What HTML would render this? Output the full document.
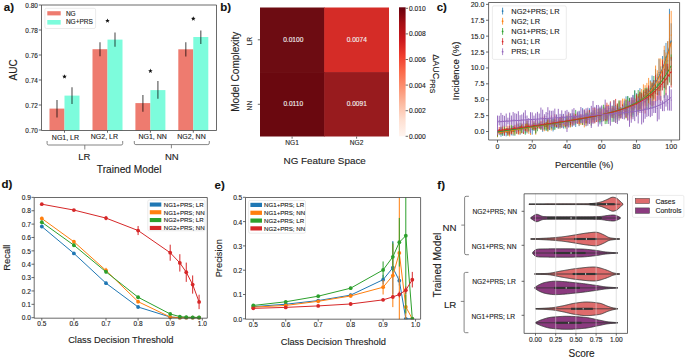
<!DOCTYPE html>
<html><head><meta charset="utf-8"><style>
html,body{margin:0;padding:0;background:#fff;}
svg{display:block;font-family:"Liberation Sans", sans-serif;}
text{stroke-width:0.12px;}
</style></head><body>
<svg width="685" height="359" viewBox="0 0 685 359">
<rect width="685" height="359" fill="#fff"/>
<text x="3.80" y="10.90" font-size="11.5" text-anchor="start" font-weight="bold" fill="#111" stroke="#111">a)</text>
<rect x="49.50" y="108.60" width="15.00" height="21.90" fill="#ee7b6f" stroke="none" stroke-width="0" rx="0"/>
<rect x="64.50" y="95.60" width="15.00" height="34.90" fill="#7dfcdc" stroke="none" stroke-width="0" rx="0"/>
<line x1="57.00" y1="100.10" x2="57.00" y2="117.50" stroke="#000" stroke-width="1.2" stroke-opacity="0.62"/>
<line x1="72.00" y1="87.20" x2="72.00" y2="104.10" stroke="#000" stroke-width="1.2" stroke-opacity="0.62"/>
<polygon points="64.50,74.20 65.12,75.75 66.78,75.86 65.50,76.92 65.91,78.54 64.50,77.65 63.09,78.54 63.50,76.92 62.22,75.86 63.88,75.75" fill="#111"/>
<rect x="92.50" y="49.20" width="15.00" height="81.30" fill="#ee7b6f" stroke="none" stroke-width="0" rx="0"/>
<rect x="107.50" y="39.60" width="15.00" height="90.90" fill="#7dfcdc" stroke="none" stroke-width="0" rx="0"/>
<line x1="100.00" y1="42.30" x2="100.00" y2="56.30" stroke="#000" stroke-width="1.2" stroke-opacity="0.62"/>
<line x1="115.00" y1="32.50" x2="115.00" y2="46.80" stroke="#000" stroke-width="1.2" stroke-opacity="0.62"/>
<polygon points="107.50,18.40 108.12,19.95 109.78,20.06 108.50,21.12 108.91,22.74 107.50,21.85 106.09,22.74 106.50,21.12 105.22,20.06 106.88,19.95" fill="#111"/>
<rect x="135.40" y="103.10" width="15.00" height="27.40" fill="#ee7b6f" stroke="none" stroke-width="0" rx="0"/>
<rect x="150.40" y="90.10" width="15.00" height="40.40" fill="#7dfcdc" stroke="none" stroke-width="0" rx="0"/>
<line x1="142.90" y1="95.10" x2="142.90" y2="111.80" stroke="#000" stroke-width="1.2" stroke-opacity="0.62"/>
<line x1="157.90" y1="80.90" x2="157.90" y2="98.80" stroke="#000" stroke-width="1.2" stroke-opacity="0.62"/>
<polygon points="150.40,68.60 151.02,70.15 152.68,70.26 151.40,71.32 151.81,72.94 150.40,72.05 148.99,72.94 149.40,71.32 148.12,70.26 149.78,70.15" fill="#111"/>
<rect x="178.30" y="49.30" width="15.00" height="81.20" fill="#ee7b6f" stroke="none" stroke-width="0" rx="0"/>
<rect x="193.30" y="37.00" width="15.00" height="93.50" fill="#7dfcdc" stroke="none" stroke-width="0" rx="0"/>
<line x1="185.80" y1="42.30" x2="185.80" y2="56.50" stroke="#000" stroke-width="1.2" stroke-opacity="0.62"/>
<line x1="200.80" y1="30.60" x2="200.80" y2="44.00" stroke="#000" stroke-width="1.2" stroke-opacity="0.62"/>
<polygon points="193.30,16.30 193.92,17.85 195.58,17.96 194.30,19.02 194.71,20.64 193.30,19.75 191.89,20.64 192.30,19.02 191.02,17.96 192.68,17.85" fill="#111"/>
<line x1="41.50" y1="5.00" x2="41.50" y2="130.50" stroke="#444" stroke-width="0.8"/>
<line x1="216.50" y1="5.00" x2="216.50" y2="130.50" stroke="#444" stroke-width="0.8"/>
<line x1="41.50" y1="5.00" x2="216.50" y2="5.00" stroke="#444" stroke-width="0.8"/>
<line x1="41.50" y1="130.50" x2="216.50" y2="130.50" stroke="#444" stroke-width="0.8"/>
<line x1="38.80" y1="130.00" x2="41.50" y2="130.00" stroke="#444" stroke-width="0.8"/>
<text x="37.80" y="133.00" font-size="6.4" text-anchor="end" font-weight="normal" fill="#222" stroke="#222">0.70</text>
<line x1="38.80" y1="105.00" x2="41.50" y2="105.00" stroke="#444" stroke-width="0.8"/>
<text x="37.80" y="108.00" font-size="6.4" text-anchor="end" font-weight="normal" fill="#222" stroke="#222">0.72</text>
<line x1="38.80" y1="80.00" x2="41.50" y2="80.00" stroke="#444" stroke-width="0.8"/>
<text x="37.80" y="83.00" font-size="6.4" text-anchor="end" font-weight="normal" fill="#222" stroke="#222">0.74</text>
<line x1="38.80" y1="55.00" x2="41.50" y2="55.00" stroke="#444" stroke-width="0.8"/>
<text x="37.80" y="58.00" font-size="6.4" text-anchor="end" font-weight="normal" fill="#222" stroke="#222">0.76</text>
<line x1="38.80" y1="30.00" x2="41.50" y2="30.00" stroke="#444" stroke-width="0.8"/>
<text x="37.80" y="33.00" font-size="6.4" text-anchor="end" font-weight="normal" fill="#222" stroke="#222">0.78</text>
<line x1="38.80" y1="5.00" x2="41.50" y2="5.00" stroke="#444" stroke-width="0.8"/>
<text x="37.80" y="8.00" font-size="6.4" text-anchor="end" font-weight="normal" fill="#222" stroke="#222">0.80</text>
<line x1="64.50" y1="130.50" x2="64.50" y2="132.70" stroke="#444" stroke-width="0.8"/>
<line x1="107.50" y1="130.50" x2="107.50" y2="132.70" stroke="#444" stroke-width="0.8"/>
<line x1="150.40" y1="130.50" x2="150.40" y2="132.70" stroke="#444" stroke-width="0.8"/>
<line x1="193.30" y1="130.50" x2="193.30" y2="132.70" stroke="#444" stroke-width="0.8"/>
<text x="65.45" y="139.70" font-size="7" text-anchor="middle" font-weight="normal" fill="#222" stroke="#222">NG1, LR</text>
<text x="104.40" y="138.80" font-size="7" text-anchor="middle" font-weight="normal" fill="#222" stroke="#222">NG2, LR</text>
<text x="152.60" y="139.10" font-size="7" text-anchor="middle" font-weight="normal" fill="#222" stroke="#222">NG1, NN</text>
<text x="191.50" y="139.10" font-size="7" text-anchor="middle" font-weight="normal" fill="#222" stroke="#222">NG2, NN</text>
<path d="M47.10,141.00 L47.10,143.50 Q47.10,145.00 48.60,145.00 L121.20,145.00 Q122.70,145.00 122.70,143.50 L122.70,141.00 M84.80,145.00 L84.80,149.50" fill="none" stroke="#666" stroke-width="0.8"/>
<path d="M134.30,141.00 L134.30,143.10 Q134.30,144.60 135.80,144.60 L207.80,144.60 Q209.30,144.60 209.30,143.10 L209.30,141.00 M171.40,144.60 L171.40,148.30" fill="none" stroke="#666" stroke-width="0.8"/>
<text x="84.30" y="160.30" font-size="9.5" text-anchor="middle" font-weight="normal" fill="#222" stroke="#222">LR</text>
<text x="171.85" y="159.80" font-size="9.5" text-anchor="middle" font-weight="normal" fill="#222" stroke="#222">NN</text>
<text x="129.20" y="172.70" font-size="10.2" text-anchor="middle" font-weight="normal" fill="#222" stroke="#222">Trained Model</text>
<text x="16.70" y="69.90" font-size="10" text-anchor="middle" font-weight="normal" fill="#222" stroke="#222" transform="rotate(-90 16.7 69.9)">AUC</text>
<rect x="44.90" y="8.30" width="50.70" height="20.20" fill="#fff" stroke="#ddd" stroke-width="0.6" rx="1.5" fill-opacity="0.85"/>
<rect x="47.30" y="11.20" width="13.40" height="4.20" fill="#ee7b6f" stroke="none" stroke-width="0" rx="0"/>
<rect x="47.30" y="20.00" width="13.40" height="4.60" fill="#7dfcdc" stroke="none" stroke-width="0" rx="0"/>
<text x="65.90" y="15.60" font-size="6.5" text-anchor="start" font-weight="normal" fill="#222" stroke="#222">NG</text>
<text x="65.90" y="24.40" font-size="6.5" text-anchor="start" font-weight="normal" fill="#222" stroke="#222">NG+PRS</text>
<text x="220.30" y="10.90" font-size="11.5" text-anchor="start" font-weight="bold" fill="#111" stroke="#111">b)</text>
<rect x="260.00" y="7.50" width="64.80" height="65.20" fill="#6d0c12" stroke="none" stroke-width="0" rx="0"/>
<text x="293.30" y="41.90" font-size="6.6" text-anchor="middle" font-weight="normal" fill="#f2f2f2" stroke="#f2f2f2">0.0100</text>
<rect x="324.20" y="7.50" width="64.80" height="65.20" fill="#d52c27" stroke="none" stroke-width="0" rx="0"/>
<text x="356.80" y="41.90" font-size="6.6" text-anchor="middle" font-weight="normal" fill="#f2f2f2" stroke="#f2f2f2">0.0074</text>
<rect x="260.00" y="72.10" width="64.80" height="64.40" fill="#6a080f" stroke="none" stroke-width="0" rx="0"/>
<text x="293.30" y="106.40" font-size="6.6" text-anchor="middle" font-weight="normal" fill="#f2f2f2" stroke="#f2f2f2">0.0110</text>
<rect x="324.20" y="72.10" width="64.80" height="64.40" fill="#981b1e" stroke="none" stroke-width="0" rx="0"/>
<text x="356.80" y="106.40" font-size="6.6" text-anchor="middle" font-weight="normal" fill="#f2f2f2" stroke="#f2f2f2">0.0091</text>
<line x1="257.80" y1="39.80" x2="260.00" y2="39.80" stroke="#444" stroke-width="0.8"/>
<text x="252.40" y="41.10" font-size="6.6" text-anchor="middle" font-weight="normal" fill="#222" stroke="#222" transform="rotate(-90 252.4 41.099999999999994)">LR</text>
<line x1="257.80" y1="104.30" x2="260.00" y2="104.30" stroke="#444" stroke-width="0.8"/>
<text x="252.40" y="105.60" font-size="6.6" text-anchor="middle" font-weight="normal" fill="#222" stroke="#222" transform="rotate(-90 252.4 105.6)">NN</text>
<line x1="292.10" y1="136.50" x2="292.10" y2="138.70" stroke="#444" stroke-width="0.8"/>
<text x="292.10" y="145.30" font-size="6.6" text-anchor="middle" font-weight="normal" fill="#222" stroke="#222">NG1</text>
<line x1="356.60" y1="136.50" x2="356.60" y2="138.70" stroke="#444" stroke-width="0.8"/>
<text x="356.60" y="145.30" font-size="6.6" text-anchor="middle" font-weight="normal" fill="#222" stroke="#222">NG2</text>
<text x="324.70" y="163.70" font-size="9.9" text-anchor="middle" font-weight="normal" fill="#222" stroke="#222">NG Feature Space</text>
<text x="239.30" y="71.70" font-size="10.1" text-anchor="middle" font-weight="normal" fill="#222" stroke="#222" transform="rotate(-90 239.3 71.7)">Model Complexity</text>
<defs><linearGradient id="reds" x1="0" y1="1" x2="0" y2="0"><stop offset="0" stop-color="#fff5f0"/><stop offset="0.125" stop-color="#fee0d2"/><stop offset="0.25" stop-color="#fcbba1"/><stop offset="0.375" stop-color="#fc9272"/><stop offset="0.5" stop-color="#fb6a4a"/><stop offset="0.625" stop-color="#ef3b2c"/><stop offset="0.75" stop-color="#cb181d"/><stop offset="0.875" stop-color="#a50f15"/><stop offset="1" stop-color="#67000d"/></linearGradient></defs>
<rect x="399.00" y="7.30" width="6.60" height="129.00" fill="url(#reds)" stroke="none" stroke-width="0" rx="0"/>
<line x1="405.60" y1="136.30" x2="408.00" y2="136.30" stroke="#444" stroke-width="0.8"/>
<text x="409.00" y="138.70" font-size="6.7" text-anchor="start" font-weight="normal" fill="#222" stroke="#222">0.000</text>
<line x1="405.60" y1="110.70" x2="408.00" y2="110.70" stroke="#444" stroke-width="0.8"/>
<text x="409.00" y="113.10" font-size="6.7" text-anchor="start" font-weight="normal" fill="#222" stroke="#222">0.002</text>
<line x1="405.60" y1="85.10" x2="408.00" y2="85.10" stroke="#444" stroke-width="0.8"/>
<text x="409.00" y="87.50" font-size="6.7" text-anchor="start" font-weight="normal" fill="#222" stroke="#222">0.004</text>
<line x1="405.60" y1="59.50" x2="408.00" y2="59.50" stroke="#444" stroke-width="0.8"/>
<text x="409.00" y="61.90" font-size="6.7" text-anchor="start" font-weight="normal" fill="#222" stroke="#222">0.006</text>
<line x1="405.60" y1="33.90" x2="408.00" y2="33.90" stroke="#444" stroke-width="0.8"/>
<text x="409.00" y="36.30" font-size="6.7" text-anchor="start" font-weight="normal" fill="#222" stroke="#222">0.008</text>
<line x1="405.60" y1="8.30" x2="408.00" y2="8.30" stroke="#444" stroke-width="0.8"/>
<text x="409.00" y="10.70" font-size="6.7" text-anchor="start" font-weight="normal" fill="#222" stroke="#222">0.010</text>
<text x="432.6" y="54.2" font-size="9" fill="#222" stroke="#222" transform="rotate(90 432.6 54.2)">&#916;AUC<tspan font-size="6.8" dy="2.6">PRS</tspan></text>
<text x="436.70" y="11.30" font-size="11.5" text-anchor="start" font-weight="bold" fill="#111" stroke="#111">c)</text>
<defs><clipPath id="clipc"><rect x="488.6" y="2.5" width="191.0" height="137.5"/></clipPath></defs>
<g clip-path="url(#clipc)">
<line x1="497.50" y1="135.50" x2="497.50" y2="129.94" stroke="#1f77b4" stroke-width="0.75"/>
<circle cx="497.50" cy="132.72" r="0.55" fill="#1f77b4"/>
<line x1="499.24" y1="135.17" x2="499.24" y2="128.95" stroke="#1f77b4" stroke-width="0.75"/>
<circle cx="499.24" cy="132.06" r="0.55" fill="#1f77b4"/>
<line x1="500.97" y1="136.72" x2="500.97" y2="128.26" stroke="#1f77b4" stroke-width="0.75"/>
<circle cx="500.97" cy="132.49" r="0.55" fill="#1f77b4"/>
<line x1="502.71" y1="135.62" x2="502.71" y2="130.34" stroke="#1f77b4" stroke-width="0.75"/>
<circle cx="502.71" cy="132.98" r="0.55" fill="#1f77b4"/>
<line x1="504.45" y1="135.60" x2="504.45" y2="128.69" stroke="#1f77b4" stroke-width="0.75"/>
<circle cx="504.45" cy="132.15" r="0.55" fill="#1f77b4"/>
<line x1="506.19" y1="136.35" x2="506.19" y2="128.75" stroke="#1f77b4" stroke-width="0.75"/>
<circle cx="506.19" cy="132.55" r="0.55" fill="#1f77b4"/>
<line x1="507.92" y1="133.70" x2="507.92" y2="128.14" stroke="#1f77b4" stroke-width="0.75"/>
<circle cx="507.92" cy="130.92" r="0.55" fill="#1f77b4"/>
<line x1="509.66" y1="132.32" x2="509.66" y2="125.60" stroke="#1f77b4" stroke-width="0.75"/>
<circle cx="509.66" cy="128.96" r="0.55" fill="#1f77b4"/>
<line x1="511.40" y1="135.30" x2="511.40" y2="126.84" stroke="#1f77b4" stroke-width="0.75"/>
<circle cx="511.40" cy="131.07" r="0.55" fill="#1f77b4"/>
<line x1="513.13" y1="135.73" x2="513.13" y2="126.19" stroke="#1f77b4" stroke-width="0.75"/>
<circle cx="513.13" cy="130.96" r="0.55" fill="#1f77b4"/>
<line x1="514.87" y1="131.42" x2="514.87" y2="126.96" stroke="#1f77b4" stroke-width="0.75"/>
<circle cx="514.87" cy="129.19" r="0.55" fill="#1f77b4"/>
<line x1="516.61" y1="134.05" x2="516.61" y2="124.11" stroke="#1f77b4" stroke-width="0.75"/>
<circle cx="516.61" cy="129.08" r="0.55" fill="#1f77b4"/>
<line x1="518.34" y1="130.91" x2="518.34" y2="127.36" stroke="#1f77b4" stroke-width="0.75"/>
<circle cx="518.34" cy="129.13" r="0.55" fill="#1f77b4"/>
<line x1="520.08" y1="134.72" x2="520.08" y2="125.81" stroke="#1f77b4" stroke-width="0.75"/>
<circle cx="520.08" cy="130.26" r="0.55" fill="#1f77b4"/>
<line x1="521.82" y1="133.46" x2="521.82" y2="124.02" stroke="#1f77b4" stroke-width="0.75"/>
<circle cx="521.82" cy="128.74" r="0.55" fill="#1f77b4"/>
<line x1="523.55" y1="129.76" x2="523.55" y2="125.12" stroke="#1f77b4" stroke-width="0.75"/>
<circle cx="523.55" cy="127.44" r="0.55" fill="#1f77b4"/>
<line x1="525.29" y1="133.40" x2="525.29" y2="126.63" stroke="#1f77b4" stroke-width="0.75"/>
<circle cx="525.29" cy="130.02" r="0.55" fill="#1f77b4"/>
<line x1="527.03" y1="133.39" x2="527.03" y2="123.58" stroke="#1f77b4" stroke-width="0.75"/>
<circle cx="527.03" cy="128.49" r="0.55" fill="#1f77b4"/>
<line x1="528.77" y1="132.21" x2="528.77" y2="128.33" stroke="#1f77b4" stroke-width="0.75"/>
<circle cx="528.77" cy="130.27" r="0.55" fill="#1f77b4"/>
<line x1="530.50" y1="133.42" x2="530.50" y2="124.82" stroke="#1f77b4" stroke-width="0.75"/>
<circle cx="530.50" cy="129.12" r="0.55" fill="#1f77b4"/>
<line x1="532.24" y1="134.64" x2="532.24" y2="124.66" stroke="#1f77b4" stroke-width="0.75"/>
<circle cx="532.24" cy="129.65" r="0.55" fill="#1f77b4"/>
<line x1="533.98" y1="130.98" x2="533.98" y2="123.08" stroke="#1f77b4" stroke-width="0.75"/>
<circle cx="533.98" cy="127.03" r="0.55" fill="#1f77b4"/>
<line x1="535.71" y1="133.10" x2="535.71" y2="123.43" stroke="#1f77b4" stroke-width="0.75"/>
<circle cx="535.71" cy="128.27" r="0.55" fill="#1f77b4"/>
<line x1="537.45" y1="128.60" x2="537.45" y2="122.81" stroke="#1f77b4" stroke-width="0.75"/>
<circle cx="537.45" cy="125.71" r="0.55" fill="#1f77b4"/>
<line x1="539.19" y1="128.40" x2="539.19" y2="122.77" stroke="#1f77b4" stroke-width="0.75"/>
<circle cx="539.19" cy="125.59" r="0.55" fill="#1f77b4"/>
<line x1="540.92" y1="129.33" x2="540.92" y2="122.30" stroke="#1f77b4" stroke-width="0.75"/>
<circle cx="540.92" cy="125.82" r="0.55" fill="#1f77b4"/>
<line x1="542.66" y1="131.87" x2="542.66" y2="126.28" stroke="#1f77b4" stroke-width="0.75"/>
<circle cx="542.66" cy="129.07" r="0.55" fill="#1f77b4"/>
<line x1="544.40" y1="129.30" x2="544.40" y2="122.26" stroke="#1f77b4" stroke-width="0.75"/>
<circle cx="544.40" cy="125.78" r="0.55" fill="#1f77b4"/>
<line x1="546.14" y1="130.83" x2="546.14" y2="118.65" stroke="#1f77b4" stroke-width="0.75"/>
<circle cx="546.14" cy="124.74" r="0.55" fill="#1f77b4"/>
<line x1="547.87" y1="128.76" x2="547.87" y2="119.64" stroke="#1f77b4" stroke-width="0.75"/>
<circle cx="547.87" cy="124.20" r="0.55" fill="#1f77b4"/>
<line x1="549.61" y1="130.09" x2="549.61" y2="122.88" stroke="#1f77b4" stroke-width="0.75"/>
<circle cx="549.61" cy="126.49" r="0.55" fill="#1f77b4"/>
<line x1="551.35" y1="127.89" x2="551.35" y2="121.21" stroke="#1f77b4" stroke-width="0.75"/>
<circle cx="551.35" cy="124.55" r="0.55" fill="#1f77b4"/>
<line x1="553.08" y1="131.42" x2="553.08" y2="118.71" stroke="#1f77b4" stroke-width="0.75"/>
<circle cx="553.08" cy="125.06" r="0.55" fill="#1f77b4"/>
<line x1="554.82" y1="128.69" x2="554.82" y2="120.33" stroke="#1f77b4" stroke-width="0.75"/>
<circle cx="554.82" cy="124.51" r="0.55" fill="#1f77b4"/>
<line x1="556.56" y1="127.82" x2="556.56" y2="114.60" stroke="#1f77b4" stroke-width="0.75"/>
<circle cx="556.56" cy="121.21" r="0.55" fill="#1f77b4"/>
<line x1="558.29" y1="128.52" x2="558.29" y2="119.36" stroke="#1f77b4" stroke-width="0.75"/>
<circle cx="558.29" cy="123.94" r="0.55" fill="#1f77b4"/>
<line x1="560.03" y1="127.04" x2="560.03" y2="117.74" stroke="#1f77b4" stroke-width="0.75"/>
<circle cx="560.03" cy="122.39" r="0.55" fill="#1f77b4"/>
<line x1="561.77" y1="127.00" x2="561.77" y2="114.16" stroke="#1f77b4" stroke-width="0.75"/>
<circle cx="561.77" cy="120.58" r="0.55" fill="#1f77b4"/>
<line x1="563.51" y1="128.49" x2="563.51" y2="116.95" stroke="#1f77b4" stroke-width="0.75"/>
<circle cx="563.51" cy="122.72" r="0.55" fill="#1f77b4"/>
<line x1="565.24" y1="126.70" x2="565.24" y2="116.58" stroke="#1f77b4" stroke-width="0.75"/>
<circle cx="565.24" cy="121.64" r="0.55" fill="#1f77b4"/>
<line x1="566.98" y1="125.35" x2="566.98" y2="116.59" stroke="#1f77b4" stroke-width="0.75"/>
<circle cx="566.98" cy="120.97" r="0.55" fill="#1f77b4"/>
<line x1="568.72" y1="127.33" x2="568.72" y2="114.17" stroke="#1f77b4" stroke-width="0.75"/>
<circle cx="568.72" cy="120.75" r="0.55" fill="#1f77b4"/>
<line x1="570.45" y1="127.05" x2="570.45" y2="118.26" stroke="#1f77b4" stroke-width="0.75"/>
<circle cx="570.45" cy="122.65" r="0.55" fill="#1f77b4"/>
<line x1="572.19" y1="127.05" x2="572.19" y2="113.21" stroke="#1f77b4" stroke-width="0.75"/>
<circle cx="572.19" cy="120.13" r="0.55" fill="#1f77b4"/>
<line x1="573.93" y1="120.39" x2="573.93" y2="114.81" stroke="#1f77b4" stroke-width="0.75"/>
<circle cx="573.93" cy="117.60" r="0.55" fill="#1f77b4"/>
<line x1="575.66" y1="126.96" x2="575.66" y2="117.74" stroke="#1f77b4" stroke-width="0.75"/>
<circle cx="575.66" cy="122.35" r="0.55" fill="#1f77b4"/>
<line x1="577.40" y1="122.94" x2="577.40" y2="112.74" stroke="#1f77b4" stroke-width="0.75"/>
<circle cx="577.40" cy="117.84" r="0.55" fill="#1f77b4"/>
<line x1="579.14" y1="126.15" x2="579.14" y2="111.51" stroke="#1f77b4" stroke-width="0.75"/>
<circle cx="579.14" cy="118.83" r="0.55" fill="#1f77b4"/>
<line x1="580.88" y1="123.70" x2="580.88" y2="116.05" stroke="#1f77b4" stroke-width="0.75"/>
<circle cx="580.88" cy="119.87" r="0.55" fill="#1f77b4"/>
<line x1="582.61" y1="121.54" x2="582.61" y2="108.11" stroke="#1f77b4" stroke-width="0.75"/>
<circle cx="582.61" cy="114.83" r="0.55" fill="#1f77b4"/>
<line x1="584.35" y1="122.83" x2="584.35" y2="110.62" stroke="#1f77b4" stroke-width="0.75"/>
<circle cx="584.35" cy="116.72" r="0.55" fill="#1f77b4"/>
<line x1="586.09" y1="126.34" x2="586.09" y2="113.59" stroke="#1f77b4" stroke-width="0.75"/>
<circle cx="586.09" cy="119.96" r="0.55" fill="#1f77b4"/>
<line x1="587.82" y1="123.29" x2="587.82" y2="111.35" stroke="#1f77b4" stroke-width="0.75"/>
<circle cx="587.82" cy="117.32" r="0.55" fill="#1f77b4"/>
<line x1="589.56" y1="123.92" x2="589.56" y2="108.22" stroke="#1f77b4" stroke-width="0.75"/>
<circle cx="589.56" cy="116.07" r="0.55" fill="#1f77b4"/>
<line x1="591.30" y1="121.63" x2="591.30" y2="112.67" stroke="#1f77b4" stroke-width="0.75"/>
<circle cx="591.30" cy="117.15" r="0.55" fill="#1f77b4"/>
<line x1="593.03" y1="120.07" x2="593.03" y2="110.30" stroke="#1f77b4" stroke-width="0.75"/>
<circle cx="593.03" cy="115.19" r="0.55" fill="#1f77b4"/>
<line x1="594.77" y1="120.10" x2="594.77" y2="112.39" stroke="#1f77b4" stroke-width="0.75"/>
<circle cx="594.77" cy="116.25" r="0.55" fill="#1f77b4"/>
<line x1="596.51" y1="117.55" x2="596.51" y2="111.46" stroke="#1f77b4" stroke-width="0.75"/>
<circle cx="596.51" cy="114.50" r="0.55" fill="#1f77b4"/>
<line x1="598.25" y1="116.65" x2="598.25" y2="108.68" stroke="#1f77b4" stroke-width="0.75"/>
<circle cx="598.25" cy="112.66" r="0.55" fill="#1f77b4"/>
<line x1="599.98" y1="124.35" x2="599.98" y2="108.37" stroke="#1f77b4" stroke-width="0.75"/>
<circle cx="599.98" cy="116.36" r="0.55" fill="#1f77b4"/>
<line x1="601.72" y1="121.93" x2="601.72" y2="106.64" stroke="#1f77b4" stroke-width="0.75"/>
<circle cx="601.72" cy="114.29" r="0.55" fill="#1f77b4"/>
<line x1="603.46" y1="118.73" x2="603.46" y2="111.68" stroke="#1f77b4" stroke-width="0.75"/>
<circle cx="603.46" cy="115.21" r="0.55" fill="#1f77b4"/>
<line x1="605.19" y1="120.08" x2="605.19" y2="107.23" stroke="#1f77b4" stroke-width="0.75"/>
<circle cx="605.19" cy="113.65" r="0.55" fill="#1f77b4"/>
<line x1="606.93" y1="121.62" x2="606.93" y2="110.11" stroke="#1f77b4" stroke-width="0.75"/>
<circle cx="606.93" cy="115.86" r="0.55" fill="#1f77b4"/>
<line x1="608.67" y1="120.75" x2="608.67" y2="107.74" stroke="#1f77b4" stroke-width="0.75"/>
<circle cx="608.67" cy="114.24" r="0.55" fill="#1f77b4"/>
<line x1="610.40" y1="120.01" x2="610.40" y2="106.08" stroke="#1f77b4" stroke-width="0.75"/>
<circle cx="610.40" cy="113.04" r="0.55" fill="#1f77b4"/>
<line x1="612.14" y1="115.26" x2="612.14" y2="105.46" stroke="#1f77b4" stroke-width="0.75"/>
<circle cx="612.14" cy="110.36" r="0.55" fill="#1f77b4"/>
<line x1="613.88" y1="118.34" x2="613.88" y2="100.38" stroke="#1f77b4" stroke-width="0.75"/>
<circle cx="613.88" cy="109.36" r="0.55" fill="#1f77b4"/>
<line x1="615.62" y1="120.00" x2="615.62" y2="107.98" stroke="#1f77b4" stroke-width="0.75"/>
<circle cx="615.62" cy="113.99" r="0.55" fill="#1f77b4"/>
<line x1="617.35" y1="119.49" x2="617.35" y2="105.29" stroke="#1f77b4" stroke-width="0.75"/>
<circle cx="617.35" cy="112.39" r="0.55" fill="#1f77b4"/>
<line x1="619.09" y1="116.04" x2="619.09" y2="101.57" stroke="#1f77b4" stroke-width="0.75"/>
<circle cx="619.09" cy="108.81" r="0.55" fill="#1f77b4"/>
<line x1="620.83" y1="118.31" x2="620.83" y2="109.47" stroke="#1f77b4" stroke-width="0.75"/>
<circle cx="620.83" cy="113.89" r="0.55" fill="#1f77b4"/>
<line x1="622.56" y1="113.70" x2="622.56" y2="106.33" stroke="#1f77b4" stroke-width="0.75"/>
<circle cx="622.56" cy="110.01" r="0.55" fill="#1f77b4"/>
<line x1="624.30" y1="114.64" x2="624.30" y2="102.53" stroke="#1f77b4" stroke-width="0.75"/>
<circle cx="624.30" cy="108.59" r="0.55" fill="#1f77b4"/>
<line x1="626.04" y1="113.43" x2="626.04" y2="96.37" stroke="#1f77b4" stroke-width="0.75"/>
<circle cx="626.04" cy="104.90" r="0.55" fill="#1f77b4"/>
<line x1="627.77" y1="114.44" x2="627.77" y2="96.40" stroke="#1f77b4" stroke-width="0.75"/>
<circle cx="627.77" cy="105.42" r="0.55" fill="#1f77b4"/>
<line x1="629.51" y1="115.52" x2="629.51" y2="98.37" stroke="#1f77b4" stroke-width="0.75"/>
<circle cx="629.51" cy="106.95" r="0.55" fill="#1f77b4"/>
<line x1="631.25" y1="110.58" x2="631.25" y2="101.87" stroke="#1f77b4" stroke-width="0.75"/>
<circle cx="631.25" cy="106.23" r="0.55" fill="#1f77b4"/>
<line x1="632.99" y1="115.29" x2="632.99" y2="94.85" stroke="#1f77b4" stroke-width="0.75"/>
<circle cx="632.99" cy="105.07" r="0.55" fill="#1f77b4"/>
<line x1="634.72" y1="109.49" x2="634.72" y2="90.28" stroke="#1f77b4" stroke-width="0.75"/>
<circle cx="634.72" cy="99.88" r="0.55" fill="#1f77b4"/>
<line x1="636.46" y1="113.90" x2="636.46" y2="93.16" stroke="#1f77b4" stroke-width="0.75"/>
<circle cx="636.46" cy="103.53" r="0.55" fill="#1f77b4"/>
<line x1="638.20" y1="110.00" x2="638.20" y2="94.24" stroke="#1f77b4" stroke-width="0.75"/>
<circle cx="638.20" cy="102.12" r="0.55" fill="#1f77b4"/>
<line x1="639.93" y1="110.42" x2="639.93" y2="88.11" stroke="#1f77b4" stroke-width="0.75"/>
<circle cx="639.93" cy="99.26" r="0.55" fill="#1f77b4"/>
<line x1="641.67" y1="103.56" x2="641.67" y2="94.73" stroke="#1f77b4" stroke-width="0.75"/>
<circle cx="641.67" cy="99.14" r="0.55" fill="#1f77b4"/>
<line x1="643.41" y1="102.31" x2="643.41" y2="93.51" stroke="#1f77b4" stroke-width="0.75"/>
<circle cx="643.41" cy="97.91" r="0.55" fill="#1f77b4"/>
<line x1="645.14" y1="103.26" x2="645.14" y2="94.39" stroke="#1f77b4" stroke-width="0.75"/>
<circle cx="645.14" cy="98.83" r="0.55" fill="#1f77b4"/>
<line x1="646.88" y1="100.75" x2="646.88" y2="87.52" stroke="#1f77b4" stroke-width="0.75"/>
<circle cx="646.88" cy="94.13" r="0.55" fill="#1f77b4"/>
<line x1="648.62" y1="100.27" x2="648.62" y2="86.69" stroke="#1f77b4" stroke-width="0.75"/>
<circle cx="648.62" cy="93.48" r="0.55" fill="#1f77b4"/>
<line x1="650.36" y1="93.19" x2="650.36" y2="80.29" stroke="#1f77b4" stroke-width="0.75"/>
<circle cx="650.36" cy="86.74" r="0.55" fill="#1f77b4"/>
<line x1="652.09" y1="96.29" x2="652.09" y2="75.54" stroke="#1f77b4" stroke-width="0.75"/>
<circle cx="652.09" cy="85.91" r="0.55" fill="#1f77b4"/>
<line x1="653.83" y1="90.90" x2="653.83" y2="80.02" stroke="#1f77b4" stroke-width="0.75"/>
<circle cx="653.83" cy="85.46" r="0.55" fill="#1f77b4"/>
<line x1="655.57" y1="91.94" x2="655.57" y2="69.03" stroke="#1f77b4" stroke-width="0.75"/>
<circle cx="655.57" cy="80.48" r="0.55" fill="#1f77b4"/>
<line x1="657.30" y1="88.05" x2="657.30" y2="73.45" stroke="#1f77b4" stroke-width="0.75"/>
<circle cx="657.30" cy="80.75" r="0.55" fill="#1f77b4"/>
<line x1="659.04" y1="86.11" x2="659.04" y2="59.11" stroke="#1f77b4" stroke-width="0.75"/>
<circle cx="659.04" cy="72.61" r="0.55" fill="#1f77b4"/>
<line x1="660.78" y1="78.86" x2="660.78" y2="66.34" stroke="#1f77b4" stroke-width="0.75"/>
<circle cx="660.78" cy="72.60" r="0.55" fill="#1f77b4"/>
<line x1="662.51" y1="76.52" x2="662.51" y2="56.05" stroke="#1f77b4" stroke-width="0.75"/>
<circle cx="662.51" cy="66.29" r="0.55" fill="#1f77b4"/>
<line x1="664.25" y1="88.25" x2="664.25" y2="49.97" stroke="#1f77b4" stroke-width="0.75"/>
<circle cx="664.25" cy="69.11" r="0.55" fill="#1f77b4"/>
<line x1="665.99" y1="72.13" x2="665.99" y2="42.94" stroke="#1f77b4" stroke-width="0.75"/>
<circle cx="665.99" cy="57.54" r="0.55" fill="#1f77b4"/>
<line x1="667.73" y1="80.39" x2="667.73" y2="41.34" stroke="#1f77b4" stroke-width="0.75"/>
<circle cx="667.73" cy="60.87" r="0.55" fill="#1f77b4"/>
<line x1="669.46" y1="75.06" x2="669.46" y2="38.45" stroke="#1f77b4" stroke-width="0.75"/>
<circle cx="669.46" cy="56.75" r="0.55" fill="#1f77b4"/>
<line x1="671.20" y1="60.69" x2="671.20" y2="23.31" stroke="#1f77b4" stroke-width="0.75"/>
<circle cx="671.20" cy="42.00" r="0.55" fill="#1f77b4"/>
<line x1="497.50" y1="137.30" x2="497.50" y2="131.72" stroke="#ff7f0e" stroke-width="0.75"/>
<circle cx="497.50" cy="134.51" r="0.55" fill="#ff7f0e"/>
<line x1="499.24" y1="134.28" x2="499.24" y2="129.02" stroke="#ff7f0e" stroke-width="0.75"/>
<circle cx="499.24" cy="131.65" r="0.55" fill="#ff7f0e"/>
<line x1="500.97" y1="134.59" x2="500.97" y2="129.00" stroke="#ff7f0e" stroke-width="0.75"/>
<circle cx="500.97" cy="131.80" r="0.55" fill="#ff7f0e"/>
<line x1="502.71" y1="132.67" x2="502.71" y2="129.38" stroke="#ff7f0e" stroke-width="0.75"/>
<circle cx="502.71" cy="131.02" r="0.55" fill="#ff7f0e"/>
<line x1="504.45" y1="133.66" x2="504.45" y2="125.24" stroke="#ff7f0e" stroke-width="0.75"/>
<circle cx="504.45" cy="129.45" r="0.55" fill="#ff7f0e"/>
<line x1="506.19" y1="132.94" x2="506.19" y2="126.32" stroke="#ff7f0e" stroke-width="0.75"/>
<circle cx="506.19" cy="129.63" r="0.55" fill="#ff7f0e"/>
<line x1="507.92" y1="135.55" x2="507.92" y2="129.83" stroke="#ff7f0e" stroke-width="0.75"/>
<circle cx="507.92" cy="132.69" r="0.55" fill="#ff7f0e"/>
<line x1="509.66" y1="136.53" x2="509.66" y2="129.69" stroke="#ff7f0e" stroke-width="0.75"/>
<circle cx="509.66" cy="133.11" r="0.55" fill="#ff7f0e"/>
<line x1="511.40" y1="133.61" x2="511.40" y2="125.52" stroke="#ff7f0e" stroke-width="0.75"/>
<circle cx="511.40" cy="129.56" r="0.55" fill="#ff7f0e"/>
<line x1="513.13" y1="134.63" x2="513.13" y2="128.72" stroke="#ff7f0e" stroke-width="0.75"/>
<circle cx="513.13" cy="131.67" r="0.55" fill="#ff7f0e"/>
<line x1="514.87" y1="134.58" x2="514.87" y2="125.54" stroke="#ff7f0e" stroke-width="0.75"/>
<circle cx="514.87" cy="130.06" r="0.55" fill="#ff7f0e"/>
<line x1="516.61" y1="133.50" x2="516.61" y2="123.73" stroke="#ff7f0e" stroke-width="0.75"/>
<circle cx="516.61" cy="128.62" r="0.55" fill="#ff7f0e"/>
<line x1="518.34" y1="134.77" x2="518.34" y2="128.58" stroke="#ff7f0e" stroke-width="0.75"/>
<circle cx="518.34" cy="131.67" r="0.55" fill="#ff7f0e"/>
<line x1="520.08" y1="134.28" x2="520.08" y2="129.78" stroke="#ff7f0e" stroke-width="0.75"/>
<circle cx="520.08" cy="132.03" r="0.55" fill="#ff7f0e"/>
<line x1="521.82" y1="133.00" x2="521.82" y2="123.99" stroke="#ff7f0e" stroke-width="0.75"/>
<circle cx="521.82" cy="128.50" r="0.55" fill="#ff7f0e"/>
<line x1="523.55" y1="133.90" x2="523.55" y2="123.09" stroke="#ff7f0e" stroke-width="0.75"/>
<circle cx="523.55" cy="128.50" r="0.55" fill="#ff7f0e"/>
<line x1="525.29" y1="130.98" x2="525.29" y2="126.23" stroke="#ff7f0e" stroke-width="0.75"/>
<circle cx="525.29" cy="128.61" r="0.55" fill="#ff7f0e"/>
<line x1="527.03" y1="132.41" x2="527.03" y2="123.42" stroke="#ff7f0e" stroke-width="0.75"/>
<circle cx="527.03" cy="127.91" r="0.55" fill="#ff7f0e"/>
<line x1="528.77" y1="133.87" x2="528.77" y2="123.92" stroke="#ff7f0e" stroke-width="0.75"/>
<circle cx="528.77" cy="128.90" r="0.55" fill="#ff7f0e"/>
<line x1="530.50" y1="134.94" x2="530.50" y2="124.15" stroke="#ff7f0e" stroke-width="0.75"/>
<circle cx="530.50" cy="129.55" r="0.55" fill="#ff7f0e"/>
<line x1="532.24" y1="129.71" x2="532.24" y2="124.92" stroke="#ff7f0e" stroke-width="0.75"/>
<circle cx="532.24" cy="127.32" r="0.55" fill="#ff7f0e"/>
<line x1="533.98" y1="130.50" x2="533.98" y2="125.90" stroke="#ff7f0e" stroke-width="0.75"/>
<circle cx="533.98" cy="128.20" r="0.55" fill="#ff7f0e"/>
<line x1="535.71" y1="134.75" x2="535.71" y2="123.06" stroke="#ff7f0e" stroke-width="0.75"/>
<circle cx="535.71" cy="128.90" r="0.55" fill="#ff7f0e"/>
<line x1="537.45" y1="127.89" x2="537.45" y2="122.99" stroke="#ff7f0e" stroke-width="0.75"/>
<circle cx="537.45" cy="125.44" r="0.55" fill="#ff7f0e"/>
<line x1="539.19" y1="128.70" x2="539.19" y2="123.26" stroke="#ff7f0e" stroke-width="0.75"/>
<circle cx="539.19" cy="125.98" r="0.55" fill="#ff7f0e"/>
<line x1="540.92" y1="129.35" x2="540.92" y2="120.61" stroke="#ff7f0e" stroke-width="0.75"/>
<circle cx="540.92" cy="124.98" r="0.55" fill="#ff7f0e"/>
<line x1="542.66" y1="130.69" x2="542.66" y2="122.91" stroke="#ff7f0e" stroke-width="0.75"/>
<circle cx="542.66" cy="126.80" r="0.55" fill="#ff7f0e"/>
<line x1="544.40" y1="131.20" x2="544.40" y2="120.81" stroke="#ff7f0e" stroke-width="0.75"/>
<circle cx="544.40" cy="126.01" r="0.55" fill="#ff7f0e"/>
<line x1="546.14" y1="129.14" x2="546.14" y2="123.34" stroke="#ff7f0e" stroke-width="0.75"/>
<circle cx="546.14" cy="126.24" r="0.55" fill="#ff7f0e"/>
<line x1="547.87" y1="131.78" x2="547.87" y2="119.78" stroke="#ff7f0e" stroke-width="0.75"/>
<circle cx="547.87" cy="125.78" r="0.55" fill="#ff7f0e"/>
<line x1="549.61" y1="126.87" x2="549.61" y2="120.72" stroke="#ff7f0e" stroke-width="0.75"/>
<circle cx="549.61" cy="123.80" r="0.55" fill="#ff7f0e"/>
<line x1="551.35" y1="130.54" x2="551.35" y2="119.54" stroke="#ff7f0e" stroke-width="0.75"/>
<circle cx="551.35" cy="125.04" r="0.55" fill="#ff7f0e"/>
<line x1="553.08" y1="125.43" x2="553.08" y2="120.46" stroke="#ff7f0e" stroke-width="0.75"/>
<circle cx="553.08" cy="122.94" r="0.55" fill="#ff7f0e"/>
<line x1="554.82" y1="126.97" x2="554.82" y2="118.36" stroke="#ff7f0e" stroke-width="0.75"/>
<circle cx="554.82" cy="122.66" r="0.55" fill="#ff7f0e"/>
<line x1="556.56" y1="122.02" x2="556.56" y2="117.26" stroke="#ff7f0e" stroke-width="0.75"/>
<circle cx="556.56" cy="119.64" r="0.55" fill="#ff7f0e"/>
<line x1="558.29" y1="128.55" x2="558.29" y2="121.20" stroke="#ff7f0e" stroke-width="0.75"/>
<circle cx="558.29" cy="124.87" r="0.55" fill="#ff7f0e"/>
<line x1="560.03" y1="124.55" x2="560.03" y2="117.15" stroke="#ff7f0e" stroke-width="0.75"/>
<circle cx="560.03" cy="120.85" r="0.55" fill="#ff7f0e"/>
<line x1="561.77" y1="127.77" x2="561.77" y2="116.54" stroke="#ff7f0e" stroke-width="0.75"/>
<circle cx="561.77" cy="122.15" r="0.55" fill="#ff7f0e"/>
<line x1="563.51" y1="126.17" x2="563.51" y2="117.29" stroke="#ff7f0e" stroke-width="0.75"/>
<circle cx="563.51" cy="121.73" r="0.55" fill="#ff7f0e"/>
<line x1="565.24" y1="126.44" x2="565.24" y2="121.22" stroke="#ff7f0e" stroke-width="0.75"/>
<circle cx="565.24" cy="123.83" r="0.55" fill="#ff7f0e"/>
<line x1="566.98" y1="128.96" x2="566.98" y2="114.79" stroke="#ff7f0e" stroke-width="0.75"/>
<circle cx="566.98" cy="121.87" r="0.55" fill="#ff7f0e"/>
<line x1="568.72" y1="126.17" x2="568.72" y2="112.88" stroke="#ff7f0e" stroke-width="0.75"/>
<circle cx="568.72" cy="119.53" r="0.55" fill="#ff7f0e"/>
<line x1="570.45" y1="127.47" x2="570.45" y2="113.78" stroke="#ff7f0e" stroke-width="0.75"/>
<circle cx="570.45" cy="120.63" r="0.55" fill="#ff7f0e"/>
<line x1="572.19" y1="123.68" x2="572.19" y2="116.40" stroke="#ff7f0e" stroke-width="0.75"/>
<circle cx="572.19" cy="120.04" r="0.55" fill="#ff7f0e"/>
<line x1="573.93" y1="124.78" x2="573.93" y2="115.97" stroke="#ff7f0e" stroke-width="0.75"/>
<circle cx="573.93" cy="120.37" r="0.55" fill="#ff7f0e"/>
<line x1="575.66" y1="121.15" x2="575.66" y2="113.93" stroke="#ff7f0e" stroke-width="0.75"/>
<circle cx="575.66" cy="117.54" r="0.55" fill="#ff7f0e"/>
<line x1="577.40" y1="122.42" x2="577.40" y2="116.15" stroke="#ff7f0e" stroke-width="0.75"/>
<circle cx="577.40" cy="119.29" r="0.55" fill="#ff7f0e"/>
<line x1="579.14" y1="125.54" x2="579.14" y2="120.14" stroke="#ff7f0e" stroke-width="0.75"/>
<circle cx="579.14" cy="122.84" r="0.55" fill="#ff7f0e"/>
<line x1="580.88" y1="124.98" x2="580.88" y2="114.73" stroke="#ff7f0e" stroke-width="0.75"/>
<circle cx="580.88" cy="119.85" r="0.55" fill="#ff7f0e"/>
<line x1="582.61" y1="125.06" x2="582.61" y2="118.63" stroke="#ff7f0e" stroke-width="0.75"/>
<circle cx="582.61" cy="121.84" r="0.55" fill="#ff7f0e"/>
<line x1="584.35" y1="127.39" x2="584.35" y2="120.35" stroke="#ff7f0e" stroke-width="0.75"/>
<circle cx="584.35" cy="123.87" r="0.55" fill="#ff7f0e"/>
<line x1="586.09" y1="125.77" x2="586.09" y2="111.47" stroke="#ff7f0e" stroke-width="0.75"/>
<circle cx="586.09" cy="118.62" r="0.55" fill="#ff7f0e"/>
<line x1="587.82" y1="120.10" x2="587.82" y2="109.66" stroke="#ff7f0e" stroke-width="0.75"/>
<circle cx="587.82" cy="114.88" r="0.55" fill="#ff7f0e"/>
<line x1="589.56" y1="120.57" x2="589.56" y2="113.25" stroke="#ff7f0e" stroke-width="0.75"/>
<circle cx="589.56" cy="116.91" r="0.55" fill="#ff7f0e"/>
<line x1="591.30" y1="125.17" x2="591.30" y2="112.53" stroke="#ff7f0e" stroke-width="0.75"/>
<circle cx="591.30" cy="118.85" r="0.55" fill="#ff7f0e"/>
<line x1="593.03" y1="122.27" x2="593.03" y2="113.91" stroke="#ff7f0e" stroke-width="0.75"/>
<circle cx="593.03" cy="118.09" r="0.55" fill="#ff7f0e"/>
<line x1="594.77" y1="119.50" x2="594.77" y2="108.19" stroke="#ff7f0e" stroke-width="0.75"/>
<circle cx="594.77" cy="113.84" r="0.55" fill="#ff7f0e"/>
<line x1="596.51" y1="119.68" x2="596.51" y2="110.98" stroke="#ff7f0e" stroke-width="0.75"/>
<circle cx="596.51" cy="115.33" r="0.55" fill="#ff7f0e"/>
<line x1="598.25" y1="120.88" x2="598.25" y2="109.48" stroke="#ff7f0e" stroke-width="0.75"/>
<circle cx="598.25" cy="115.18" r="0.55" fill="#ff7f0e"/>
<line x1="599.98" y1="121.41" x2="599.98" y2="108.62" stroke="#ff7f0e" stroke-width="0.75"/>
<circle cx="599.98" cy="115.01" r="0.55" fill="#ff7f0e"/>
<line x1="601.72" y1="120.39" x2="601.72" y2="108.53" stroke="#ff7f0e" stroke-width="0.75"/>
<circle cx="601.72" cy="114.46" r="0.55" fill="#ff7f0e"/>
<line x1="603.46" y1="117.75" x2="603.46" y2="107.40" stroke="#ff7f0e" stroke-width="0.75"/>
<circle cx="603.46" cy="112.57" r="0.55" fill="#ff7f0e"/>
<line x1="605.19" y1="120.21" x2="605.19" y2="105.14" stroke="#ff7f0e" stroke-width="0.75"/>
<circle cx="605.19" cy="112.67" r="0.55" fill="#ff7f0e"/>
<line x1="606.93" y1="121.04" x2="606.93" y2="104.83" stroke="#ff7f0e" stroke-width="0.75"/>
<circle cx="606.93" cy="112.93" r="0.55" fill="#ff7f0e"/>
<line x1="608.67" y1="119.10" x2="608.67" y2="111.00" stroke="#ff7f0e" stroke-width="0.75"/>
<circle cx="608.67" cy="115.05" r="0.55" fill="#ff7f0e"/>
<line x1="610.40" y1="115.32" x2="610.40" y2="107.65" stroke="#ff7f0e" stroke-width="0.75"/>
<circle cx="610.40" cy="111.48" r="0.55" fill="#ff7f0e"/>
<line x1="612.14" y1="117.22" x2="612.14" y2="109.75" stroke="#ff7f0e" stroke-width="0.75"/>
<circle cx="612.14" cy="113.48" r="0.55" fill="#ff7f0e"/>
<line x1="613.88" y1="118.47" x2="613.88" y2="100.24" stroke="#ff7f0e" stroke-width="0.75"/>
<circle cx="613.88" cy="109.36" r="0.55" fill="#ff7f0e"/>
<line x1="615.62" y1="122.77" x2="615.62" y2="104.80" stroke="#ff7f0e" stroke-width="0.75"/>
<circle cx="615.62" cy="113.79" r="0.55" fill="#ff7f0e"/>
<line x1="617.35" y1="115.53" x2="617.35" y2="106.32" stroke="#ff7f0e" stroke-width="0.75"/>
<circle cx="617.35" cy="110.93" r="0.55" fill="#ff7f0e"/>
<line x1="619.09" y1="119.51" x2="619.09" y2="100.74" stroke="#ff7f0e" stroke-width="0.75"/>
<circle cx="619.09" cy="110.13" r="0.55" fill="#ff7f0e"/>
<line x1="620.83" y1="116.98" x2="620.83" y2="107.82" stroke="#ff7f0e" stroke-width="0.75"/>
<circle cx="620.83" cy="112.40" r="0.55" fill="#ff7f0e"/>
<line x1="622.56" y1="111.83" x2="622.56" y2="98.63" stroke="#ff7f0e" stroke-width="0.75"/>
<circle cx="622.56" cy="105.23" r="0.55" fill="#ff7f0e"/>
<line x1="624.30" y1="111.78" x2="624.30" y2="98.52" stroke="#ff7f0e" stroke-width="0.75"/>
<circle cx="624.30" cy="105.15" r="0.55" fill="#ff7f0e"/>
<line x1="626.04" y1="118.28" x2="626.04" y2="99.18" stroke="#ff7f0e" stroke-width="0.75"/>
<circle cx="626.04" cy="108.73" r="0.55" fill="#ff7f0e"/>
<line x1="627.77" y1="108.97" x2="627.77" y2="101.56" stroke="#ff7f0e" stroke-width="0.75"/>
<circle cx="627.77" cy="105.27" r="0.55" fill="#ff7f0e"/>
<line x1="629.51" y1="111.08" x2="629.51" y2="99.72" stroke="#ff7f0e" stroke-width="0.75"/>
<circle cx="629.51" cy="105.40" r="0.55" fill="#ff7f0e"/>
<line x1="631.25" y1="119.30" x2="631.25" y2="103.72" stroke="#ff7f0e" stroke-width="0.75"/>
<circle cx="631.25" cy="111.51" r="0.55" fill="#ff7f0e"/>
<line x1="632.99" y1="108.11" x2="632.99" y2="99.94" stroke="#ff7f0e" stroke-width="0.75"/>
<circle cx="632.99" cy="104.02" r="0.55" fill="#ff7f0e"/>
<line x1="634.72" y1="109.25" x2="634.72" y2="98.42" stroke="#ff7f0e" stroke-width="0.75"/>
<circle cx="634.72" cy="103.84" r="0.55" fill="#ff7f0e"/>
<line x1="636.46" y1="109.73" x2="636.46" y2="95.26" stroke="#ff7f0e" stroke-width="0.75"/>
<circle cx="636.46" cy="102.49" r="0.55" fill="#ff7f0e"/>
<line x1="638.20" y1="114.85" x2="638.20" y2="93.70" stroke="#ff7f0e" stroke-width="0.75"/>
<circle cx="638.20" cy="104.28" r="0.55" fill="#ff7f0e"/>
<line x1="639.93" y1="111.01" x2="639.93" y2="91.25" stroke="#ff7f0e" stroke-width="0.75"/>
<circle cx="639.93" cy="101.13" r="0.55" fill="#ff7f0e"/>
<line x1="641.67" y1="110.31" x2="641.67" y2="88.98" stroke="#ff7f0e" stroke-width="0.75"/>
<circle cx="641.67" cy="99.64" r="0.55" fill="#ff7f0e"/>
<line x1="643.41" y1="105.07" x2="643.41" y2="84.31" stroke="#ff7f0e" stroke-width="0.75"/>
<circle cx="643.41" cy="94.69" r="0.55" fill="#ff7f0e"/>
<line x1="645.14" y1="105.61" x2="645.14" y2="85.18" stroke="#ff7f0e" stroke-width="0.75"/>
<circle cx="645.14" cy="95.39" r="0.55" fill="#ff7f0e"/>
<line x1="646.88" y1="106.41" x2="646.88" y2="82.90" stroke="#ff7f0e" stroke-width="0.75"/>
<circle cx="646.88" cy="94.65" r="0.55" fill="#ff7f0e"/>
<line x1="648.62" y1="99.13" x2="648.62" y2="77.91" stroke="#ff7f0e" stroke-width="0.75"/>
<circle cx="648.62" cy="88.52" r="0.55" fill="#ff7f0e"/>
<line x1="650.36" y1="103.91" x2="650.36" y2="80.98" stroke="#ff7f0e" stroke-width="0.75"/>
<circle cx="650.36" cy="92.45" r="0.55" fill="#ff7f0e"/>
<line x1="652.09" y1="97.51" x2="652.09" y2="82.11" stroke="#ff7f0e" stroke-width="0.75"/>
<circle cx="652.09" cy="89.81" r="0.55" fill="#ff7f0e"/>
<line x1="653.83" y1="98.49" x2="653.83" y2="85.18" stroke="#ff7f0e" stroke-width="0.75"/>
<circle cx="653.83" cy="91.84" r="0.55" fill="#ff7f0e"/>
<line x1="655.57" y1="91.60" x2="655.57" y2="65.55" stroke="#ff7f0e" stroke-width="0.75"/>
<circle cx="655.57" cy="78.58" r="0.55" fill="#ff7f0e"/>
<line x1="657.30" y1="84.65" x2="657.30" y2="70.26" stroke="#ff7f0e" stroke-width="0.75"/>
<circle cx="657.30" cy="77.46" r="0.55" fill="#ff7f0e"/>
<line x1="659.04" y1="90.28" x2="659.04" y2="58.22" stroke="#ff7f0e" stroke-width="0.75"/>
<circle cx="659.04" cy="74.25" r="0.55" fill="#ff7f0e"/>
<line x1="660.78" y1="84.39" x2="660.78" y2="58.44" stroke="#ff7f0e" stroke-width="0.75"/>
<circle cx="660.78" cy="71.42" r="0.55" fill="#ff7f0e"/>
<line x1="662.51" y1="79.73" x2="662.51" y2="59.12" stroke="#ff7f0e" stroke-width="0.75"/>
<circle cx="662.51" cy="69.42" r="0.55" fill="#ff7f0e"/>
<line x1="664.25" y1="83.39" x2="664.25" y2="45.78" stroke="#ff7f0e" stroke-width="0.75"/>
<circle cx="664.25" cy="64.59" r="0.55" fill="#ff7f0e"/>
<line x1="665.99" y1="70.63" x2="665.99" y2="52.52" stroke="#ff7f0e" stroke-width="0.75"/>
<circle cx="665.99" cy="61.58" r="0.55" fill="#ff7f0e"/>
<line x1="667.73" y1="70.84" x2="667.73" y2="41.15" stroke="#ff7f0e" stroke-width="0.75"/>
<circle cx="667.73" cy="55.99" r="0.55" fill="#ff7f0e"/>
<line x1="669.46" y1="58.03" x2="669.46" y2="39.64" stroke="#ff7f0e" stroke-width="0.75"/>
<circle cx="669.46" cy="48.84" r="0.55" fill="#ff7f0e"/>
<line x1="671.20" y1="59.32" x2="671.20" y2="10.83" stroke="#ff7f0e" stroke-width="0.75"/>
<circle cx="671.20" cy="35.07" r="0.55" fill="#ff7f0e"/>
<line x1="497.50" y1="136.73" x2="497.50" y2="128.75" stroke="#2ca02c" stroke-width="0.75"/>
<circle cx="497.50" cy="132.74" r="0.55" fill="#2ca02c"/>
<line x1="499.24" y1="133.04" x2="499.24" y2="129.50" stroke="#2ca02c" stroke-width="0.75"/>
<circle cx="499.24" cy="131.27" r="0.55" fill="#2ca02c"/>
<line x1="500.97" y1="134.71" x2="500.97" y2="126.77" stroke="#2ca02c" stroke-width="0.75"/>
<circle cx="500.97" cy="130.74" r="0.55" fill="#2ca02c"/>
<line x1="502.71" y1="135.76" x2="502.71" y2="127.18" stroke="#2ca02c" stroke-width="0.75"/>
<circle cx="502.71" cy="131.47" r="0.55" fill="#2ca02c"/>
<line x1="504.45" y1="132.50" x2="504.45" y2="126.28" stroke="#2ca02c" stroke-width="0.75"/>
<circle cx="504.45" cy="129.39" r="0.55" fill="#2ca02c"/>
<line x1="506.19" y1="132.07" x2="506.19" y2="128.32" stroke="#2ca02c" stroke-width="0.75"/>
<circle cx="506.19" cy="130.20" r="0.55" fill="#2ca02c"/>
<line x1="507.92" y1="135.81" x2="507.92" y2="127.84" stroke="#2ca02c" stroke-width="0.75"/>
<circle cx="507.92" cy="131.82" r="0.55" fill="#2ca02c"/>
<line x1="509.66" y1="133.75" x2="509.66" y2="128.66" stroke="#2ca02c" stroke-width="0.75"/>
<circle cx="509.66" cy="131.20" r="0.55" fill="#2ca02c"/>
<line x1="511.40" y1="132.57" x2="511.40" y2="124.68" stroke="#2ca02c" stroke-width="0.75"/>
<circle cx="511.40" cy="128.62" r="0.55" fill="#2ca02c"/>
<line x1="513.13" y1="131.88" x2="513.13" y2="125.77" stroke="#2ca02c" stroke-width="0.75"/>
<circle cx="513.13" cy="128.82" r="0.55" fill="#2ca02c"/>
<line x1="514.87" y1="135.79" x2="514.87" y2="127.78" stroke="#2ca02c" stroke-width="0.75"/>
<circle cx="514.87" cy="131.78" r="0.55" fill="#2ca02c"/>
<line x1="516.61" y1="129.79" x2="516.61" y2="124.38" stroke="#2ca02c" stroke-width="0.75"/>
<circle cx="516.61" cy="127.09" r="0.55" fill="#2ca02c"/>
<line x1="518.34" y1="131.37" x2="518.34" y2="124.33" stroke="#2ca02c" stroke-width="0.75"/>
<circle cx="518.34" cy="127.85" r="0.55" fill="#2ca02c"/>
<line x1="520.08" y1="130.28" x2="520.08" y2="122.82" stroke="#2ca02c" stroke-width="0.75"/>
<circle cx="520.08" cy="126.55" r="0.55" fill="#2ca02c"/>
<line x1="521.82" y1="132.86" x2="521.82" y2="124.54" stroke="#2ca02c" stroke-width="0.75"/>
<circle cx="521.82" cy="128.70" r="0.55" fill="#2ca02c"/>
<line x1="523.55" y1="130.94" x2="523.55" y2="125.71" stroke="#2ca02c" stroke-width="0.75"/>
<circle cx="523.55" cy="128.32" r="0.55" fill="#2ca02c"/>
<line x1="525.29" y1="134.75" x2="525.29" y2="123.76" stroke="#2ca02c" stroke-width="0.75"/>
<circle cx="525.29" cy="129.25" r="0.55" fill="#2ca02c"/>
<line x1="527.03" y1="126.74" x2="527.03" y2="120.75" stroke="#2ca02c" stroke-width="0.75"/>
<circle cx="527.03" cy="123.75" r="0.55" fill="#2ca02c"/>
<line x1="528.77" y1="130.47" x2="528.77" y2="124.29" stroke="#2ca02c" stroke-width="0.75"/>
<circle cx="528.77" cy="127.38" r="0.55" fill="#2ca02c"/>
<line x1="530.50" y1="127.49" x2="530.50" y2="121.63" stroke="#2ca02c" stroke-width="0.75"/>
<circle cx="530.50" cy="124.56" r="0.55" fill="#2ca02c"/>
<line x1="532.24" y1="129.78" x2="532.24" y2="125.34" stroke="#2ca02c" stroke-width="0.75"/>
<circle cx="532.24" cy="127.56" r="0.55" fill="#2ca02c"/>
<line x1="533.98" y1="129.75" x2="533.98" y2="122.46" stroke="#2ca02c" stroke-width="0.75"/>
<circle cx="533.98" cy="126.11" r="0.55" fill="#2ca02c"/>
<line x1="535.71" y1="133.65" x2="535.71" y2="123.50" stroke="#2ca02c" stroke-width="0.75"/>
<circle cx="535.71" cy="128.57" r="0.55" fill="#2ca02c"/>
<line x1="537.45" y1="131.27" x2="537.45" y2="121.53" stroke="#2ca02c" stroke-width="0.75"/>
<circle cx="537.45" cy="126.40" r="0.55" fill="#2ca02c"/>
<line x1="539.19" y1="126.91" x2="539.19" y2="121.25" stroke="#2ca02c" stroke-width="0.75"/>
<circle cx="539.19" cy="124.08" r="0.55" fill="#2ca02c"/>
<line x1="540.92" y1="129.82" x2="540.92" y2="124.58" stroke="#2ca02c" stroke-width="0.75"/>
<circle cx="540.92" cy="127.20" r="0.55" fill="#2ca02c"/>
<line x1="542.66" y1="126.80" x2="542.66" y2="119.99" stroke="#2ca02c" stroke-width="0.75"/>
<circle cx="542.66" cy="123.40" r="0.55" fill="#2ca02c"/>
<line x1="544.40" y1="129.56" x2="544.40" y2="118.94" stroke="#2ca02c" stroke-width="0.75"/>
<circle cx="544.40" cy="124.25" r="0.55" fill="#2ca02c"/>
<line x1="546.14" y1="130.30" x2="546.14" y2="121.95" stroke="#2ca02c" stroke-width="0.75"/>
<circle cx="546.14" cy="126.12" r="0.55" fill="#2ca02c"/>
<line x1="547.87" y1="131.10" x2="547.87" y2="118.95" stroke="#2ca02c" stroke-width="0.75"/>
<circle cx="547.87" cy="125.02" r="0.55" fill="#2ca02c"/>
<line x1="549.61" y1="129.67" x2="549.61" y2="119.71" stroke="#2ca02c" stroke-width="0.75"/>
<circle cx="549.61" cy="124.69" r="0.55" fill="#2ca02c"/>
<line x1="551.35" y1="128.65" x2="551.35" y2="118.91" stroke="#2ca02c" stroke-width="0.75"/>
<circle cx="551.35" cy="123.78" r="0.55" fill="#2ca02c"/>
<line x1="553.08" y1="129.85" x2="553.08" y2="118.72" stroke="#2ca02c" stroke-width="0.75"/>
<circle cx="553.08" cy="124.29" r="0.55" fill="#2ca02c"/>
<line x1="554.82" y1="130.03" x2="554.82" y2="118.95" stroke="#2ca02c" stroke-width="0.75"/>
<circle cx="554.82" cy="124.49" r="0.55" fill="#2ca02c"/>
<line x1="556.56" y1="127.15" x2="556.56" y2="119.61" stroke="#2ca02c" stroke-width="0.75"/>
<circle cx="556.56" cy="123.38" r="0.55" fill="#2ca02c"/>
<line x1="558.29" y1="127.70" x2="558.29" y2="120.87" stroke="#2ca02c" stroke-width="0.75"/>
<circle cx="558.29" cy="124.28" r="0.55" fill="#2ca02c"/>
<line x1="560.03" y1="128.72" x2="560.03" y2="120.18" stroke="#2ca02c" stroke-width="0.75"/>
<circle cx="560.03" cy="124.45" r="0.55" fill="#2ca02c"/>
<line x1="561.77" y1="126.68" x2="561.77" y2="117.59" stroke="#2ca02c" stroke-width="0.75"/>
<circle cx="561.77" cy="122.14" r="0.55" fill="#2ca02c"/>
<line x1="563.51" y1="123.29" x2="563.51" y2="117.34" stroke="#2ca02c" stroke-width="0.75"/>
<circle cx="563.51" cy="120.31" r="0.55" fill="#2ca02c"/>
<line x1="565.24" y1="128.46" x2="565.24" y2="119.65" stroke="#2ca02c" stroke-width="0.75"/>
<circle cx="565.24" cy="124.05" r="0.55" fill="#2ca02c"/>
<line x1="566.98" y1="126.59" x2="566.98" y2="115.83" stroke="#2ca02c" stroke-width="0.75"/>
<circle cx="566.98" cy="121.21" r="0.55" fill="#2ca02c"/>
<line x1="568.72" y1="125.06" x2="568.72" y2="119.00" stroke="#2ca02c" stroke-width="0.75"/>
<circle cx="568.72" cy="122.03" r="0.55" fill="#2ca02c"/>
<line x1="570.45" y1="125.37" x2="570.45" y2="119.24" stroke="#2ca02c" stroke-width="0.75"/>
<circle cx="570.45" cy="122.31" r="0.55" fill="#2ca02c"/>
<line x1="572.19" y1="122.15" x2="572.19" y2="115.61" stroke="#2ca02c" stroke-width="0.75"/>
<circle cx="572.19" cy="118.88" r="0.55" fill="#2ca02c"/>
<line x1="573.93" y1="124.78" x2="573.93" y2="117.11" stroke="#2ca02c" stroke-width="0.75"/>
<circle cx="573.93" cy="120.95" r="0.55" fill="#2ca02c"/>
<line x1="575.66" y1="124.37" x2="575.66" y2="109.92" stroke="#2ca02c" stroke-width="0.75"/>
<circle cx="575.66" cy="117.14" r="0.55" fill="#2ca02c"/>
<line x1="577.40" y1="123.44" x2="577.40" y2="118.20" stroke="#2ca02c" stroke-width="0.75"/>
<circle cx="577.40" cy="120.82" r="0.55" fill="#2ca02c"/>
<line x1="579.14" y1="121.90" x2="579.14" y2="115.02" stroke="#2ca02c" stroke-width="0.75"/>
<circle cx="579.14" cy="118.46" r="0.55" fill="#2ca02c"/>
<line x1="580.88" y1="122.62" x2="580.88" y2="115.86" stroke="#2ca02c" stroke-width="0.75"/>
<circle cx="580.88" cy="119.24" r="0.55" fill="#2ca02c"/>
<line x1="582.61" y1="124.87" x2="582.61" y2="114.88" stroke="#2ca02c" stroke-width="0.75"/>
<circle cx="582.61" cy="119.87" r="0.55" fill="#2ca02c"/>
<line x1="584.35" y1="119.81" x2="584.35" y2="114.48" stroke="#2ca02c" stroke-width="0.75"/>
<circle cx="584.35" cy="117.14" r="0.55" fill="#2ca02c"/>
<line x1="586.09" y1="123.16" x2="586.09" y2="113.16" stroke="#2ca02c" stroke-width="0.75"/>
<circle cx="586.09" cy="118.16" r="0.55" fill="#2ca02c"/>
<line x1="587.82" y1="119.94" x2="587.82" y2="112.95" stroke="#2ca02c" stroke-width="0.75"/>
<circle cx="587.82" cy="116.45" r="0.55" fill="#2ca02c"/>
<line x1="589.56" y1="121.40" x2="589.56" y2="113.21" stroke="#2ca02c" stroke-width="0.75"/>
<circle cx="589.56" cy="117.30" r="0.55" fill="#2ca02c"/>
<line x1="591.30" y1="125.83" x2="591.30" y2="111.94" stroke="#2ca02c" stroke-width="0.75"/>
<circle cx="591.30" cy="118.89" r="0.55" fill="#2ca02c"/>
<line x1="593.03" y1="120.42" x2="593.03" y2="113.00" stroke="#2ca02c" stroke-width="0.75"/>
<circle cx="593.03" cy="116.71" r="0.55" fill="#2ca02c"/>
<line x1="594.77" y1="122.19" x2="594.77" y2="109.95" stroke="#2ca02c" stroke-width="0.75"/>
<circle cx="594.77" cy="116.07" r="0.55" fill="#2ca02c"/>
<line x1="596.51" y1="119.00" x2="596.51" y2="108.96" stroke="#2ca02c" stroke-width="0.75"/>
<circle cx="596.51" cy="113.98" r="0.55" fill="#2ca02c"/>
<line x1="598.25" y1="122.29" x2="598.25" y2="112.03" stroke="#2ca02c" stroke-width="0.75"/>
<circle cx="598.25" cy="117.16" r="0.55" fill="#2ca02c"/>
<line x1="599.98" y1="122.55" x2="599.98" y2="107.68" stroke="#2ca02c" stroke-width="0.75"/>
<circle cx="599.98" cy="115.12" r="0.55" fill="#2ca02c"/>
<line x1="601.72" y1="121.77" x2="601.72" y2="114.23" stroke="#2ca02c" stroke-width="0.75"/>
<circle cx="601.72" cy="118.00" r="0.55" fill="#2ca02c"/>
<line x1="603.46" y1="121.18" x2="603.46" y2="104.75" stroke="#2ca02c" stroke-width="0.75"/>
<circle cx="603.46" cy="112.97" r="0.55" fill="#2ca02c"/>
<line x1="605.19" y1="124.09" x2="605.19" y2="107.84" stroke="#2ca02c" stroke-width="0.75"/>
<circle cx="605.19" cy="115.97" r="0.55" fill="#2ca02c"/>
<line x1="606.93" y1="123.89" x2="606.93" y2="110.11" stroke="#2ca02c" stroke-width="0.75"/>
<circle cx="606.93" cy="117.00" r="0.55" fill="#2ca02c"/>
<line x1="608.67" y1="116.35" x2="608.67" y2="109.80" stroke="#2ca02c" stroke-width="0.75"/>
<circle cx="608.67" cy="113.07" r="0.55" fill="#2ca02c"/>
<line x1="610.40" y1="117.26" x2="610.40" y2="103.23" stroke="#2ca02c" stroke-width="0.75"/>
<circle cx="610.40" cy="110.25" r="0.55" fill="#2ca02c"/>
<line x1="612.14" y1="121.86" x2="612.14" y2="108.43" stroke="#2ca02c" stroke-width="0.75"/>
<circle cx="612.14" cy="115.14" r="0.55" fill="#2ca02c"/>
<line x1="613.88" y1="121.63" x2="613.88" y2="105.92" stroke="#2ca02c" stroke-width="0.75"/>
<circle cx="613.88" cy="113.78" r="0.55" fill="#2ca02c"/>
<line x1="615.62" y1="117.03" x2="615.62" y2="108.10" stroke="#2ca02c" stroke-width="0.75"/>
<circle cx="615.62" cy="112.56" r="0.55" fill="#2ca02c"/>
<line x1="617.35" y1="122.06" x2="617.35" y2="103.66" stroke="#2ca02c" stroke-width="0.75"/>
<circle cx="617.35" cy="112.86" r="0.55" fill="#2ca02c"/>
<line x1="619.09" y1="118.00" x2="619.09" y2="100.22" stroke="#2ca02c" stroke-width="0.75"/>
<circle cx="619.09" cy="109.11" r="0.55" fill="#2ca02c"/>
<line x1="620.83" y1="115.08" x2="620.83" y2="107.09" stroke="#2ca02c" stroke-width="0.75"/>
<circle cx="620.83" cy="111.08" r="0.55" fill="#2ca02c"/>
<line x1="622.56" y1="115.68" x2="622.56" y2="104.93" stroke="#2ca02c" stroke-width="0.75"/>
<circle cx="622.56" cy="110.31" r="0.55" fill="#2ca02c"/>
<line x1="624.30" y1="110.38" x2="624.30" y2="103.25" stroke="#2ca02c" stroke-width="0.75"/>
<circle cx="624.30" cy="106.81" r="0.55" fill="#2ca02c"/>
<line x1="626.04" y1="118.16" x2="626.04" y2="100.09" stroke="#2ca02c" stroke-width="0.75"/>
<circle cx="626.04" cy="109.13" r="0.55" fill="#2ca02c"/>
<line x1="627.77" y1="115.52" x2="627.77" y2="96.01" stroke="#2ca02c" stroke-width="0.75"/>
<circle cx="627.77" cy="105.76" r="0.55" fill="#2ca02c"/>
<line x1="629.51" y1="118.67" x2="629.51" y2="97.80" stroke="#2ca02c" stroke-width="0.75"/>
<circle cx="629.51" cy="108.23" r="0.55" fill="#2ca02c"/>
<line x1="631.25" y1="115.97" x2="631.25" y2="100.14" stroke="#2ca02c" stroke-width="0.75"/>
<circle cx="631.25" cy="108.05" r="0.55" fill="#2ca02c"/>
<line x1="632.99" y1="117.19" x2="632.99" y2="100.31" stroke="#2ca02c" stroke-width="0.75"/>
<circle cx="632.99" cy="108.75" r="0.55" fill="#2ca02c"/>
<line x1="634.72" y1="107.81" x2="634.72" y2="90.45" stroke="#2ca02c" stroke-width="0.75"/>
<circle cx="634.72" cy="99.13" r="0.55" fill="#2ca02c"/>
<line x1="636.46" y1="111.48" x2="636.46" y2="95.42" stroke="#2ca02c" stroke-width="0.75"/>
<circle cx="636.46" cy="103.45" r="0.55" fill="#2ca02c"/>
<line x1="638.20" y1="112.22" x2="638.20" y2="90.01" stroke="#2ca02c" stroke-width="0.75"/>
<circle cx="638.20" cy="101.11" r="0.55" fill="#2ca02c"/>
<line x1="639.93" y1="109.42" x2="639.93" y2="92.14" stroke="#2ca02c" stroke-width="0.75"/>
<circle cx="639.93" cy="100.78" r="0.55" fill="#2ca02c"/>
<line x1="641.67" y1="105.88" x2="641.67" y2="92.57" stroke="#2ca02c" stroke-width="0.75"/>
<circle cx="641.67" cy="99.23" r="0.55" fill="#2ca02c"/>
<line x1="643.41" y1="106.60" x2="643.41" y2="90.13" stroke="#2ca02c" stroke-width="0.75"/>
<circle cx="643.41" cy="98.37" r="0.55" fill="#2ca02c"/>
<line x1="645.14" y1="96.56" x2="645.14" y2="87.94" stroke="#2ca02c" stroke-width="0.75"/>
<circle cx="645.14" cy="92.25" r="0.55" fill="#2ca02c"/>
<line x1="646.88" y1="109.21" x2="646.88" y2="88.40" stroke="#2ca02c" stroke-width="0.75"/>
<circle cx="646.88" cy="98.80" r="0.55" fill="#2ca02c"/>
<line x1="648.62" y1="109.32" x2="648.62" y2="88.53" stroke="#2ca02c" stroke-width="0.75"/>
<circle cx="648.62" cy="98.92" r="0.55" fill="#2ca02c"/>
<line x1="650.36" y1="104.25" x2="650.36" y2="87.81" stroke="#2ca02c" stroke-width="0.75"/>
<circle cx="650.36" cy="96.03" r="0.55" fill="#2ca02c"/>
<line x1="652.09" y1="107.84" x2="652.09" y2="83.09" stroke="#2ca02c" stroke-width="0.75"/>
<circle cx="652.09" cy="95.47" r="0.55" fill="#2ca02c"/>
<line x1="653.83" y1="99.61" x2="653.83" y2="76.00" stroke="#2ca02c" stroke-width="0.75"/>
<circle cx="653.83" cy="87.80" r="0.55" fill="#2ca02c"/>
<line x1="655.57" y1="93.86" x2="655.57" y2="77.68" stroke="#2ca02c" stroke-width="0.75"/>
<circle cx="655.57" cy="85.77" r="0.55" fill="#2ca02c"/>
<line x1="657.30" y1="95.05" x2="657.30" y2="83.56" stroke="#2ca02c" stroke-width="0.75"/>
<circle cx="657.30" cy="89.31" r="0.55" fill="#2ca02c"/>
<line x1="659.04" y1="95.21" x2="659.04" y2="82.25" stroke="#2ca02c" stroke-width="0.75"/>
<circle cx="659.04" cy="88.73" r="0.55" fill="#2ca02c"/>
<line x1="660.78" y1="90.57" x2="660.78" y2="76.10" stroke="#2ca02c" stroke-width="0.75"/>
<circle cx="660.78" cy="83.34" r="0.55" fill="#2ca02c"/>
<line x1="662.51" y1="84.02" x2="662.51" y2="66.46" stroke="#2ca02c" stroke-width="0.75"/>
<circle cx="662.51" cy="75.24" r="0.55" fill="#2ca02c"/>
<line x1="664.25" y1="97.80" x2="664.25" y2="76.40" stroke="#2ca02c" stroke-width="0.75"/>
<circle cx="664.25" cy="87.10" r="0.55" fill="#2ca02c"/>
<line x1="665.99" y1="89.60" x2="665.99" y2="56.22" stroke="#2ca02c" stroke-width="0.75"/>
<circle cx="665.99" cy="72.91" r="0.55" fill="#2ca02c"/>
<line x1="667.73" y1="85.30" x2="667.73" y2="66.45" stroke="#2ca02c" stroke-width="0.75"/>
<circle cx="667.73" cy="75.87" r="0.55" fill="#2ca02c"/>
<line x1="669.46" y1="82.55" x2="669.46" y2="47.40" stroke="#2ca02c" stroke-width="0.75"/>
<circle cx="669.46" cy="64.98" r="0.55" fill="#2ca02c"/>
<line x1="671.20" y1="85.27" x2="671.20" y2="54.44" stroke="#2ca02c" stroke-width="0.75"/>
<circle cx="671.20" cy="69.86" r="0.55" fill="#2ca02c"/>
<line x1="497.50" y1="135.45" x2="497.50" y2="130.39" stroke="#d62728" stroke-width="0.75"/>
<circle cx="497.50" cy="132.92" r="0.55" fill="#d62728"/>
<line x1="499.24" y1="132.68" x2="499.24" y2="126.89" stroke="#d62728" stroke-width="0.75"/>
<circle cx="499.24" cy="129.79" r="0.55" fill="#d62728"/>
<line x1="500.97" y1="133.88" x2="500.97" y2="126.89" stroke="#d62728" stroke-width="0.75"/>
<circle cx="500.97" cy="130.38" r="0.55" fill="#d62728"/>
<line x1="502.71" y1="133.69" x2="502.71" y2="125.64" stroke="#d62728" stroke-width="0.75"/>
<circle cx="502.71" cy="129.66" r="0.55" fill="#d62728"/>
<line x1="504.45" y1="135.74" x2="504.45" y2="128.47" stroke="#d62728" stroke-width="0.75"/>
<circle cx="504.45" cy="132.10" r="0.55" fill="#d62728"/>
<line x1="506.19" y1="132.19" x2="506.19" y2="127.98" stroke="#d62728" stroke-width="0.75"/>
<circle cx="506.19" cy="130.09" r="0.55" fill="#d62728"/>
<line x1="507.92" y1="134.78" x2="507.92" y2="125.56" stroke="#d62728" stroke-width="0.75"/>
<circle cx="507.92" cy="130.17" r="0.55" fill="#d62728"/>
<line x1="509.66" y1="135.33" x2="509.66" y2="125.26" stroke="#d62728" stroke-width="0.75"/>
<circle cx="509.66" cy="130.30" r="0.55" fill="#d62728"/>
<line x1="511.40" y1="134.13" x2="511.40" y2="129.83" stroke="#d62728" stroke-width="0.75"/>
<circle cx="511.40" cy="131.98" r="0.55" fill="#d62728"/>
<line x1="513.13" y1="131.81" x2="513.13" y2="126.40" stroke="#d62728" stroke-width="0.75"/>
<circle cx="513.13" cy="129.10" r="0.55" fill="#d62728"/>
<line x1="514.87" y1="129.60" x2="514.87" y2="124.69" stroke="#d62728" stroke-width="0.75"/>
<circle cx="514.87" cy="127.15" r="0.55" fill="#d62728"/>
<line x1="516.61" y1="132.59" x2="516.61" y2="122.66" stroke="#d62728" stroke-width="0.75"/>
<circle cx="516.61" cy="127.63" r="0.55" fill="#d62728"/>
<line x1="518.34" y1="134.01" x2="518.34" y2="123.53" stroke="#d62728" stroke-width="0.75"/>
<circle cx="518.34" cy="128.77" r="0.55" fill="#d62728"/>
<line x1="520.08" y1="129.74" x2="520.08" y2="125.66" stroke="#d62728" stroke-width="0.75"/>
<circle cx="520.08" cy="127.70" r="0.55" fill="#d62728"/>
<line x1="521.82" y1="129.51" x2="521.82" y2="123.20" stroke="#d62728" stroke-width="0.75"/>
<circle cx="521.82" cy="126.35" r="0.55" fill="#d62728"/>
<line x1="523.55" y1="133.83" x2="523.55" y2="128.54" stroke="#d62728" stroke-width="0.75"/>
<circle cx="523.55" cy="131.18" r="0.55" fill="#d62728"/>
<line x1="525.29" y1="130.88" x2="525.29" y2="123.40" stroke="#d62728" stroke-width="0.75"/>
<circle cx="525.29" cy="127.14" r="0.55" fill="#d62728"/>
<line x1="527.03" y1="131.46" x2="527.03" y2="120.38" stroke="#d62728" stroke-width="0.75"/>
<circle cx="527.03" cy="125.92" r="0.55" fill="#d62728"/>
<line x1="528.77" y1="127.71" x2="528.77" y2="123.23" stroke="#d62728" stroke-width="0.75"/>
<circle cx="528.77" cy="125.47" r="0.55" fill="#d62728"/>
<line x1="530.50" y1="126.37" x2="530.50" y2="121.05" stroke="#d62728" stroke-width="0.75"/>
<circle cx="530.50" cy="123.71" r="0.55" fill="#d62728"/>
<line x1="532.24" y1="128.25" x2="532.24" y2="120.34" stroke="#d62728" stroke-width="0.75"/>
<circle cx="532.24" cy="124.29" r="0.55" fill="#d62728"/>
<line x1="533.98" y1="129.41" x2="533.98" y2="121.13" stroke="#d62728" stroke-width="0.75"/>
<circle cx="533.98" cy="125.27" r="0.55" fill="#d62728"/>
<line x1="535.71" y1="130.12" x2="535.71" y2="119.96" stroke="#d62728" stroke-width="0.75"/>
<circle cx="535.71" cy="125.04" r="0.55" fill="#d62728"/>
<line x1="537.45" y1="127.92" x2="537.45" y2="120.20" stroke="#d62728" stroke-width="0.75"/>
<circle cx="537.45" cy="124.06" r="0.55" fill="#d62728"/>
<line x1="539.19" y1="128.50" x2="539.19" y2="123.17" stroke="#d62728" stroke-width="0.75"/>
<circle cx="539.19" cy="125.83" r="0.55" fill="#d62728"/>
<line x1="540.92" y1="128.40" x2="540.92" y2="121.25" stroke="#d62728" stroke-width="0.75"/>
<circle cx="540.92" cy="124.82" r="0.55" fill="#d62728"/>
<line x1="542.66" y1="129.37" x2="542.66" y2="116.84" stroke="#d62728" stroke-width="0.75"/>
<circle cx="542.66" cy="123.11" r="0.55" fill="#d62728"/>
<line x1="544.40" y1="126.54" x2="544.40" y2="115.88" stroke="#d62728" stroke-width="0.75"/>
<circle cx="544.40" cy="121.21" r="0.55" fill="#d62728"/>
<line x1="546.14" y1="126.92" x2="546.14" y2="121.62" stroke="#d62728" stroke-width="0.75"/>
<circle cx="546.14" cy="124.27" r="0.55" fill="#d62728"/>
<line x1="547.87" y1="129.52" x2="547.87" y2="118.17" stroke="#d62728" stroke-width="0.75"/>
<circle cx="547.87" cy="123.84" r="0.55" fill="#d62728"/>
<line x1="549.61" y1="126.75" x2="549.61" y2="119.65" stroke="#d62728" stroke-width="0.75"/>
<circle cx="549.61" cy="123.20" r="0.55" fill="#d62728"/>
<line x1="551.35" y1="126.77" x2="551.35" y2="115.46" stroke="#d62728" stroke-width="0.75"/>
<circle cx="551.35" cy="121.11" r="0.55" fill="#d62728"/>
<line x1="553.08" y1="125.34" x2="553.08" y2="120.78" stroke="#d62728" stroke-width="0.75"/>
<circle cx="553.08" cy="123.06" r="0.55" fill="#d62728"/>
<line x1="554.82" y1="126.53" x2="554.82" y2="114.21" stroke="#d62728" stroke-width="0.75"/>
<circle cx="554.82" cy="120.37" r="0.55" fill="#d62728"/>
<line x1="556.56" y1="127.07" x2="556.56" y2="121.08" stroke="#d62728" stroke-width="0.75"/>
<circle cx="556.56" cy="124.07" r="0.55" fill="#d62728"/>
<line x1="558.29" y1="126.91" x2="558.29" y2="118.18" stroke="#d62728" stroke-width="0.75"/>
<circle cx="558.29" cy="122.54" r="0.55" fill="#d62728"/>
<line x1="560.03" y1="127.66" x2="560.03" y2="116.96" stroke="#d62728" stroke-width="0.75"/>
<circle cx="560.03" cy="122.31" r="0.55" fill="#d62728"/>
<line x1="561.77" y1="125.09" x2="561.77" y2="115.73" stroke="#d62728" stroke-width="0.75"/>
<circle cx="561.77" cy="120.41" r="0.55" fill="#d62728"/>
<line x1="563.51" y1="122.82" x2="563.51" y2="116.59" stroke="#d62728" stroke-width="0.75"/>
<circle cx="563.51" cy="119.71" r="0.55" fill="#d62728"/>
<line x1="565.24" y1="126.75" x2="565.24" y2="120.71" stroke="#d62728" stroke-width="0.75"/>
<circle cx="565.24" cy="123.73" r="0.55" fill="#d62728"/>
<line x1="566.98" y1="126.21" x2="566.98" y2="118.73" stroke="#d62728" stroke-width="0.75"/>
<circle cx="566.98" cy="122.47" r="0.55" fill="#d62728"/>
<line x1="568.72" y1="122.73" x2="568.72" y2="117.42" stroke="#d62728" stroke-width="0.75"/>
<circle cx="568.72" cy="120.08" r="0.55" fill="#d62728"/>
<line x1="570.45" y1="124.98" x2="570.45" y2="118.04" stroke="#d62728" stroke-width="0.75"/>
<circle cx="570.45" cy="121.51" r="0.55" fill="#d62728"/>
<line x1="572.19" y1="125.81" x2="572.19" y2="119.65" stroke="#d62728" stroke-width="0.75"/>
<circle cx="572.19" cy="122.73" r="0.55" fill="#d62728"/>
<line x1="573.93" y1="122.78" x2="573.93" y2="113.26" stroke="#d62728" stroke-width="0.75"/>
<circle cx="573.93" cy="118.02" r="0.55" fill="#d62728"/>
<line x1="575.66" y1="122.94" x2="575.66" y2="114.42" stroke="#d62728" stroke-width="0.75"/>
<circle cx="575.66" cy="118.68" r="0.55" fill="#d62728"/>
<line x1="577.40" y1="123.84" x2="577.40" y2="112.94" stroke="#d62728" stroke-width="0.75"/>
<circle cx="577.40" cy="118.39" r="0.55" fill="#d62728"/>
<line x1="579.14" y1="123.76" x2="579.14" y2="115.86" stroke="#d62728" stroke-width="0.75"/>
<circle cx="579.14" cy="119.81" r="0.55" fill="#d62728"/>
<line x1="580.88" y1="119.56" x2="580.88" y2="114.12" stroke="#d62728" stroke-width="0.75"/>
<circle cx="580.88" cy="116.84" r="0.55" fill="#d62728"/>
<line x1="582.61" y1="123.09" x2="582.61" y2="114.53" stroke="#d62728" stroke-width="0.75"/>
<circle cx="582.61" cy="118.81" r="0.55" fill="#d62728"/>
<line x1="584.35" y1="122.61" x2="584.35" y2="109.58" stroke="#d62728" stroke-width="0.75"/>
<circle cx="584.35" cy="116.09" r="0.55" fill="#d62728"/>
<line x1="586.09" y1="123.39" x2="586.09" y2="115.47" stroke="#d62728" stroke-width="0.75"/>
<circle cx="586.09" cy="119.43" r="0.55" fill="#d62728"/>
<line x1="587.82" y1="123.80" x2="587.82" y2="114.24" stroke="#d62728" stroke-width="0.75"/>
<circle cx="587.82" cy="119.02" r="0.55" fill="#d62728"/>
<line x1="589.56" y1="123.45" x2="589.56" y2="110.07" stroke="#d62728" stroke-width="0.75"/>
<circle cx="589.56" cy="116.76" r="0.55" fill="#d62728"/>
<line x1="591.30" y1="123.00" x2="591.30" y2="113.24" stroke="#d62728" stroke-width="0.75"/>
<circle cx="591.30" cy="118.12" r="0.55" fill="#d62728"/>
<line x1="593.03" y1="122.75" x2="593.03" y2="107.69" stroke="#d62728" stroke-width="0.75"/>
<circle cx="593.03" cy="115.22" r="0.55" fill="#d62728"/>
<line x1="594.77" y1="123.43" x2="594.77" y2="107.88" stroke="#d62728" stroke-width="0.75"/>
<circle cx="594.77" cy="115.66" r="0.55" fill="#d62728"/>
<line x1="596.51" y1="122.04" x2="596.51" y2="113.07" stroke="#d62728" stroke-width="0.75"/>
<circle cx="596.51" cy="117.55" r="0.55" fill="#d62728"/>
<line x1="598.25" y1="122.21" x2="598.25" y2="108.40" stroke="#d62728" stroke-width="0.75"/>
<circle cx="598.25" cy="115.31" r="0.55" fill="#d62728"/>
<line x1="599.98" y1="120.01" x2="599.98" y2="111.51" stroke="#d62728" stroke-width="0.75"/>
<circle cx="599.98" cy="115.76" r="0.55" fill="#d62728"/>
<line x1="601.72" y1="116.57" x2="601.72" y2="109.29" stroke="#d62728" stroke-width="0.75"/>
<circle cx="601.72" cy="112.93" r="0.55" fill="#d62728"/>
<line x1="603.46" y1="120.96" x2="603.46" y2="110.17" stroke="#d62728" stroke-width="0.75"/>
<circle cx="603.46" cy="115.57" r="0.55" fill="#d62728"/>
<line x1="605.19" y1="121.21" x2="605.19" y2="108.39" stroke="#d62728" stroke-width="0.75"/>
<circle cx="605.19" cy="114.80" r="0.55" fill="#d62728"/>
<line x1="606.93" y1="119.55" x2="606.93" y2="102.68" stroke="#d62728" stroke-width="0.75"/>
<circle cx="606.93" cy="111.12" r="0.55" fill="#d62728"/>
<line x1="608.67" y1="112.45" x2="608.67" y2="104.78" stroke="#d62728" stroke-width="0.75"/>
<circle cx="608.67" cy="108.61" r="0.55" fill="#d62728"/>
<line x1="610.40" y1="115.90" x2="610.40" y2="101.35" stroke="#d62728" stroke-width="0.75"/>
<circle cx="610.40" cy="108.63" r="0.55" fill="#d62728"/>
<line x1="612.14" y1="118.02" x2="612.14" y2="106.18" stroke="#d62728" stroke-width="0.75"/>
<circle cx="612.14" cy="112.10" r="0.55" fill="#d62728"/>
<line x1="613.88" y1="115.19" x2="613.88" y2="107.43" stroke="#d62728" stroke-width="0.75"/>
<circle cx="613.88" cy="111.31" r="0.55" fill="#d62728"/>
<line x1="615.62" y1="117.24" x2="615.62" y2="98.95" stroke="#d62728" stroke-width="0.75"/>
<circle cx="615.62" cy="108.09" r="0.55" fill="#d62728"/>
<line x1="617.35" y1="118.56" x2="617.35" y2="103.53" stroke="#d62728" stroke-width="0.75"/>
<circle cx="617.35" cy="111.04" r="0.55" fill="#d62728"/>
<line x1="619.09" y1="116.34" x2="619.09" y2="108.33" stroke="#d62728" stroke-width="0.75"/>
<circle cx="619.09" cy="112.33" r="0.55" fill="#d62728"/>
<line x1="620.83" y1="118.53" x2="620.83" y2="100.41" stroke="#d62728" stroke-width="0.75"/>
<circle cx="620.83" cy="109.47" r="0.55" fill="#d62728"/>
<line x1="622.56" y1="112.12" x2="622.56" y2="104.24" stroke="#d62728" stroke-width="0.75"/>
<circle cx="622.56" cy="108.18" r="0.55" fill="#d62728"/>
<line x1="624.30" y1="114.31" x2="624.30" y2="106.46" stroke="#d62728" stroke-width="0.75"/>
<circle cx="624.30" cy="110.38" r="0.55" fill="#d62728"/>
<line x1="626.04" y1="117.18" x2="626.04" y2="106.02" stroke="#d62728" stroke-width="0.75"/>
<circle cx="626.04" cy="111.60" r="0.55" fill="#d62728"/>
<line x1="627.77" y1="120.32" x2="627.77" y2="100.74" stroke="#d62728" stroke-width="0.75"/>
<circle cx="627.77" cy="110.53" r="0.55" fill="#d62728"/>
<line x1="629.51" y1="108.81" x2="629.51" y2="101.45" stroke="#d62728" stroke-width="0.75"/>
<circle cx="629.51" cy="105.13" r="0.55" fill="#d62728"/>
<line x1="631.25" y1="117.62" x2="631.25" y2="97.72" stroke="#d62728" stroke-width="0.75"/>
<circle cx="631.25" cy="107.67" r="0.55" fill="#d62728"/>
<line x1="632.99" y1="113.43" x2="632.99" y2="97.59" stroke="#d62728" stroke-width="0.75"/>
<circle cx="632.99" cy="105.51" r="0.55" fill="#d62728"/>
<line x1="634.72" y1="108.01" x2="634.72" y2="99.79" stroke="#d62728" stroke-width="0.75"/>
<circle cx="634.72" cy="103.90" r="0.55" fill="#d62728"/>
<line x1="636.46" y1="109.97" x2="636.46" y2="94.23" stroke="#d62728" stroke-width="0.75"/>
<circle cx="636.46" cy="102.10" r="0.55" fill="#d62728"/>
<line x1="638.20" y1="110.71" x2="638.20" y2="96.34" stroke="#d62728" stroke-width="0.75"/>
<circle cx="638.20" cy="103.52" r="0.55" fill="#d62728"/>
<line x1="639.93" y1="108.69" x2="639.93" y2="92.45" stroke="#d62728" stroke-width="0.75"/>
<circle cx="639.93" cy="100.57" r="0.55" fill="#d62728"/>
<line x1="641.67" y1="112.68" x2="641.67" y2="93.43" stroke="#d62728" stroke-width="0.75"/>
<circle cx="641.67" cy="103.05" r="0.55" fill="#d62728"/>
<line x1="643.41" y1="110.08" x2="643.41" y2="91.38" stroke="#d62728" stroke-width="0.75"/>
<circle cx="643.41" cy="100.73" r="0.55" fill="#d62728"/>
<line x1="645.14" y1="113.49" x2="645.14" y2="89.25" stroke="#d62728" stroke-width="0.75"/>
<circle cx="645.14" cy="101.37" r="0.55" fill="#d62728"/>
<line x1="646.88" y1="100.04" x2="646.88" y2="89.18" stroke="#d62728" stroke-width="0.75"/>
<circle cx="646.88" cy="94.61" r="0.55" fill="#d62728"/>
<line x1="648.62" y1="107.53" x2="648.62" y2="85.35" stroke="#d62728" stroke-width="0.75"/>
<circle cx="648.62" cy="96.44" r="0.55" fill="#d62728"/>
<line x1="650.36" y1="104.97" x2="650.36" y2="89.22" stroke="#d62728" stroke-width="0.75"/>
<circle cx="650.36" cy="97.10" r="0.55" fill="#d62728"/>
<line x1="652.09" y1="106.05" x2="652.09" y2="83.34" stroke="#d62728" stroke-width="0.75"/>
<circle cx="652.09" cy="94.69" r="0.55" fill="#d62728"/>
<line x1="653.83" y1="105.51" x2="653.83" y2="80.27" stroke="#d62728" stroke-width="0.75"/>
<circle cx="653.83" cy="92.89" r="0.55" fill="#d62728"/>
<line x1="655.57" y1="102.55" x2="655.57" y2="74.81" stroke="#d62728" stroke-width="0.75"/>
<circle cx="655.57" cy="88.68" r="0.55" fill="#d62728"/>
<line x1="657.30" y1="101.12" x2="657.30" y2="86.50" stroke="#d62728" stroke-width="0.75"/>
<circle cx="657.30" cy="93.81" r="0.55" fill="#d62728"/>
<line x1="659.04" y1="99.82" x2="659.04" y2="81.13" stroke="#d62728" stroke-width="0.75"/>
<circle cx="659.04" cy="90.47" r="0.55" fill="#d62728"/>
<line x1="660.78" y1="101.19" x2="660.78" y2="72.09" stroke="#d62728" stroke-width="0.75"/>
<circle cx="660.78" cy="86.64" r="0.55" fill="#d62728"/>
<line x1="662.51" y1="90.40" x2="662.51" y2="60.38" stroke="#d62728" stroke-width="0.75"/>
<circle cx="662.51" cy="75.39" r="0.55" fill="#d62728"/>
<line x1="664.25" y1="87.56" x2="664.25" y2="68.88" stroke="#d62728" stroke-width="0.75"/>
<circle cx="664.25" cy="78.22" r="0.55" fill="#d62728"/>
<line x1="665.99" y1="95.37" x2="665.99" y2="63.57" stroke="#d62728" stroke-width="0.75"/>
<circle cx="665.99" cy="79.47" r="0.55" fill="#d62728"/>
<line x1="667.73" y1="84.54" x2="667.73" y2="63.88" stroke="#d62728" stroke-width="0.75"/>
<circle cx="667.73" cy="74.21" r="0.55" fill="#d62728"/>
<line x1="669.46" y1="77.07" x2="669.46" y2="56.44" stroke="#d62728" stroke-width="0.75"/>
<circle cx="669.46" cy="66.76" r="0.55" fill="#d62728"/>
<line x1="671.20" y1="87.53" x2="671.20" y2="56.87" stroke="#d62728" stroke-width="0.75"/>
<circle cx="671.20" cy="72.20" r="0.55" fill="#d62728"/>
<line x1="497.50" y1="134.70" x2="497.50" y2="115.56" stroke="#9467bd" stroke-width="0.95"/>
<circle cx="497.50" cy="125.13" r="0.55" fill="#9467bd"/>
<line x1="499.24" y1="125.41" x2="499.24" y2="115.74" stroke="#9467bd" stroke-width="0.95"/>
<circle cx="499.24" cy="120.57" r="0.55" fill="#9467bd"/>
<line x1="500.97" y1="130.71" x2="500.97" y2="112.88" stroke="#9467bd" stroke-width="0.95"/>
<circle cx="500.97" cy="121.80" r="0.55" fill="#9467bd"/>
<line x1="502.71" y1="126.81" x2="502.71" y2="114.98" stroke="#9467bd" stroke-width="0.95"/>
<circle cx="502.71" cy="120.90" r="0.55" fill="#9467bd"/>
<line x1="504.45" y1="126.53" x2="504.45" y2="115.86" stroke="#9467bd" stroke-width="0.95"/>
<circle cx="504.45" cy="121.20" r="0.55" fill="#9467bd"/>
<line x1="506.19" y1="126.83" x2="506.19" y2="113.56" stroke="#9467bd" stroke-width="0.95"/>
<circle cx="506.19" cy="120.19" r="0.55" fill="#9467bd"/>
<line x1="507.92" y1="124.44" x2="507.92" y2="117.70" stroke="#9467bd" stroke-width="0.95"/>
<circle cx="507.92" cy="121.07" r="0.55" fill="#9467bd"/>
<line x1="509.66" y1="125.20" x2="509.66" y2="112.65" stroke="#9467bd" stroke-width="0.95"/>
<circle cx="509.66" cy="118.92" r="0.55" fill="#9467bd"/>
<line x1="511.40" y1="124.85" x2="511.40" y2="115.50" stroke="#9467bd" stroke-width="0.95"/>
<circle cx="511.40" cy="120.17" r="0.55" fill="#9467bd"/>
<line x1="513.13" y1="128.23" x2="513.13" y2="111.98" stroke="#9467bd" stroke-width="0.95"/>
<circle cx="513.13" cy="120.11" r="0.55" fill="#9467bd"/>
<line x1="514.87" y1="126.70" x2="514.87" y2="113.21" stroke="#9467bd" stroke-width="0.95"/>
<circle cx="514.87" cy="119.96" r="0.55" fill="#9467bd"/>
<line x1="516.61" y1="132.27" x2="516.61" y2="113.78" stroke="#9467bd" stroke-width="0.95"/>
<circle cx="516.61" cy="123.03" r="0.55" fill="#9467bd"/>
<line x1="518.34" y1="130.16" x2="518.34" y2="111.23" stroke="#9467bd" stroke-width="0.95"/>
<circle cx="518.34" cy="120.70" r="0.55" fill="#9467bd"/>
<line x1="520.08" y1="126.30" x2="520.08" y2="115.19" stroke="#9467bd" stroke-width="0.95"/>
<circle cx="520.08" cy="120.74" r="0.55" fill="#9467bd"/>
<line x1="521.82" y1="125.15" x2="521.82" y2="114.49" stroke="#9467bd" stroke-width="0.95"/>
<circle cx="521.82" cy="119.82" r="0.55" fill="#9467bd"/>
<line x1="523.55" y1="132.27" x2="523.55" y2="112.55" stroke="#9467bd" stroke-width="0.95"/>
<circle cx="523.55" cy="122.41" r="0.55" fill="#9467bd"/>
<line x1="525.29" y1="124.01" x2="525.29" y2="110.20" stroke="#9467bd" stroke-width="0.95"/>
<circle cx="525.29" cy="117.11" r="0.55" fill="#9467bd"/>
<line x1="527.03" y1="123.76" x2="527.03" y2="115.52" stroke="#9467bd" stroke-width="0.95"/>
<circle cx="527.03" cy="119.64" r="0.55" fill="#9467bd"/>
<line x1="528.77" y1="125.59" x2="528.77" y2="118.03" stroke="#9467bd" stroke-width="0.95"/>
<circle cx="528.77" cy="121.81" r="0.55" fill="#9467bd"/>
<line x1="530.50" y1="132.93" x2="530.50" y2="112.20" stroke="#9467bd" stroke-width="0.95"/>
<circle cx="530.50" cy="122.57" r="0.55" fill="#9467bd"/>
<line x1="532.24" y1="127.48" x2="532.24" y2="112.42" stroke="#9467bd" stroke-width="0.95"/>
<circle cx="532.24" cy="119.95" r="0.55" fill="#9467bd"/>
<line x1="533.98" y1="123.38" x2="533.98" y2="115.61" stroke="#9467bd" stroke-width="0.95"/>
<circle cx="533.98" cy="119.50" r="0.55" fill="#9467bd"/>
<line x1="535.71" y1="127.59" x2="535.71" y2="113.38" stroke="#9467bd" stroke-width="0.95"/>
<circle cx="535.71" cy="120.49" r="0.55" fill="#9467bd"/>
<line x1="537.45" y1="126.02" x2="537.45" y2="111.86" stroke="#9467bd" stroke-width="0.95"/>
<circle cx="537.45" cy="118.94" r="0.55" fill="#9467bd"/>
<line x1="539.19" y1="126.74" x2="539.19" y2="113.50" stroke="#9467bd" stroke-width="0.95"/>
<circle cx="539.19" cy="120.12" r="0.55" fill="#9467bd"/>
<line x1="540.92" y1="128.19" x2="540.92" y2="107.57" stroke="#9467bd" stroke-width="0.95"/>
<circle cx="540.92" cy="117.88" r="0.55" fill="#9467bd"/>
<line x1="542.66" y1="130.36" x2="542.66" y2="109.70" stroke="#9467bd" stroke-width="0.95"/>
<circle cx="542.66" cy="120.03" r="0.55" fill="#9467bd"/>
<line x1="544.40" y1="123.16" x2="544.40" y2="114.22" stroke="#9467bd" stroke-width="0.95"/>
<circle cx="544.40" cy="118.69" r="0.55" fill="#9467bd"/>
<line x1="546.14" y1="121.43" x2="546.14" y2="112.07" stroke="#9467bd" stroke-width="0.95"/>
<circle cx="546.14" cy="116.75" r="0.55" fill="#9467bd"/>
<line x1="547.87" y1="120.30" x2="547.87" y2="107.23" stroke="#9467bd" stroke-width="0.95"/>
<circle cx="547.87" cy="113.76" r="0.55" fill="#9467bd"/>
<line x1="549.61" y1="129.72" x2="549.61" y2="110.43" stroke="#9467bd" stroke-width="0.95"/>
<circle cx="549.61" cy="120.08" r="0.55" fill="#9467bd"/>
<line x1="551.35" y1="127.13" x2="551.35" y2="110.83" stroke="#9467bd" stroke-width="0.95"/>
<circle cx="551.35" cy="118.98" r="0.55" fill="#9467bd"/>
<line x1="553.08" y1="128.50" x2="553.08" y2="110.59" stroke="#9467bd" stroke-width="0.95"/>
<circle cx="553.08" cy="119.54" r="0.55" fill="#9467bd"/>
<line x1="554.82" y1="124.34" x2="554.82" y2="108.62" stroke="#9467bd" stroke-width="0.95"/>
<circle cx="554.82" cy="116.48" r="0.55" fill="#9467bd"/>
<line x1="556.56" y1="125.08" x2="556.56" y2="114.67" stroke="#9467bd" stroke-width="0.95"/>
<circle cx="556.56" cy="119.87" r="0.55" fill="#9467bd"/>
<line x1="558.29" y1="128.24" x2="558.29" y2="108.85" stroke="#9467bd" stroke-width="0.95"/>
<circle cx="558.29" cy="118.55" r="0.55" fill="#9467bd"/>
<line x1="560.03" y1="121.39" x2="560.03" y2="113.80" stroke="#9467bd" stroke-width="0.95"/>
<circle cx="560.03" cy="117.60" r="0.55" fill="#9467bd"/>
<line x1="561.77" y1="128.09" x2="561.77" y2="110.34" stroke="#9467bd" stroke-width="0.95"/>
<circle cx="561.77" cy="119.22" r="0.55" fill="#9467bd"/>
<line x1="563.51" y1="124.22" x2="563.51" y2="113.90" stroke="#9467bd" stroke-width="0.95"/>
<circle cx="563.51" cy="119.06" r="0.55" fill="#9467bd"/>
<line x1="565.24" y1="125.30" x2="565.24" y2="110.82" stroke="#9467bd" stroke-width="0.95"/>
<circle cx="565.24" cy="118.06" r="0.55" fill="#9467bd"/>
<line x1="566.98" y1="131.98" x2="566.98" y2="109.91" stroke="#9467bd" stroke-width="0.95"/>
<circle cx="566.98" cy="120.94" r="0.55" fill="#9467bd"/>
<line x1="568.72" y1="127.42" x2="568.72" y2="111.82" stroke="#9467bd" stroke-width="0.95"/>
<circle cx="568.72" cy="119.62" r="0.55" fill="#9467bd"/>
<line x1="570.45" y1="121.78" x2="570.45" y2="113.39" stroke="#9467bd" stroke-width="0.95"/>
<circle cx="570.45" cy="117.59" r="0.55" fill="#9467bd"/>
<line x1="572.19" y1="123.44" x2="572.19" y2="109.40" stroke="#9467bd" stroke-width="0.95"/>
<circle cx="572.19" cy="116.42" r="0.55" fill="#9467bd"/>
<line x1="573.93" y1="125.72" x2="573.93" y2="108.12" stroke="#9467bd" stroke-width="0.95"/>
<circle cx="573.93" cy="116.92" r="0.55" fill="#9467bd"/>
<line x1="575.66" y1="124.01" x2="575.66" y2="115.54" stroke="#9467bd" stroke-width="0.95"/>
<circle cx="575.66" cy="119.78" r="0.55" fill="#9467bd"/>
<line x1="577.40" y1="122.95" x2="577.40" y2="111.46" stroke="#9467bd" stroke-width="0.95"/>
<circle cx="577.40" cy="117.20" r="0.55" fill="#9467bd"/>
<line x1="579.14" y1="118.68" x2="579.14" y2="110.74" stroke="#9467bd" stroke-width="0.95"/>
<circle cx="579.14" cy="114.71" r="0.55" fill="#9467bd"/>
<line x1="580.88" y1="123.03" x2="580.88" y2="107.05" stroke="#9467bd" stroke-width="0.95"/>
<circle cx="580.88" cy="115.04" r="0.55" fill="#9467bd"/>
<line x1="582.61" y1="122.91" x2="582.61" y2="109.32" stroke="#9467bd" stroke-width="0.95"/>
<circle cx="582.61" cy="116.12" r="0.55" fill="#9467bd"/>
<line x1="584.35" y1="125.29" x2="584.35" y2="109.76" stroke="#9467bd" stroke-width="0.95"/>
<circle cx="584.35" cy="117.53" r="0.55" fill="#9467bd"/>
<line x1="586.09" y1="120.70" x2="586.09" y2="108.34" stroke="#9467bd" stroke-width="0.95"/>
<circle cx="586.09" cy="114.52" r="0.55" fill="#9467bd"/>
<line x1="587.82" y1="125.71" x2="587.82" y2="107.69" stroke="#9467bd" stroke-width="0.95"/>
<circle cx="587.82" cy="116.70" r="0.55" fill="#9467bd"/>
<line x1="589.56" y1="122.97" x2="589.56" y2="112.45" stroke="#9467bd" stroke-width="0.95"/>
<circle cx="589.56" cy="117.71" r="0.55" fill="#9467bd"/>
<line x1="591.30" y1="127.91" x2="591.30" y2="105.85" stroke="#9467bd" stroke-width="0.95"/>
<circle cx="591.30" cy="116.88" r="0.55" fill="#9467bd"/>
<line x1="593.03" y1="123.92" x2="593.03" y2="100.94" stroke="#9467bd" stroke-width="0.95"/>
<circle cx="593.03" cy="112.43" r="0.55" fill="#9467bd"/>
<line x1="594.77" y1="122.51" x2="594.77" y2="106.83" stroke="#9467bd" stroke-width="0.95"/>
<circle cx="594.77" cy="114.67" r="0.55" fill="#9467bd"/>
<line x1="596.51" y1="120.37" x2="596.51" y2="105.07" stroke="#9467bd" stroke-width="0.95"/>
<circle cx="596.51" cy="112.72" r="0.55" fill="#9467bd"/>
<line x1="598.25" y1="126.57" x2="598.25" y2="104.96" stroke="#9467bd" stroke-width="0.95"/>
<circle cx="598.25" cy="115.76" r="0.55" fill="#9467bd"/>
<line x1="599.98" y1="119.18" x2="599.98" y2="106.58" stroke="#9467bd" stroke-width="0.95"/>
<circle cx="599.98" cy="112.88" r="0.55" fill="#9467bd"/>
<line x1="601.72" y1="126.18" x2="601.72" y2="105.31" stroke="#9467bd" stroke-width="0.95"/>
<circle cx="601.72" cy="115.74" r="0.55" fill="#9467bd"/>
<line x1="603.46" y1="121.07" x2="603.46" y2="108.42" stroke="#9467bd" stroke-width="0.95"/>
<circle cx="603.46" cy="114.75" r="0.55" fill="#9467bd"/>
<line x1="605.19" y1="119.27" x2="605.19" y2="99.60" stroke="#9467bd" stroke-width="0.95"/>
<circle cx="605.19" cy="109.43" r="0.55" fill="#9467bd"/>
<line x1="606.93" y1="119.41" x2="606.93" y2="105.91" stroke="#9467bd" stroke-width="0.95"/>
<circle cx="606.93" cy="112.66" r="0.55" fill="#9467bd"/>
<line x1="608.67" y1="123.97" x2="608.67" y2="106.06" stroke="#9467bd" stroke-width="0.95"/>
<circle cx="608.67" cy="115.02" r="0.55" fill="#9467bd"/>
<line x1="610.40" y1="125.67" x2="610.40" y2="102.44" stroke="#9467bd" stroke-width="0.95"/>
<circle cx="610.40" cy="114.05" r="0.55" fill="#9467bd"/>
<line x1="612.14" y1="117.63" x2="612.14" y2="108.56" stroke="#9467bd" stroke-width="0.95"/>
<circle cx="612.14" cy="113.10" r="0.55" fill="#9467bd"/>
<line x1="613.88" y1="121.92" x2="613.88" y2="100.46" stroke="#9467bd" stroke-width="0.95"/>
<circle cx="613.88" cy="111.19" r="0.55" fill="#9467bd"/>
<line x1="615.62" y1="123.01" x2="615.62" y2="105.83" stroke="#9467bd" stroke-width="0.95"/>
<circle cx="615.62" cy="114.42" r="0.55" fill="#9467bd"/>
<line x1="617.35" y1="124.05" x2="617.35" y2="109.50" stroke="#9467bd" stroke-width="0.95"/>
<circle cx="617.35" cy="116.77" r="0.55" fill="#9467bd"/>
<line x1="619.09" y1="120.76" x2="619.09" y2="106.63" stroke="#9467bd" stroke-width="0.95"/>
<circle cx="619.09" cy="113.69" r="0.55" fill="#9467bd"/>
<line x1="620.83" y1="117.69" x2="620.83" y2="108.19" stroke="#9467bd" stroke-width="0.95"/>
<circle cx="620.83" cy="112.94" r="0.55" fill="#9467bd"/>
<line x1="622.56" y1="118.93" x2="622.56" y2="106.22" stroke="#9467bd" stroke-width="0.95"/>
<circle cx="622.56" cy="112.57" r="0.55" fill="#9467bd"/>
<line x1="624.30" y1="119.40" x2="624.30" y2="100.50" stroke="#9467bd" stroke-width="0.95"/>
<circle cx="624.30" cy="109.95" r="0.55" fill="#9467bd"/>
<line x1="626.04" y1="116.84" x2="626.04" y2="106.74" stroke="#9467bd" stroke-width="0.95"/>
<circle cx="626.04" cy="111.79" r="0.55" fill="#9467bd"/>
<line x1="627.77" y1="120.52" x2="627.77" y2="100.65" stroke="#9467bd" stroke-width="0.95"/>
<circle cx="627.77" cy="110.58" r="0.55" fill="#9467bd"/>
<line x1="629.51" y1="126.78" x2="629.51" y2="101.82" stroke="#9467bd" stroke-width="0.95"/>
<circle cx="629.51" cy="114.30" r="0.55" fill="#9467bd"/>
<line x1="631.25" y1="122.75" x2="631.25" y2="97.34" stroke="#9467bd" stroke-width="0.95"/>
<circle cx="631.25" cy="110.05" r="0.55" fill="#9467bd"/>
<line x1="632.99" y1="119.26" x2="632.99" y2="95.29" stroke="#9467bd" stroke-width="0.95"/>
<circle cx="632.99" cy="107.28" r="0.55" fill="#9467bd"/>
<line x1="634.72" y1="121.11" x2="634.72" y2="98.43" stroke="#9467bd" stroke-width="0.95"/>
<circle cx="634.72" cy="109.77" r="0.55" fill="#9467bd"/>
<line x1="636.46" y1="116.51" x2="636.46" y2="104.68" stroke="#9467bd" stroke-width="0.95"/>
<circle cx="636.46" cy="110.59" r="0.55" fill="#9467bd"/>
<line x1="638.20" y1="123.45" x2="638.20" y2="97.62" stroke="#9467bd" stroke-width="0.95"/>
<circle cx="638.20" cy="110.53" r="0.55" fill="#9467bd"/>
<line x1="639.93" y1="113.02" x2="639.93" y2="100.59" stroke="#9467bd" stroke-width="0.95"/>
<circle cx="639.93" cy="106.80" r="0.55" fill="#9467bd"/>
<line x1="641.67" y1="124.43" x2="641.67" y2="100.03" stroke="#9467bd" stroke-width="0.95"/>
<circle cx="641.67" cy="112.23" r="0.55" fill="#9467bd"/>
<line x1="643.41" y1="122.54" x2="643.41" y2="97.80" stroke="#9467bd" stroke-width="0.95"/>
<circle cx="643.41" cy="110.17" r="0.55" fill="#9467bd"/>
<line x1="645.14" y1="118.75" x2="645.14" y2="98.43" stroke="#9467bd" stroke-width="0.95"/>
<circle cx="645.14" cy="108.59" r="0.55" fill="#9467bd"/>
<line x1="646.88" y1="116.91" x2="646.88" y2="98.25" stroke="#9467bd" stroke-width="0.95"/>
<circle cx="646.88" cy="107.58" r="0.55" fill="#9467bd"/>
<line x1="648.62" y1="116.18" x2="648.62" y2="103.26" stroke="#9467bd" stroke-width="0.95"/>
<circle cx="648.62" cy="109.72" r="0.55" fill="#9467bd"/>
<line x1="650.36" y1="117.14" x2="650.36" y2="98.13" stroke="#9467bd" stroke-width="0.95"/>
<circle cx="650.36" cy="107.64" r="0.55" fill="#9467bd"/>
<line x1="652.09" y1="115.88" x2="652.09" y2="100.98" stroke="#9467bd" stroke-width="0.95"/>
<circle cx="652.09" cy="108.43" r="0.55" fill="#9467bd"/>
<line x1="653.83" y1="112.96" x2="653.83" y2="101.02" stroke="#9467bd" stroke-width="0.95"/>
<circle cx="653.83" cy="106.99" r="0.55" fill="#9467bd"/>
<line x1="655.57" y1="113.03" x2="655.57" y2="100.88" stroke="#9467bd" stroke-width="0.95"/>
<circle cx="655.57" cy="106.96" r="0.55" fill="#9467bd"/>
<line x1="657.30" y1="121.37" x2="657.30" y2="95.85" stroke="#9467bd" stroke-width="0.95"/>
<circle cx="657.30" cy="108.61" r="0.55" fill="#9467bd"/>
<line x1="659.04" y1="119.47" x2="659.04" y2="91.14" stroke="#9467bd" stroke-width="0.95"/>
<circle cx="659.04" cy="105.31" r="0.55" fill="#9467bd"/>
<line x1="660.78" y1="108.88" x2="660.78" y2="95.88" stroke="#9467bd" stroke-width="0.95"/>
<circle cx="660.78" cy="102.38" r="0.55" fill="#9467bd"/>
<line x1="662.51" y1="111.15" x2="662.51" y2="100.56" stroke="#9467bd" stroke-width="0.95"/>
<circle cx="662.51" cy="105.86" r="0.55" fill="#9467bd"/>
<line x1="664.25" y1="111.17" x2="664.25" y2="95.09" stroke="#9467bd" stroke-width="0.95"/>
<circle cx="664.25" cy="103.13" r="0.55" fill="#9467bd"/>
<line x1="665.99" y1="106.62" x2="665.99" y2="92.96" stroke="#9467bd" stroke-width="0.95"/>
<circle cx="665.99" cy="99.79" r="0.55" fill="#9467bd"/>
<line x1="667.73" y1="110.49" x2="667.73" y2="95.31" stroke="#9467bd" stroke-width="0.95"/>
<circle cx="667.73" cy="102.90" r="0.55" fill="#9467bd"/>
<line x1="669.46" y1="110.61" x2="669.46" y2="86.10" stroke="#9467bd" stroke-width="0.95"/>
<circle cx="669.46" cy="98.36" r="0.55" fill="#9467bd"/>
<line x1="671.20" y1="110.82" x2="671.20" y2="89.36" stroke="#9467bd" stroke-width="0.95"/>
<circle cx="671.20" cy="100.09" r="0.55" fill="#9467bd"/>
<polyline points="497.50,132.72 499.24,132.43 500.97,132.14 502.71,131.86 504.45,131.57 506.19,131.28 507.92,131.00 509.66,130.71 511.40,130.42 513.13,130.14 514.87,129.85 516.61,129.56 518.34,129.27 520.08,128.99 521.82,128.70 523.55,128.41 525.29,128.13 527.03,127.84 528.77,127.55 530.50,127.26 532.24,126.97 533.98,126.69 535.71,126.40 537.45,126.11 539.19,125.82 540.92,125.53 542.66,125.24 544.40,124.96 546.14,124.67 547.87,124.38 549.61,124.09 551.35,123.80 553.08,123.51 554.82,123.21 556.56,122.92 558.29,122.63 560.03,122.34 561.77,122.04 563.51,121.75 565.24,121.45 566.98,121.16 568.72,120.86 570.45,120.56 572.19,120.26 573.93,119.96 575.66,119.65 577.40,119.35 579.14,119.04 580.88,118.73 582.61,118.42 584.35,118.10 586.09,117.78 587.82,117.46 589.56,117.13 591.30,116.80 593.03,116.46 594.77,116.12 596.51,115.77 598.25,115.42 599.98,115.05 601.72,114.68 603.46,114.30 605.19,113.90 606.93,113.50 608.67,113.08 610.40,112.65 612.14,112.19 613.88,111.72 615.62,111.23 617.35,110.72 619.09,110.18 620.83,109.61 622.56,109.01 624.30,108.37 626.04,107.69 627.77,106.97 629.51,106.20 631.25,105.37 632.99,104.48 634.72,103.52 636.46,102.49 638.20,101.37 639.93,100.15 641.67,98.83 643.41,97.39 645.14,95.82 646.88,94.10 648.62,92.22 650.36,90.15 652.09,87.88 653.83,85.39 655.57,82.64 657.30,79.61 659.04,76.27 660.78,72.58 662.51,68.50 664.25,63.98 665.99,58.99 667.73,53.45 669.46,47.31 671.20,40.51" fill="none" stroke="#1f77b4" stroke-width="1.0" stroke-linejoin="round"/>
<polyline points="497.50,133.00 499.24,132.70 500.97,132.41 502.71,132.11 504.45,131.82 506.19,131.52 507.92,131.22 509.66,130.93 511.40,130.63 513.13,130.34 514.87,130.04 516.61,129.74 518.34,129.45 520.08,129.15 521.82,128.86 523.55,128.56 525.29,128.26 527.03,127.97 528.77,127.67 530.50,127.37 532.24,127.08 533.98,126.78 535.71,126.49 537.45,126.19 539.19,125.89 540.92,125.59 542.66,125.30 544.40,125.00 546.14,124.70 547.87,124.40 549.61,124.10 551.35,123.81 553.08,123.51 554.82,123.21 556.56,122.91 558.29,122.61 560.03,122.31 561.77,122.01 563.51,121.70 565.24,121.40 566.98,121.10 568.72,120.79 570.45,120.49 572.19,120.18 573.93,119.87 575.66,119.56 577.40,119.25 579.14,118.93 580.88,118.62 582.61,118.30 584.35,117.98 586.09,117.66 587.82,117.33 589.56,117.00 591.30,116.66 593.03,116.32 594.77,115.98 596.51,115.63 598.25,115.27 599.98,114.91 601.72,114.54 603.46,114.16 605.19,113.77 606.93,113.36 608.67,112.95 610.40,112.52 612.14,112.08 613.88,111.62 615.62,111.14 617.35,110.64 619.09,110.11 620.83,109.56 622.56,108.97 624.30,108.36 626.04,107.70 627.77,107.01 629.51,106.26 631.25,105.47 632.99,104.61 634.72,103.69 636.46,102.70 638.20,101.62 639.93,100.45 641.67,99.18 643.41,97.80 645.14,96.29 646.88,94.64 648.62,92.83 650.36,90.84 652.09,88.65 653.83,86.24 655.57,83.58 657.30,80.65 659.04,77.40 660.78,73.81 662.51,69.84 664.25,65.43 665.99,60.54 667.73,55.11 669.46,49.09 671.20,42.39" fill="none" stroke="#ff7f0e" stroke-width="1.0" stroke-linejoin="round"/>
<polyline points="497.50,131.75 499.24,131.50 500.97,131.24 502.71,130.99 504.45,130.73 506.19,130.48 507.92,130.22 509.66,129.96 511.40,129.71 513.13,129.45 514.87,129.19 516.61,128.94 518.34,128.68 520.08,128.42 521.82,128.16 523.55,127.91 525.29,127.65 527.03,127.39 528.77,127.13 530.50,126.87 532.24,126.61 533.98,126.35 535.71,126.09 537.45,125.83 539.19,125.56 540.92,125.30 542.66,125.04 544.40,124.77 546.14,124.51 547.87,124.24 549.61,123.97 551.35,123.70 553.08,123.43 554.82,123.16 556.56,122.89 558.29,122.61 560.03,122.34 561.77,122.06 563.51,121.78 565.24,121.50 566.98,121.21 568.72,120.93 570.45,120.64 572.19,120.35 573.93,120.05 575.66,119.75 577.40,119.45 579.14,119.15 580.88,118.84 582.61,118.52 584.35,118.20 586.09,117.88 587.82,117.55 589.56,117.21 591.30,116.87 593.03,116.52 594.77,116.17 596.51,115.80 598.25,115.43 599.98,115.04 601.72,114.65 603.46,114.24 605.19,113.83 606.93,113.40 608.67,112.95 610.40,112.49 612.14,112.02 613.88,111.52 615.62,111.01 617.35,110.48 619.09,109.92 620.83,109.34 622.56,108.74 624.30,108.10 626.04,107.44 627.77,106.74 629.51,106.01 631.25,105.24 632.99,104.43 634.72,103.57 636.46,102.67 638.20,101.72 639.93,100.70 641.67,99.63 643.41,98.50 645.14,97.29 646.88,96.01 648.62,94.64 650.36,93.19 652.09,91.64 653.83,89.99 655.57,88.23 657.30,86.35 659.04,84.34 660.78,82.19 662.51,79.88 664.25,77.42 665.99,74.78 667.73,71.94 669.46,68.91 671.20,65.65" fill="none" stroke="#2ca02c" stroke-width="1.0" stroke-linejoin="round"/>
<polyline points="497.50,130.78 499.24,130.55 500.97,130.31 502.71,130.07 504.45,129.83 506.19,129.59 507.92,129.36 509.66,129.12 511.40,128.88 513.13,128.64 514.87,128.40 516.61,128.16 518.34,127.92 520.08,127.68 521.82,127.44 523.55,127.20 525.29,126.96 527.03,126.72 528.77,126.47 530.50,126.23 532.24,125.99 533.98,125.74 535.71,125.50 537.45,125.25 539.19,125.01 540.92,124.76 542.66,124.51 544.40,124.27 546.14,124.02 547.87,123.77 549.61,123.52 551.35,123.26 553.08,123.01 554.82,122.75 556.56,122.50 558.29,122.24 560.03,121.98 561.77,121.72 563.51,121.45 565.24,121.19 566.98,120.92 568.72,120.65 570.45,120.38 572.19,120.10 573.93,119.82 575.66,119.54 577.40,119.26 579.14,118.97 580.88,118.68 582.61,118.38 584.35,118.08 586.09,117.77 587.82,117.46 589.56,117.14 591.30,116.82 593.03,116.48 594.77,116.15 596.51,115.80 598.25,115.45 599.98,115.08 601.72,114.71 603.46,114.33 605.19,113.93 606.93,113.53 608.67,113.11 610.40,112.67 612.14,112.23 613.88,111.76 615.62,111.28 617.35,110.78 619.09,110.26 620.83,109.72 622.56,109.16 624.30,108.57 626.04,107.95 627.77,107.31 629.51,106.64 631.25,105.93 632.99,105.18 634.72,104.40 636.46,103.58 638.20,102.71 639.93,101.80 641.67,100.83 643.41,99.81 645.14,98.73 646.88,97.58 648.62,96.37 650.36,95.08 652.09,93.71 653.83,92.26 655.57,90.72 657.30,89.07 659.04,87.32 660.78,85.46 662.51,83.47 664.25,81.35 665.99,79.09 667.73,76.68 669.46,74.10 671.20,71.34" fill="none" stroke="#d62728" stroke-width="1.0" stroke-linejoin="round"/>
<polyline points="497.50,121.85 499.24,121.73 500.97,121.61 502.71,121.49 504.45,121.37 506.19,121.25 507.92,121.13 509.66,121.01 511.40,120.90 513.13,120.78 514.87,120.66 516.61,120.54 518.34,120.42 520.08,120.30 521.82,120.18 523.55,120.06 525.29,119.94 527.03,119.82 528.77,119.70 530.50,119.58 532.24,119.46 533.98,119.34 535.71,119.22 537.45,119.10 539.19,118.98 540.92,118.86 542.66,118.74 544.40,118.62 546.14,118.50 547.87,118.38 549.61,118.26 551.35,118.14 553.08,118.02 554.82,117.90 556.56,117.78 558.29,117.66 560.03,117.54 561.77,117.42 563.51,117.30 565.24,117.18 566.98,117.06 568.72,116.94 570.45,116.82 572.19,116.70 573.93,116.58 575.66,116.46 577.40,116.33 579.14,116.21 580.88,116.09 582.61,115.97 584.35,115.84 586.09,115.72 587.82,115.60 589.56,115.47 591.30,115.34 593.03,115.22 594.77,115.09 596.51,114.96 598.25,114.83 599.98,114.70 601.72,114.57 603.46,114.44 605.19,114.30 606.93,114.17 608.67,114.03 610.40,113.89 612.14,113.74 613.88,113.60 615.62,113.44 617.35,113.29 619.09,113.13 620.83,112.97 622.56,112.80 624.30,112.62 626.04,112.44 627.77,112.24 629.51,112.04 631.25,111.83 632.99,111.61 634.72,111.37 636.46,111.12 638.20,110.86 639.93,110.57 641.67,110.26 643.41,109.93 645.14,109.58 646.88,109.19 648.62,108.77 650.36,108.31 652.09,107.81 653.83,107.26 655.57,106.66 657.30,105.99 659.04,105.26 660.78,104.44 662.51,103.54 664.25,102.55 665.99,101.44 667.73,100.20 669.46,98.83 671.20,97.29" fill="none" stroke="#9467bd" stroke-width="1.0" stroke-linejoin="round"/>
<line x1="669.46" y1="71.11" x2="669.46" y2="8.81" stroke="#1f77b4" stroke-width="0.8"/>
<line x1="669.46" y1="74.29" x2="669.46" y2="13.90" stroke="#ff7f0e" stroke-width="0.8"/>
</g>
<line x1="488.60" y1="2.50" x2="488.60" y2="140.00" stroke="#444" stroke-width="0.8"/>
<line x1="679.60" y1="2.50" x2="679.60" y2="140.00" stroke="#444" stroke-width="0.8"/>
<line x1="488.60" y1="2.50" x2="679.60" y2="2.50" stroke="#444" stroke-width="0.8"/>
<line x1="488.60" y1="140.00" x2="679.60" y2="140.00" stroke="#444" stroke-width="0.8"/>
<line x1="486.00" y1="131.50" x2="488.60" y2="131.50" stroke="#444" stroke-width="0.8"/>
<text x="484.30" y="134.00" font-size="7" text-anchor="end" font-weight="normal" fill="#222" stroke="#222">0.0</text>
<line x1="486.00" y1="115.61" x2="488.60" y2="115.61" stroke="#444" stroke-width="0.8"/>
<text x="484.30" y="118.11" font-size="7" text-anchor="end" font-weight="normal" fill="#222" stroke="#222">2.5</text>
<line x1="486.00" y1="99.72" x2="488.60" y2="99.72" stroke="#444" stroke-width="0.8"/>
<text x="484.30" y="102.22" font-size="7" text-anchor="end" font-weight="normal" fill="#222" stroke="#222">5.0</text>
<line x1="486.00" y1="83.82" x2="488.60" y2="83.82" stroke="#444" stroke-width="0.8"/>
<text x="484.30" y="86.32" font-size="7" text-anchor="end" font-weight="normal" fill="#222" stroke="#222">7.5</text>
<line x1="486.00" y1="67.93" x2="488.60" y2="67.93" stroke="#444" stroke-width="0.8"/>
<text x="484.30" y="70.43" font-size="7" text-anchor="end" font-weight="normal" fill="#222" stroke="#222">10.0</text>
<line x1="486.00" y1="52.04" x2="488.60" y2="52.04" stroke="#444" stroke-width="0.8"/>
<text x="484.30" y="54.54" font-size="7" text-anchor="end" font-weight="normal" fill="#222" stroke="#222">12.5</text>
<line x1="486.00" y1="36.14" x2="488.60" y2="36.14" stroke="#444" stroke-width="0.8"/>
<text x="484.30" y="38.64" font-size="7" text-anchor="end" font-weight="normal" fill="#222" stroke="#222">15.0</text>
<line x1="486.00" y1="20.25" x2="488.60" y2="20.25" stroke="#444" stroke-width="0.8"/>
<text x="484.30" y="22.75" font-size="7" text-anchor="end" font-weight="normal" fill="#222" stroke="#222">17.5</text>
<line x1="486.00" y1="4.36" x2="488.60" y2="4.36" stroke="#444" stroke-width="0.8"/>
<text x="484.30" y="6.86" font-size="7" text-anchor="end" font-weight="normal" fill="#222" stroke="#222">20.0</text>
<line x1="497.50" y1="140.00" x2="497.50" y2="142.50" stroke="#444" stroke-width="0.8"/>
<text x="497.50" y="148.90" font-size="7" text-anchor="middle" font-weight="normal" fill="#222" stroke="#222">0</text>
<line x1="532.24" y1="140.00" x2="532.24" y2="142.50" stroke="#444" stroke-width="0.8"/>
<text x="532.24" y="148.90" font-size="7" text-anchor="middle" font-weight="normal" fill="#222" stroke="#222">20</text>
<line x1="566.98" y1="140.00" x2="566.98" y2="142.50" stroke="#444" stroke-width="0.8"/>
<text x="566.98" y="148.90" font-size="7" text-anchor="middle" font-weight="normal" fill="#222" stroke="#222">40</text>
<line x1="601.72" y1="140.00" x2="601.72" y2="142.50" stroke="#444" stroke-width="0.8"/>
<text x="601.72" y="148.90" font-size="7" text-anchor="middle" font-weight="normal" fill="#222" stroke="#222">60</text>
<line x1="636.46" y1="140.00" x2="636.46" y2="142.50" stroke="#444" stroke-width="0.8"/>
<text x="636.46" y="148.90" font-size="7" text-anchor="middle" font-weight="normal" fill="#222" stroke="#222">80</text>
<line x1="671.20" y1="140.00" x2="671.20" y2="142.50" stroke="#444" stroke-width="0.8"/>
<text x="671.20" y="148.90" font-size="7" text-anchor="middle" font-weight="normal" fill="#222" stroke="#222">100</text>
<text x="584.25" y="167.90" font-size="9.3" text-anchor="middle" font-weight="normal" fill="#222" stroke="#222">Percentile (%)</text>
<text x="458.80" y="70.90" font-size="9.6" text-anchor="middle" font-weight="normal" fill="#222" stroke="#222" transform="rotate(-90 458.8 70.9)">Incidence (%)</text>
<rect x="492.40" y="5.90" width="73.90" height="53.50" fill="#fff" stroke="#ddd" stroke-width="0.6" rx="1.5" fill-opacity="0.85"/>
<line x1="502.60" y1="7.70" x2="502.60" y2="14.50" stroke="#1f77b4" stroke-width="0.8"/>
<circle cx="502.60" cy="11.10" r="0.9" fill="#1f77b4"/>
<text x="511.30" y="13.80" font-size="7.4" text-anchor="start" font-weight="normal" fill="#222" stroke="#222">NG2+PRS; LR</text>
<line x1="502.60" y1="17.85" x2="502.60" y2="24.65" stroke="#ff7f0e" stroke-width="0.8"/>
<circle cx="502.60" cy="21.25" r="0.9" fill="#ff7f0e"/>
<text x="511.30" y="23.95" font-size="7.4" text-anchor="start" font-weight="normal" fill="#222" stroke="#222">NG2; LR</text>
<line x1="502.60" y1="28.00" x2="502.60" y2="34.80" stroke="#2ca02c" stroke-width="0.8"/>
<circle cx="502.60" cy="31.40" r="0.9" fill="#2ca02c"/>
<text x="511.30" y="34.10" font-size="7.4" text-anchor="start" font-weight="normal" fill="#222" stroke="#222">NG1+PRS; LR</text>
<line x1="502.60" y1="38.15" x2="502.60" y2="44.95" stroke="#d62728" stroke-width="0.8"/>
<circle cx="502.60" cy="41.55" r="0.9" fill="#d62728"/>
<text x="511.30" y="44.25" font-size="7.4" text-anchor="start" font-weight="normal" fill="#222" stroke="#222">NG1; LR</text>
<line x1="502.60" y1="48.30" x2="502.60" y2="55.10" stroke="#9467bd" stroke-width="0.8"/>
<circle cx="502.60" cy="51.70" r="0.9" fill="#9467bd"/>
<text x="511.30" y="54.40" font-size="7.4" text-anchor="start" font-weight="normal" fill="#222" stroke="#222">PRS; LR</text>
<text x="1.50" y="188.00" font-size="11.5" text-anchor="start" font-weight="bold" fill="#111" stroke="#111">d)</text>
<polyline points="41.80,226.52 73.90,253.39 106.00,283.21 138.10,307.00 170.20,317.03 179.83,317.70 186.25,317.70 192.67,317.70 199.09,317.70" fill="none" stroke="#1f77b4" stroke-width="1.0" stroke-linejoin="round"/>
<line x1="41.80" y1="228.12" x2="41.80" y2="224.91" stroke="#1f77b4" stroke-width="1.0"/>
<circle cx="41.80" cy="226.52" r="1.9" fill="#1f77b4"/>
<line x1="73.90" y1="254.73" x2="73.90" y2="252.05" stroke="#1f77b4" stroke-width="1.0"/>
<circle cx="73.90" cy="253.39" r="1.9" fill="#1f77b4"/>
<line x1="106.00" y1="284.81" x2="106.00" y2="281.60" stroke="#1f77b4" stroke-width="1.0"/>
<circle cx="106.00" cy="283.21" r="1.9" fill="#1f77b4"/>
<line x1="138.10" y1="308.07" x2="138.10" y2="305.93" stroke="#1f77b4" stroke-width="1.0"/>
<circle cx="138.10" cy="307.00" r="1.9" fill="#1f77b4"/>
<line x1="170.20" y1="317.30" x2="170.20" y2="316.76" stroke="#1f77b4" stroke-width="1.0"/>
<circle cx="170.20" cy="317.03" r="1.9" fill="#1f77b4"/>
<circle cx="179.83" cy="317.70" r="1.9" fill="#1f77b4"/>
<circle cx="186.25" cy="317.70" r="1.9" fill="#1f77b4"/>
<circle cx="192.67" cy="317.70" r="1.9" fill="#1f77b4"/>
<circle cx="199.09" cy="317.70" r="1.9" fill="#1f77b4"/>
<polyline points="41.80,218.49 73.90,241.76 106.00,270.50 138.10,301.66 170.20,317.03 179.83,317.70 186.25,317.70 192.67,317.70 199.09,317.70" fill="none" stroke="#ff7f0e" stroke-width="1.0" stroke-linejoin="round"/>
<line x1="41.80" y1="220.10" x2="41.80" y2="216.89" stroke="#ff7f0e" stroke-width="1.0"/>
<circle cx="41.80" cy="218.49" r="1.9" fill="#ff7f0e"/>
<line x1="73.90" y1="243.36" x2="73.90" y2="240.15" stroke="#ff7f0e" stroke-width="1.0"/>
<circle cx="73.90" cy="241.76" r="1.9" fill="#ff7f0e"/>
<line x1="106.00" y1="273.18" x2="106.00" y2="267.83" stroke="#ff7f0e" stroke-width="1.0"/>
<circle cx="106.00" cy="270.50" r="1.9" fill="#ff7f0e"/>
<line x1="138.10" y1="303.26" x2="138.10" y2="300.05" stroke="#ff7f0e" stroke-width="1.0"/>
<circle cx="138.10" cy="301.66" r="1.9" fill="#ff7f0e"/>
<line x1="170.20" y1="317.43" x2="170.20" y2="316.63" stroke="#ff7f0e" stroke-width="1.0"/>
<circle cx="170.20" cy="317.03" r="1.9" fill="#ff7f0e"/>
<circle cx="179.83" cy="317.70" r="1.9" fill="#ff7f0e"/>
<circle cx="186.25" cy="317.70" r="1.9" fill="#ff7f0e"/>
<circle cx="192.67" cy="317.70" r="1.9" fill="#ff7f0e"/>
<circle cx="199.09" cy="317.70" r="1.9" fill="#ff7f0e"/>
<polyline points="41.80,222.24 73.90,245.23 106.00,271.84 138.10,297.24 170.20,313.96 179.83,316.63 186.25,317.17 192.67,317.30 199.09,317.43" fill="none" stroke="#2ca02c" stroke-width="1.0" stroke-linejoin="round"/>
<line x1="41.80" y1="223.58" x2="41.80" y2="220.90" stroke="#2ca02c" stroke-width="1.0"/>
<circle cx="41.80" cy="222.24" r="1.9" fill="#2ca02c"/>
<line x1="73.90" y1="246.57" x2="73.90" y2="243.90" stroke="#2ca02c" stroke-width="1.0"/>
<circle cx="73.90" cy="245.23" r="1.9" fill="#2ca02c"/>
<line x1="106.00" y1="273.45" x2="106.00" y2="270.24" stroke="#2ca02c" stroke-width="1.0"/>
<circle cx="106.00" cy="271.84" r="1.9" fill="#2ca02c"/>
<line x1="138.10" y1="298.58" x2="138.10" y2="295.91" stroke="#2ca02c" stroke-width="1.0"/>
<circle cx="138.10" cy="297.24" r="1.9" fill="#2ca02c"/>
<line x1="170.20" y1="314.62" x2="170.20" y2="313.29" stroke="#2ca02c" stroke-width="1.0"/>
<circle cx="170.20" cy="313.96" r="1.9" fill="#2ca02c"/>
<line x1="179.83" y1="316.90" x2="179.83" y2="316.36" stroke="#2ca02c" stroke-width="1.0"/>
<circle cx="179.83" cy="316.63" r="1.9" fill="#2ca02c"/>
<circle cx="186.25" cy="317.17" r="1.9" fill="#2ca02c"/>
<circle cx="192.67" cy="317.30" r="1.9" fill="#2ca02c"/>
<circle cx="199.09" cy="317.43" r="1.9" fill="#2ca02c"/>
<polyline points="41.80,204.19 73.90,210.07 106.00,218.09 138.10,230.53 170.20,252.72 179.83,262.88 186.25,272.24 192.67,284.54 199.09,301.92" fill="none" stroke="#d62728" stroke-width="1.0" stroke-linejoin="round"/>
<line x1="41.80" y1="204.72" x2="41.80" y2="203.65" stroke="#d62728" stroke-width="1.0"/>
<circle cx="41.80" cy="204.19" r="1.9" fill="#d62728"/>
<line x1="73.90" y1="210.87" x2="73.90" y2="209.27" stroke="#d62728" stroke-width="1.0"/>
<circle cx="73.90" cy="210.07" r="1.9" fill="#d62728"/>
<line x1="106.00" y1="220.23" x2="106.00" y2="215.95" stroke="#d62728" stroke-width="1.0"/>
<circle cx="106.00" cy="218.09" r="1.9" fill="#d62728"/>
<line x1="138.10" y1="235.07" x2="138.10" y2="225.98" stroke="#d62728" stroke-width="1.0"/>
<circle cx="138.10" cy="230.53" r="1.9" fill="#d62728"/>
<line x1="170.20" y1="260.74" x2="170.20" y2="244.70" stroke="#d62728" stroke-width="1.0"/>
<circle cx="170.20" cy="252.72" r="1.9" fill="#d62728"/>
<line x1="179.83" y1="271.57" x2="179.83" y2="254.19" stroke="#d62728" stroke-width="1.0"/>
<circle cx="179.83" cy="262.88" r="1.9" fill="#d62728"/>
<line x1="186.25" y1="281.87" x2="186.25" y2="262.62" stroke="#d62728" stroke-width="1.0"/>
<circle cx="186.25" cy="272.24" r="1.9" fill="#d62728"/>
<line x1="192.67" y1="293.63" x2="192.67" y2="275.45" stroke="#d62728" stroke-width="1.0"/>
<circle cx="192.67" cy="284.54" r="1.9" fill="#d62728"/>
<line x1="199.09" y1="309.14" x2="199.09" y2="294.70" stroke="#d62728" stroke-width="1.0"/>
<circle cx="199.09" cy="301.92" r="1.9" fill="#d62728"/>
<line x1="34.20" y1="197.50" x2="34.20" y2="318.20" stroke="#444" stroke-width="0.8"/>
<line x1="207.30" y1="197.50" x2="207.30" y2="318.20" stroke="#444" stroke-width="0.8"/>
<line x1="34.20" y1="197.50" x2="207.30" y2="197.50" stroke="#444" stroke-width="0.8"/>
<line x1="34.20" y1="318.20" x2="207.30" y2="318.20" stroke="#444" stroke-width="0.8"/>
<line x1="31.50" y1="317.70" x2="34.20" y2="317.70" stroke="#444" stroke-width="0.8"/>
<text x="30.90" y="320.40" font-size="6.6" text-anchor="end" font-weight="normal" fill="#222" stroke="#222">0.0</text>
<line x1="31.50" y1="304.33" x2="34.20" y2="304.33" stroke="#444" stroke-width="0.8"/>
<text x="30.90" y="307.03" font-size="6.6" text-anchor="end" font-weight="normal" fill="#222" stroke="#222">0.1</text>
<line x1="31.50" y1="290.96" x2="34.20" y2="290.96" stroke="#444" stroke-width="0.8"/>
<text x="30.90" y="293.66" font-size="6.6" text-anchor="end" font-weight="normal" fill="#222" stroke="#222">0.2</text>
<line x1="31.50" y1="277.59" x2="34.20" y2="277.59" stroke="#444" stroke-width="0.8"/>
<text x="30.90" y="280.29" font-size="6.6" text-anchor="end" font-weight="normal" fill="#222" stroke="#222">0.3</text>
<line x1="31.50" y1="264.22" x2="34.20" y2="264.22" stroke="#444" stroke-width="0.8"/>
<text x="30.90" y="266.92" font-size="6.6" text-anchor="end" font-weight="normal" fill="#222" stroke="#222">0.4</text>
<line x1="31.50" y1="250.85" x2="34.20" y2="250.85" stroke="#444" stroke-width="0.8"/>
<text x="30.90" y="253.55" font-size="6.6" text-anchor="end" font-weight="normal" fill="#222" stroke="#222">0.5</text>
<line x1="31.50" y1="237.48" x2="34.20" y2="237.48" stroke="#444" stroke-width="0.8"/>
<text x="30.90" y="240.18" font-size="6.6" text-anchor="end" font-weight="normal" fill="#222" stroke="#222">0.6</text>
<line x1="31.50" y1="224.11" x2="34.20" y2="224.11" stroke="#444" stroke-width="0.8"/>
<text x="30.90" y="226.81" font-size="6.6" text-anchor="end" font-weight="normal" fill="#222" stroke="#222">0.7</text>
<line x1="31.50" y1="210.74" x2="34.20" y2="210.74" stroke="#444" stroke-width="0.8"/>
<text x="30.90" y="213.44" font-size="6.6" text-anchor="end" font-weight="normal" fill="#222" stroke="#222">0.8</text>
<line x1="31.50" y1="197.37" x2="34.20" y2="197.37" stroke="#444" stroke-width="0.8"/>
<text x="30.90" y="200.07" font-size="6.6" text-anchor="end" font-weight="normal" fill="#222" stroke="#222">0.9</text>
<line x1="41.80" y1="318.20" x2="41.80" y2="320.50" stroke="#444" stroke-width="0.8"/>
<text x="41.80" y="325.70" font-size="6.5" text-anchor="middle" font-weight="normal" fill="#222" stroke="#222">0.5</text>
<line x1="73.90" y1="318.20" x2="73.90" y2="320.50" stroke="#444" stroke-width="0.8"/>
<text x="73.90" y="325.70" font-size="6.5" text-anchor="middle" font-weight="normal" fill="#222" stroke="#222">0.6</text>
<line x1="106.00" y1="318.20" x2="106.00" y2="320.50" stroke="#444" stroke-width="0.8"/>
<text x="106.00" y="325.70" font-size="6.5" text-anchor="middle" font-weight="normal" fill="#222" stroke="#222">0.7</text>
<line x1="138.10" y1="318.20" x2="138.10" y2="320.50" stroke="#444" stroke-width="0.8"/>
<text x="138.10" y="325.70" font-size="6.5" text-anchor="middle" font-weight="normal" fill="#222" stroke="#222">0.8</text>
<line x1="170.20" y1="318.20" x2="170.20" y2="320.50" stroke="#444" stroke-width="0.8"/>
<text x="170.20" y="325.70" font-size="6.5" text-anchor="middle" font-weight="normal" fill="#222" stroke="#222">0.9</text>
<line x1="202.30" y1="318.20" x2="202.30" y2="320.50" stroke="#444" stroke-width="0.8"/>
<text x="202.30" y="325.70" font-size="6.5" text-anchor="middle" font-weight="normal" fill="#222" stroke="#222">1.0</text>
<text x="120.75" y="343.20" font-size="9.3" text-anchor="middle" font-weight="normal" fill="#222" stroke="#222">Class Decision Threshold</text>
<text x="10.40" y="257.70" font-size="9.4" text-anchor="middle" font-weight="normal" fill="#222" stroke="#222" transform="rotate(-90 10.4 257.7)">Recall</text>
<rect x="147.80" y="200.00" width="57.20" height="30.80" fill="#fff" stroke="#ddd" stroke-width="0.6" rx="1.5" fill-opacity="0.85"/>
<rect x="149.80" y="202.50" width="11.50" height="4.10" fill="#1f77b4" stroke="none" stroke-width="0" rx="0"/>
<text x="163.80" y="206.90" font-size="6.1" text-anchor="start" font-weight="normal" fill="#222" stroke="#222">NG1+PRS; LR</text>
<rect x="149.80" y="210.20" width="11.50" height="4.10" fill="#ff7f0e" stroke="none" stroke-width="0" rx="0"/>
<text x="163.80" y="214.60" font-size="6.1" text-anchor="start" font-weight="normal" fill="#222" stroke="#222">NG1+PRS; NN</text>
<rect x="149.80" y="218.00" width="11.50" height="4.10" fill="#2ca02c" stroke="none" stroke-width="0" rx="0"/>
<text x="163.80" y="222.30" font-size="6.1" text-anchor="start" font-weight="normal" fill="#222" stroke="#222">NG2+PRS; LR</text>
<rect x="149.80" y="225.90" width="11.50" height="4.10" fill="#d62728" stroke="none" stroke-width="0" rx="0"/>
<text x="163.80" y="230.00" font-size="6.1" text-anchor="start" font-weight="normal" fill="#222" stroke="#222">NG2+PRS; NN</text>
<text x="214.50" y="188.60" font-size="11.5" text-anchor="start" font-weight="bold" fill="#111" stroke="#111">e)</text>
<defs><clipPath id="clipe"><rect x="245.5" y="197.5" width="175.10000000000002" height="121.69999999999999"/></clipPath></defs>
<g clip-path="url(#clipe)">
<polyline points="253.30,306.65 285.75,304.22 318.20,300.57 350.65,295.11 383.10,279.68 392.84,267.77 399.32,280.65 405.81,318.80 412.31,318.80" fill="none" stroke="#1f77b4" stroke-width="1.0" stroke-linejoin="round"/>
<line x1="253.30" y1="307.38" x2="253.30" y2="305.92" stroke="#1f77b4" stroke-width="1.0"/>
<circle cx="253.30" cy="306.65" r="1.9" fill="#1f77b4"/>
<line x1="285.75" y1="304.95" x2="285.75" y2="303.49" stroke="#1f77b4" stroke-width="1.0"/>
<circle cx="285.75" cy="304.22" r="1.9" fill="#1f77b4"/>
<line x1="318.20" y1="301.55" x2="318.20" y2="299.60" stroke="#1f77b4" stroke-width="1.0"/>
<circle cx="318.20" cy="300.57" r="1.9" fill="#1f77b4"/>
<line x1="350.65" y1="296.57" x2="350.65" y2="293.65" stroke="#1f77b4" stroke-width="1.0"/>
<circle cx="350.65" cy="295.11" r="1.9" fill="#1f77b4"/>
<line x1="383.10" y1="284.54" x2="383.10" y2="274.82" stroke="#1f77b4" stroke-width="1.0"/>
<circle cx="383.10" cy="279.68" r="1.9" fill="#1f77b4"/>
<line x1="392.84" y1="294.50" x2="392.84" y2="241.04" stroke="#1f77b4" stroke-width="1.0"/>
<circle cx="392.84" cy="267.77" r="1.9" fill="#1f77b4"/>
<line x1="399.32" y1="285.51" x2="399.32" y2="275.79" stroke="#1f77b4" stroke-width="1.0"/>
<circle cx="399.32" cy="280.65" r="1.9" fill="#1f77b4"/>
<circle cx="405.81" cy="318.80" r="1.9" fill="#1f77b4"/>
<circle cx="412.31" cy="318.80" r="1.9" fill="#1f77b4"/>
<polyline points="253.30,307.14 285.75,305.44 318.20,301.30 350.65,295.96 383.10,287.21 392.84,275.55 399.32,252.95 405.81,306.89 412.31,318.80" fill="none" stroke="#ff7f0e" stroke-width="1.0" stroke-linejoin="round"/>
<line x1="253.30" y1="307.87" x2="253.30" y2="306.41" stroke="#ff7f0e" stroke-width="1.0"/>
<circle cx="253.30" cy="307.14" r="1.9" fill="#ff7f0e"/>
<line x1="285.75" y1="306.16" x2="285.75" y2="304.71" stroke="#ff7f0e" stroke-width="1.0"/>
<circle cx="285.75" cy="305.44" r="1.9" fill="#ff7f0e"/>
<line x1="318.20" y1="302.28" x2="318.20" y2="300.33" stroke="#ff7f0e" stroke-width="1.0"/>
<circle cx="318.20" cy="301.30" r="1.9" fill="#ff7f0e"/>
<line x1="350.65" y1="297.42" x2="350.65" y2="294.50" stroke="#ff7f0e" stroke-width="1.0"/>
<circle cx="350.65" cy="295.96" r="1.9" fill="#ff7f0e"/>
<line x1="383.10" y1="294.50" x2="383.10" y2="279.92" stroke="#ff7f0e" stroke-width="1.0"/>
<circle cx="383.10" cy="287.21" r="1.9" fill="#ff7f0e"/>
<line x1="392.84" y1="307.14" x2="392.84" y2="243.96" stroke="#ff7f0e" stroke-width="1.0"/>
<circle cx="392.84" cy="275.55" r="1.9" fill="#ff7f0e"/>
<line x1="399.32" y1="398.75" x2="399.32" y2="107.15" stroke="#ff7f0e" stroke-width="1.0"/>
<circle cx="399.32" cy="252.95" r="1.9" fill="#ff7f0e"/>
<line x1="405.81" y1="319.04" x2="405.81" y2="294.74" stroke="#ff7f0e" stroke-width="1.0"/>
<circle cx="405.81" cy="306.89" r="1.9" fill="#ff7f0e"/>
<circle cx="412.31" cy="318.80" r="1.9" fill="#ff7f0e"/>
<polyline points="253.30,305.44 285.75,301.79 318.20,296.20 350.65,288.18 383.10,269.96 392.84,256.84 399.32,242.25 405.81,235.69 412.31,318.80" fill="none" stroke="#2ca02c" stroke-width="1.0" stroke-linejoin="round"/>
<line x1="253.30" y1="306.16" x2="253.30" y2="304.71" stroke="#2ca02c" stroke-width="1.0"/>
<circle cx="253.30" cy="305.44" r="1.9" fill="#2ca02c"/>
<line x1="285.75" y1="302.52" x2="285.75" y2="301.06" stroke="#2ca02c" stroke-width="1.0"/>
<circle cx="285.75" cy="301.79" r="1.9" fill="#2ca02c"/>
<line x1="318.20" y1="297.17" x2="318.20" y2="295.23" stroke="#2ca02c" stroke-width="1.0"/>
<circle cx="318.20" cy="296.20" r="1.9" fill="#2ca02c"/>
<line x1="350.65" y1="289.64" x2="350.65" y2="286.72" stroke="#2ca02c" stroke-width="1.0"/>
<circle cx="350.65" cy="288.18" r="1.9" fill="#2ca02c"/>
<line x1="383.10" y1="278.46" x2="383.10" y2="261.45" stroke="#2ca02c" stroke-width="1.0"/>
<circle cx="383.10" cy="269.96" r="1.9" fill="#2ca02c"/>
<line x1="392.84" y1="271.42" x2="392.84" y2="242.25" stroke="#2ca02c" stroke-width="1.0"/>
<circle cx="392.84" cy="256.84" r="1.9" fill="#2ca02c"/>
<line x1="399.32" y1="266.56" x2="399.32" y2="217.95" stroke="#2ca02c" stroke-width="1.0"/>
<circle cx="399.32" cy="242.25" r="1.9" fill="#2ca02c"/>
<line x1="405.81" y1="313.45" x2="405.81" y2="157.93" stroke="#2ca02c" stroke-width="1.0"/>
<circle cx="405.81" cy="235.69" r="1.9" fill="#2ca02c"/>
<circle cx="412.31" cy="318.80" r="1.9" fill="#2ca02c"/>
<polyline points="253.30,308.35 285.75,307.38 318.20,305.92 350.65,303.98 383.10,299.85 392.84,296.93 399.32,294.50 405.81,290.13 412.31,279.68" fill="none" stroke="#d62728" stroke-width="1.0" stroke-linejoin="round"/>
<line x1="253.30" y1="308.84" x2="253.30" y2="307.87" stroke="#d62728" stroke-width="1.0"/>
<circle cx="253.30" cy="308.35" r="1.9" fill="#d62728"/>
<line x1="285.75" y1="307.87" x2="285.75" y2="306.89" stroke="#d62728" stroke-width="1.0"/>
<circle cx="285.75" cy="307.38" r="1.9" fill="#d62728"/>
<line x1="318.20" y1="306.41" x2="318.20" y2="305.44" stroke="#d62728" stroke-width="1.0"/>
<circle cx="318.20" cy="305.92" r="1.9" fill="#d62728"/>
<line x1="350.65" y1="304.71" x2="350.65" y2="303.25" stroke="#d62728" stroke-width="1.0"/>
<circle cx="350.65" cy="303.98" r="1.9" fill="#d62728"/>
<line x1="383.10" y1="301.06" x2="383.10" y2="298.63" stroke="#d62728" stroke-width="1.0"/>
<circle cx="383.10" cy="299.85" r="1.9" fill="#d62728"/>
<line x1="392.84" y1="298.87" x2="392.84" y2="294.99" stroke="#d62728" stroke-width="1.0"/>
<circle cx="392.84" cy="296.93" r="1.9" fill="#d62728"/>
<line x1="399.32" y1="297.42" x2="399.32" y2="291.58" stroke="#d62728" stroke-width="1.0"/>
<circle cx="399.32" cy="294.50" r="1.9" fill="#d62728"/>
<line x1="405.81" y1="293.77" x2="405.81" y2="286.48" stroke="#d62728" stroke-width="1.0"/>
<circle cx="405.81" cy="290.13" r="1.9" fill="#d62728"/>
<line x1="412.31" y1="287.45" x2="412.31" y2="271.90" stroke="#d62728" stroke-width="1.0"/>
<circle cx="412.31" cy="279.68" r="1.9" fill="#d62728"/>
</g>
<line x1="245.50" y1="197.50" x2="245.50" y2="319.20" stroke="#444" stroke-width="0.8"/>
<line x1="420.60" y1="197.50" x2="420.60" y2="319.20" stroke="#444" stroke-width="0.8"/>
<line x1="245.50" y1="197.50" x2="420.60" y2="197.50" stroke="#444" stroke-width="0.8"/>
<line x1="245.50" y1="319.20" x2="420.60" y2="319.20" stroke="#444" stroke-width="0.8"/>
<line x1="243.00" y1="318.80" x2="245.50" y2="318.80" stroke="#444" stroke-width="0.8"/>
<text x="242.30" y="321.70" font-size="6.6" text-anchor="end" font-weight="normal" fill="#222" stroke="#222">0.0</text>
<line x1="243.00" y1="294.50" x2="245.50" y2="294.50" stroke="#444" stroke-width="0.8"/>
<text x="242.30" y="297.40" font-size="6.6" text-anchor="end" font-weight="normal" fill="#222" stroke="#222">0.1</text>
<line x1="243.00" y1="270.20" x2="245.50" y2="270.20" stroke="#444" stroke-width="0.8"/>
<text x="242.30" y="273.10" font-size="6.6" text-anchor="end" font-weight="normal" fill="#222" stroke="#222">0.2</text>
<line x1="243.00" y1="245.90" x2="245.50" y2="245.90" stroke="#444" stroke-width="0.8"/>
<text x="242.30" y="248.80" font-size="6.6" text-anchor="end" font-weight="normal" fill="#222" stroke="#222">0.3</text>
<line x1="243.00" y1="221.60" x2="245.50" y2="221.60" stroke="#444" stroke-width="0.8"/>
<text x="242.30" y="224.50" font-size="6.6" text-anchor="end" font-weight="normal" fill="#222" stroke="#222">0.4</text>
<line x1="243.00" y1="197.30" x2="245.50" y2="197.30" stroke="#444" stroke-width="0.8"/>
<text x="242.30" y="200.20" font-size="6.6" text-anchor="end" font-weight="normal" fill="#222" stroke="#222">0.5</text>
<line x1="253.30" y1="319.20" x2="253.30" y2="321.50" stroke="#444" stroke-width="0.8"/>
<text x="253.30" y="326.50" font-size="6.5" text-anchor="middle" font-weight="normal" fill="#222" stroke="#222">0.5</text>
<line x1="285.75" y1="319.20" x2="285.75" y2="321.50" stroke="#444" stroke-width="0.8"/>
<text x="285.75" y="326.50" font-size="6.5" text-anchor="middle" font-weight="normal" fill="#222" stroke="#222">0.6</text>
<line x1="318.20" y1="319.20" x2="318.20" y2="321.50" stroke="#444" stroke-width="0.8"/>
<text x="318.20" y="326.50" font-size="6.5" text-anchor="middle" font-weight="normal" fill="#222" stroke="#222">0.7</text>
<line x1="350.65" y1="319.20" x2="350.65" y2="321.50" stroke="#444" stroke-width="0.8"/>
<text x="350.65" y="326.50" font-size="6.5" text-anchor="middle" font-weight="normal" fill="#222" stroke="#222">0.8</text>
<line x1="383.10" y1="319.20" x2="383.10" y2="321.50" stroke="#444" stroke-width="0.8"/>
<text x="383.10" y="326.50" font-size="6.5" text-anchor="middle" font-weight="normal" fill="#222" stroke="#222">0.9</text>
<line x1="415.55" y1="319.20" x2="415.55" y2="321.50" stroke="#444" stroke-width="0.8"/>
<text x="415.55" y="326.50" font-size="6.5" text-anchor="middle" font-weight="normal" fill="#222" stroke="#222">1.0</text>
<text x="333.30" y="344.70" font-size="9.3" text-anchor="middle" font-weight="normal" fill="#222" stroke="#222">Class Decision Threshold</text>
<text x="221.90" y="258.20" font-size="9.3" text-anchor="middle" font-weight="normal" fill="#222" stroke="#222" transform="rotate(-90 221.9 258.2)">Precision</text>
<rect x="248.60" y="200.40" width="56.90" height="32.80" fill="#fff" stroke="#ddd" stroke-width="0.6" rx="1.5" fill-opacity="0.85"/>
<rect x="250.40" y="202.80" width="11.60" height="4.20" fill="#1f77b4" stroke="none" stroke-width="0" rx="0"/>
<text x="264.00" y="207.00" font-size="6.15" text-anchor="start" font-weight="normal" fill="#222" stroke="#222">NG1+PRS; LR</text>
<rect x="250.40" y="210.70" width="11.60" height="4.20" fill="#ff7f0e" stroke="none" stroke-width="0" rx="0"/>
<text x="264.00" y="214.90" font-size="6.15" text-anchor="start" font-weight="normal" fill="#222" stroke="#222">NG1+PRS; NN</text>
<rect x="250.40" y="218.50" width="11.60" height="4.20" fill="#2ca02c" stroke="none" stroke-width="0" rx="0"/>
<text x="264.00" y="222.70" font-size="6.15" text-anchor="start" font-weight="normal" fill="#222" stroke="#222">NG2+PRS; LR</text>
<rect x="250.40" y="226.30" width="11.60" height="4.20" fill="#d62728" stroke="none" stroke-width="0" rx="0"/>
<text x="264.00" y="230.50" font-size="6.15" text-anchor="start" font-weight="normal" fill="#222" stroke="#222">NG2+PRS; NN</text>
<text x="437.30" y="188.60" font-size="11.5" text-anchor="start" font-weight="bold" fill="#111" stroke="#111">f)</text>
<line x1="535.50" y1="193.80" x2="535.50" y2="333.40" stroke="#dcdcdc" stroke-width="0.8"/>
<line x1="555.70" y1="193.80" x2="555.70" y2="333.40" stroke="#dcdcdc" stroke-width="0.8"/>
<line x1="575.90" y1="193.80" x2="575.90" y2="333.40" stroke="#dcdcdc" stroke-width="0.8"/>
<line x1="596.10" y1="193.80" x2="596.10" y2="333.40" stroke="#dcdcdc" stroke-width="0.8"/>
<line x1="616.30" y1="193.80" x2="616.30" y2="333.40" stroke="#dcdcdc" stroke-width="0.8"/>
<path d="M529.04,203.90 L529.83,203.90 L530.62,203.90 L531.41,203.90 L532.19,203.90 L532.98,203.89 L533.77,203.89 L534.56,203.89 L535.35,203.89 L536.14,203.89 L536.93,203.89 L537.72,203.89 L538.51,203.89 L539.30,203.88 L540.09,203.88 L540.88,203.88 L541.67,203.88 L542.46,203.88 L543.25,203.88 L544.04,203.88 L544.83,203.88 L545.62,203.87 L546.41,203.87 L547.20,203.87 L547.99,203.87 L548.78,203.87 L549.57,203.87 L550.36,203.87 L551.15,203.87 L551.94,203.86 L552.73,203.86 L553.52,203.86 L554.31,203.86 L555.10,203.86 L555.88,203.86 L556.67,203.86 L557.46,203.85 L558.25,203.85 L559.04,203.85 L559.83,203.85 L560.62,203.85 L561.41,203.85 L562.20,203.85 L562.99,203.84 L563.78,203.84 L564.57,203.84 L565.36,203.84 L566.15,203.84 L566.94,203.84 L567.73,203.84 L568.52,203.84 L569.31,203.84 L570.10,203.84 L570.89,203.83 L571.68,203.83 L572.47,203.83 L573.26,203.83 L574.05,203.83 L574.84,203.83 L575.63,203.83 L576.42,203.82 L577.21,203.82 L578.00,203.82 L578.79,203.82 L579.57,203.82 L580.36,203.81 L581.15,203.81 L581.94,203.81 L582.73,203.80 L583.52,203.80 L584.31,203.79 L585.10,203.78 L585.89,203.77 L586.68,203.75 L587.47,203.72 L588.26,203.69 L589.05,203.66 L589.84,203.62 L590.63,203.58 L591.42,203.53 L592.21,203.48 L593.00,203.41 L593.79,203.33 L594.58,203.24 L595.37,203.12 L596.16,203.00 L596.95,202.86 L597.74,202.71 L598.53,202.55 L599.32,202.37 L600.11,202.18 L600.90,201.97 L601.69,201.73 L602.48,201.46 L603.26,201.15 L604.05,200.83 L604.84,200.50 L605.63,200.15 L606.42,199.80 L607.21,199.45 L608.00,199.08 L608.79,198.68 L609.58,198.27 L610.37,197.87 L611.16,197.55 L611.95,197.32 L612.74,197.23 L613.53,197.27 L614.32,197.40 L615.11,197.62 L615.90,197.92 L616.69,198.29 L617.48,198.78 L618.27,199.43 L619.06,200.22 L619.85,201.07 L620.64,201.87 L621.43,202.58 L622.22,203.17 L623.01,203.90 L623.01,204.50 L622.22,205.23 L621.43,205.82 L620.64,206.53 L619.85,207.33 L619.06,208.18 L618.27,208.97 L617.48,209.62 L616.69,210.11 L615.90,210.48 L615.11,210.78 L614.32,211.00 L613.53,211.13 L612.74,211.17 L611.95,211.08 L611.16,210.85 L610.37,210.53 L609.58,210.13 L608.79,209.72 L608.00,209.32 L607.21,208.95 L606.42,208.60 L605.63,208.25 L604.84,207.90 L604.05,207.57 L603.26,207.25 L602.48,206.94 L601.69,206.67 L600.90,206.43 L600.11,206.22 L599.32,206.03 L598.53,205.85 L597.74,205.69 L596.95,205.54 L596.16,205.40 L595.37,205.28 L594.58,205.16 L593.79,205.07 L593.00,204.99 L592.21,204.92 L591.42,204.87 L590.63,204.82 L589.84,204.78 L589.05,204.74 L588.26,204.71 L587.47,204.68 L586.68,204.65 L585.89,204.63 L585.10,204.62 L584.31,204.61 L583.52,204.60 L582.73,204.60 L581.94,204.59 L581.15,204.59 L580.36,204.59 L579.57,204.58 L578.79,204.58 L578.00,204.58 L577.21,204.58 L576.42,204.58 L575.63,204.57 L574.84,204.57 L574.05,204.57 L573.26,204.57 L572.47,204.57 L571.68,204.57 L570.89,204.57 L570.10,204.56 L569.31,204.56 L568.52,204.56 L567.73,204.56 L566.94,204.56 L566.15,204.56 L565.36,204.56 L564.57,204.56 L563.78,204.56 L562.99,204.56 L562.20,204.55 L561.41,204.55 L560.62,204.55 L559.83,204.55 L559.04,204.55 L558.25,204.55 L557.46,204.55 L556.67,204.54 L555.88,204.54 L555.10,204.54 L554.31,204.54 L553.52,204.54 L552.73,204.54 L551.94,204.54 L551.15,204.53 L550.36,204.53 L549.57,204.53 L548.78,204.53 L547.99,204.53 L547.20,204.53 L546.41,204.53 L545.62,204.53 L544.83,204.52 L544.04,204.52 L543.25,204.52 L542.46,204.52 L541.67,204.52 L540.88,204.52 L540.09,204.52 L539.30,204.52 L538.51,204.51 L537.72,204.51 L536.93,204.51 L536.14,204.51 L535.35,204.51 L534.56,204.51 L533.77,204.51 L532.98,204.51 L532.19,204.50 L531.41,204.50 L530.62,204.50 L529.83,204.50 L529.04,204.50Z" fill="#de6b6c" stroke="#333" stroke-width="0.85"/>
<line x1="529.04" y1="204.20" x2="620.34" y2="204.20" stroke="#333" stroke-width="0.8"/>
<line x1="589.64" y1="204.20" x2="614.68" y2="204.20" stroke="#333" stroke-width="2.1"/>
<circle cx="606.60" cy="204.20" r="0.65" fill="#fff"/>
<path d="M530.81,217.70 L531.57,217.02 L532.32,216.55 L533.07,216.04 L533.82,215.55 L534.58,215.08 L535.33,214.69 L536.08,214.42 L536.83,214.33 L537.58,214.43 L538.34,214.68 L539.09,215.00 L539.84,215.35 L540.59,215.68 L541.35,215.98 L542.10,216.24 L542.85,216.43 L543.60,216.54 L544.36,216.60 L545.11,216.62 L545.86,216.63 L546.61,216.64 L547.36,216.65 L548.12,216.66 L548.87,216.66 L549.62,216.67 L550.37,216.67 L551.13,216.68 L551.88,216.68 L552.63,216.69 L553.38,216.69 L554.14,216.69 L554.89,216.69 L555.64,216.70 L556.39,216.70 L557.14,216.70 L557.90,216.70 L558.65,216.70 L559.40,216.70 L560.15,216.70 L560.91,216.70 L561.66,216.70 L562.41,216.70 L563.16,216.70 L563.92,216.70 L564.67,216.70 L565.42,216.70 L566.17,216.70 L566.93,216.70 L567.68,216.70 L568.43,216.70 L569.18,216.70 L569.93,216.70 L570.69,216.70 L571.44,216.70 L572.19,216.70 L572.94,216.70 L573.70,216.70 L574.45,216.70 L575.20,216.70 L575.95,216.70 L576.71,216.70 L577.46,216.70 L578.21,216.70 L578.96,216.70 L579.71,216.70 L580.47,216.70 L581.22,216.70 L581.97,216.70 L582.72,216.70 L583.48,216.70 L584.23,216.70 L584.98,216.70 L585.73,216.70 L586.49,216.69 L587.24,216.69 L587.99,216.69 L588.74,216.68 L589.49,216.68 L590.25,216.67 L591.00,216.66 L591.75,216.65 L592.50,216.64 L593.26,216.63 L594.01,216.62 L594.76,216.61 L595.51,216.60 L596.27,216.58 L597.02,216.57 L597.77,216.55 L598.52,216.54 L599.27,216.52 L600.03,216.49 L600.78,216.45 L601.53,216.38 L602.28,216.30 L603.04,216.20 L603.79,216.08 L604.54,215.95 L605.29,215.83 L606.05,215.70 L606.80,215.59 L607.55,215.49 L608.30,215.40 L609.06,215.32 L609.81,215.25 L610.56,215.18 L611.31,215.12 L612.06,215.07 L612.82,215.04 L613.57,215.06 L614.32,215.12 L615.07,215.26 L615.83,215.45 L616.58,215.70 L617.33,216.00 L618.08,216.34 L618.84,216.72 L619.59,217.11 L620.34,217.70 L620.34,218.30 L619.59,218.89 L618.84,219.28 L618.08,219.66 L617.33,220.00 L616.58,220.30 L615.83,220.55 L615.07,220.74 L614.32,220.88 L613.57,220.94 L612.82,220.96 L612.06,220.93 L611.31,220.88 L610.56,220.82 L609.81,220.75 L609.06,220.68 L608.30,220.60 L607.55,220.51 L606.80,220.41 L606.05,220.30 L605.29,220.17 L604.54,220.05 L603.79,219.92 L603.04,219.80 L602.28,219.70 L601.53,219.62 L600.78,219.55 L600.03,219.51 L599.27,219.48 L598.52,219.46 L597.77,219.45 L597.02,219.43 L596.27,219.42 L595.51,219.40 L594.76,219.39 L594.01,219.38 L593.26,219.37 L592.50,219.36 L591.75,219.35 L591.00,219.34 L590.25,219.33 L589.49,219.32 L588.74,219.32 L587.99,219.31 L587.24,219.31 L586.49,219.31 L585.73,219.30 L584.98,219.30 L584.23,219.30 L583.48,219.30 L582.72,219.30 L581.97,219.30 L581.22,219.30 L580.47,219.30 L579.71,219.30 L578.96,219.30 L578.21,219.30 L577.46,219.30 L576.71,219.30 L575.95,219.30 L575.20,219.30 L574.45,219.30 L573.70,219.30 L572.94,219.30 L572.19,219.30 L571.44,219.30 L570.69,219.30 L569.93,219.30 L569.18,219.30 L568.43,219.30 L567.68,219.30 L566.93,219.30 L566.17,219.30 L565.42,219.30 L564.67,219.30 L563.92,219.30 L563.16,219.30 L562.41,219.30 L561.66,219.30 L560.91,219.30 L560.15,219.30 L559.40,219.30 L558.65,219.30 L557.90,219.30 L557.14,219.30 L556.39,219.30 L555.64,219.30 L554.89,219.31 L554.14,219.31 L553.38,219.31 L552.63,219.31 L551.88,219.32 L551.13,219.32 L550.37,219.33 L549.62,219.33 L548.87,219.34 L548.12,219.34 L547.36,219.35 L546.61,219.36 L545.86,219.37 L545.11,219.38 L544.36,219.40 L543.60,219.46 L542.85,219.57 L542.10,219.76 L541.35,220.02 L540.59,220.32 L539.84,220.65 L539.09,221.00 L538.34,221.32 L537.58,221.57 L536.83,221.67 L536.08,221.58 L535.33,221.31 L534.58,220.92 L533.82,220.45 L533.07,219.96 L532.32,219.45 L531.57,218.98 L530.81,218.30Z" fill="#8b3a7f" stroke="#333" stroke-width="0.85"/>
<line x1="530.81" y1="218.00" x2="620.34" y2="218.00" stroke="#333" stroke-width="0.8"/>
<line x1="547.22" y1="218.00" x2="601.76" y2="218.00" stroke="#333" stroke-width="2.1"/>
<circle cx="571.05" cy="218.00" r="0.65" fill="#fff"/>
<path d="M530.81,238.70 L531.56,238.69 L532.30,238.67 L533.05,238.66 L533.80,238.64 L534.54,238.62 L535.29,238.60 L536.03,238.58 L536.78,238.56 L537.52,238.54 L538.27,238.51 L539.01,238.48 L539.76,238.46 L540.51,238.43 L541.25,238.40 L542.00,238.37 L542.74,238.34 L543.49,238.30 L544.23,238.27 L544.98,238.23 L545.72,238.20 L546.47,238.16 L547.22,238.11 L547.96,238.07 L548.71,238.02 L549.45,237.98 L550.20,237.93 L550.94,237.87 L551.69,237.82 L552.43,237.76 L553.18,237.71 L553.93,237.65 L554.67,237.58 L555.42,237.52 L556.16,237.46 L556.91,237.39 L557.65,237.32 L558.40,237.25 L559.14,237.18 L559.89,237.11 L560.63,237.04 L561.38,236.96 L562.13,236.88 L562.87,236.79 L563.62,236.70 L564.36,236.60 L565.11,236.50 L565.85,236.39 L566.60,236.28 L567.34,236.17 L568.09,236.05 L568.84,235.93 L569.58,235.81 L570.33,235.69 L571.07,235.57 L571.82,235.45 L572.56,235.33 L573.31,235.21 L574.05,235.09 L574.80,234.97 L575.55,234.85 L576.29,234.72 L577.04,234.59 L577.78,234.46 L578.53,234.33 L579.27,234.20 L580.02,234.07 L580.76,233.94 L581.51,233.81 L582.26,233.69 L583.00,233.57 L583.75,233.46 L584.49,233.35 L585.24,233.25 L585.98,233.15 L586.73,233.06 L587.47,232.96 L588.22,232.87 L588.97,232.77 L589.71,232.68 L590.46,232.59 L591.20,232.51 L591.95,232.43 L592.69,232.36 L593.44,232.31 L594.18,232.26 L594.93,232.24 L595.67,232.24 L596.42,232.27 L597.17,232.36 L597.91,232.50 L598.66,232.70 L599.40,232.94 L600.15,233.22 L600.89,233.53 L601.64,233.86 L602.38,234.20 L603.13,234.54 L603.88,234.88 L604.62,235.25 L605.37,235.65 L606.11,236.07 L606.86,236.51 L607.60,236.92 L608.35,237.28 L609.09,237.56 L609.84,237.77 L610.59,237.93 L611.33,238.05 L612.08,238.15 L612.82,238.25 L613.57,238.34 L614.31,238.42 L615.06,238.49 L615.80,238.55 L616.55,238.60 L617.30,238.64 L618.04,238.67 L618.79,238.68 L619.53,238.70 L619.53,239.30 L618.79,239.32 L618.04,239.33 L617.30,239.36 L616.55,239.40 L615.80,239.45 L615.06,239.51 L614.31,239.58 L613.57,239.66 L612.82,239.75 L612.08,239.85 L611.33,239.95 L610.59,240.07 L609.84,240.23 L609.09,240.44 L608.35,240.72 L607.60,241.08 L606.86,241.49 L606.11,241.93 L605.37,242.35 L604.62,242.75 L603.88,243.12 L603.13,243.46 L602.38,243.80 L601.64,244.14 L600.89,244.47 L600.15,244.78 L599.40,245.06 L598.66,245.30 L597.91,245.50 L597.17,245.64 L596.42,245.73 L595.67,245.76 L594.93,245.76 L594.18,245.74 L593.44,245.69 L592.69,245.64 L591.95,245.57 L591.20,245.49 L590.46,245.41 L589.71,245.32 L588.97,245.23 L588.22,245.13 L587.47,245.04 L586.73,244.94 L585.98,244.85 L585.24,244.75 L584.49,244.65 L583.75,244.54 L583.00,244.43 L582.26,244.31 L581.51,244.19 L580.76,244.06 L580.02,243.93 L579.27,243.80 L578.53,243.67 L577.78,243.54 L577.04,243.41 L576.29,243.28 L575.55,243.15 L574.80,243.03 L574.05,242.91 L573.31,242.79 L572.56,242.67 L571.82,242.55 L571.07,242.43 L570.33,242.31 L569.58,242.19 L568.84,242.07 L568.09,241.95 L567.34,241.83 L566.60,241.72 L565.85,241.61 L565.11,241.50 L564.36,241.40 L563.62,241.30 L562.87,241.21 L562.13,241.12 L561.38,241.04 L560.63,240.96 L559.89,240.89 L559.14,240.82 L558.40,240.75 L557.65,240.68 L556.91,240.61 L556.16,240.54 L555.42,240.48 L554.67,240.42 L553.93,240.35 L553.18,240.29 L552.43,240.24 L551.69,240.18 L550.94,240.13 L550.20,240.07 L549.45,240.02 L548.71,239.98 L547.96,239.93 L547.22,239.89 L546.47,239.84 L545.72,239.80 L544.98,239.77 L544.23,239.73 L543.49,239.70 L542.74,239.66 L542.00,239.63 L541.25,239.60 L540.51,239.57 L539.76,239.54 L539.01,239.52 L538.27,239.49 L537.52,239.46 L536.78,239.44 L536.03,239.42 L535.29,239.40 L534.54,239.38 L533.80,239.36 L533.05,239.34 L532.30,239.33 L531.56,239.31 L530.81,239.30Z" fill="#de6b6c" stroke="#333" stroke-width="0.85"/>
<line x1="530.81" y1="239.00" x2="619.53" y2="239.00" stroke="#333" stroke-width="0.8"/>
<line x1="574.28" y1="239.00" x2="596.91" y2="239.00" stroke="#333" stroke-width="2.1"/>
<circle cx="586.40" cy="239.00" r="0.65" fill="#fff"/>
<path d="M532.67,252.70 L533.38,251.58 L534.10,250.87 L534.81,250.24 L535.52,249.79 L536.24,249.51 L536.95,249.34 L537.66,249.22 L538.38,249.14 L539.09,249.08 L539.80,249.03 L540.51,249.00 L541.23,248.99 L541.94,248.97 L542.65,248.96 L543.37,248.95 L544.08,248.93 L544.79,248.92 L545.50,248.91 L546.22,248.90 L546.93,248.89 L547.64,248.89 L548.36,248.88 L549.07,248.87 L549.78,248.86 L550.50,248.86 L551.21,248.85 L551.92,248.84 L552.63,248.84 L553.35,248.83 L554.06,248.83 L554.77,248.82 L555.49,248.82 L556.20,248.82 L556.91,248.81 L557.62,248.81 L558.34,248.81 L559.05,248.81 L559.76,248.80 L560.48,248.80 L561.19,248.80 L561.90,248.80 L562.62,248.80 L563.33,248.80 L564.04,248.80 L564.75,248.80 L565.47,248.80 L566.18,248.81 L566.89,248.81 L567.61,248.81 L568.32,248.82 L569.03,248.82 L569.74,248.83 L570.46,248.84 L571.17,248.84 L571.88,248.85 L572.60,248.86 L573.31,248.87 L574.02,248.88 L574.74,248.89 L575.45,248.90 L576.16,248.92 L576.87,248.93 L577.59,248.94 L578.30,248.96 L579.01,248.97 L579.73,248.98 L580.44,249.00 L581.15,249.02 L581.86,249.05 L582.58,249.08 L583.29,249.12 L584.00,249.16 L584.72,249.21 L585.43,249.26 L586.14,249.32 L586.86,249.38 L587.57,249.45 L588.28,249.52 L588.99,249.59 L589.71,249.66 L590.42,249.74 L591.13,249.82 L591.85,249.90 L592.56,249.99 L593.27,250.07 L593.98,250.16 L594.70,250.24 L595.41,250.33 L596.12,250.42 L596.84,250.52 L597.55,250.63 L598.26,250.75 L598.98,250.87 L599.69,251.00 L600.40,251.14 L601.11,251.27 L601.83,251.41 L602.54,251.54 L603.25,251.66 L603.97,251.77 L604.68,251.86 L605.39,251.95 L606.10,252.02 L606.82,252.09 L607.53,252.15 L608.24,252.21 L608.96,252.27 L609.67,252.33 L610.38,252.38 L611.10,252.43 L611.81,252.48 L612.52,252.53 L613.23,252.57 L613.95,252.60 L614.66,252.63 L615.37,252.66 L616.09,252.68 L616.80,252.69 L617.51,252.70 L617.51,253.30 L616.80,253.31 L616.09,253.32 L615.37,253.34 L614.66,253.37 L613.95,253.40 L613.23,253.43 L612.52,253.47 L611.81,253.52 L611.10,253.57 L610.38,253.62 L609.67,253.67 L608.96,253.73 L608.24,253.79 L607.53,253.85 L606.82,253.91 L606.10,253.98 L605.39,254.05 L604.68,254.14 L603.97,254.23 L603.25,254.34 L602.54,254.46 L601.83,254.59 L601.11,254.73 L600.40,254.86 L599.69,255.00 L598.98,255.13 L598.26,255.25 L597.55,255.37 L596.84,255.48 L596.12,255.58 L595.41,255.67 L594.70,255.76 L593.98,255.84 L593.27,255.93 L592.56,256.01 L591.85,256.10 L591.13,256.18 L590.42,256.26 L589.71,256.34 L588.99,256.41 L588.28,256.48 L587.57,256.55 L586.86,256.62 L586.14,256.68 L585.43,256.74 L584.72,256.79 L584.00,256.84 L583.29,256.88 L582.58,256.92 L581.86,256.95 L581.15,256.98 L580.44,257.00 L579.73,257.02 L579.01,257.03 L578.30,257.04 L577.59,257.06 L576.87,257.07 L576.16,257.08 L575.45,257.10 L574.74,257.11 L574.02,257.12 L573.31,257.13 L572.60,257.14 L571.88,257.15 L571.17,257.16 L570.46,257.16 L569.74,257.17 L569.03,257.18 L568.32,257.18 L567.61,257.19 L566.89,257.19 L566.18,257.19 L565.47,257.20 L564.75,257.20 L564.04,257.20 L563.33,257.20 L562.62,257.20 L561.90,257.20 L561.19,257.20 L560.48,257.20 L559.76,257.20 L559.05,257.19 L558.34,257.19 L557.62,257.19 L556.91,257.19 L556.20,257.18 L555.49,257.18 L554.77,257.18 L554.06,257.17 L553.35,257.17 L552.63,257.16 L551.92,257.16 L551.21,257.15 L550.50,257.14 L549.78,257.14 L549.07,257.13 L548.36,257.12 L547.64,257.11 L546.93,257.11 L546.22,257.10 L545.50,257.09 L544.79,257.08 L544.08,257.07 L543.37,257.05 L542.65,257.04 L541.94,257.03 L541.23,257.01 L540.51,257.00 L539.80,256.97 L539.09,256.92 L538.38,256.86 L537.66,256.78 L536.95,256.66 L536.24,256.49 L535.52,256.21 L534.81,255.76 L534.10,255.13 L533.38,254.42 L532.67,253.30Z" fill="#8b3a7f" stroke="#333" stroke-width="0.85"/>
<line x1="532.67" y1="253.00" x2="617.51" y2="253.00" stroke="#333" stroke-width="0.8"/>
<line x1="554.08" y1="253.00" x2="585.60" y2="253.00" stroke="#333" stroke-width="2.1"/>
<circle cx="571.05" cy="253.00" r="0.65" fill="#fff"/>
<path d="M534.69,273.70 L535.40,273.70 L536.12,273.69 L536.83,273.69 L537.54,273.68 L538.26,273.67 L538.97,273.66 L539.68,273.64 L540.40,273.63 L541.11,273.61 L541.82,273.59 L542.53,273.57 L543.25,273.55 L543.96,273.53 L544.67,273.50 L545.39,273.47 L546.10,273.45 L546.81,273.42 L547.52,273.38 L548.24,273.33 L548.95,273.26 L549.66,273.19 L550.38,273.09 L551.09,272.98 L551.80,272.87 L552.52,272.74 L553.23,272.60 L553.94,272.46 L554.65,272.31 L555.37,272.16 L556.08,272.00 L556.79,271.85 L557.51,271.69 L558.22,271.54 L558.93,271.40 L559.64,271.26 L560.36,271.12 L561.07,271.00 L561.78,270.87 L562.50,270.75 L563.21,270.63 L563.92,270.50 L564.64,270.38 L565.35,270.25 L566.06,270.13 L566.77,270.01 L567.49,269.88 L568.20,269.76 L568.91,269.64 L569.63,269.52 L570.34,269.40 L571.05,269.29 L571.76,269.17 L572.48,269.07 L573.19,268.96 L573.90,268.86 L574.62,268.76 L575.33,268.67 L576.04,268.58 L576.76,268.50 L577.47,268.41 L578.18,268.33 L578.89,268.25 L579.61,268.16 L580.32,268.08 L581.03,267.99 L581.75,267.91 L582.46,267.83 L583.17,267.75 L583.88,267.67 L584.60,267.59 L585.31,267.52 L586.02,267.45 L586.74,267.38 L587.45,267.32 L588.16,267.26 L588.88,267.21 L589.59,267.16 L590.30,267.12 L591.01,267.08 L591.73,267.05 L592.44,267.03 L593.15,267.02 L593.87,267.02 L594.58,267.03 L595.29,267.07 L596.00,267.14 L596.72,267.23 L597.43,267.34 L598.14,267.48 L598.86,267.63 L599.57,267.81 L600.28,268.00 L601.00,268.21 L601.71,268.43 L602.42,268.65 L603.13,268.89 L603.85,269.13 L604.56,269.38 L605.27,269.62 L605.99,269.87 L606.70,270.12 L607.41,270.38 L608.12,270.65 L608.84,270.95 L609.55,271.27 L610.26,271.62 L610.98,271.96 L611.69,272.29 L612.40,272.58 L613.12,272.81 L613.83,273.00 L614.54,273.15 L615.25,273.28 L615.97,273.39 L616.68,273.48 L617.39,273.56 L618.11,273.62 L618.82,273.66 L619.53,273.70 L619.53,274.30 L618.82,274.34 L618.11,274.38 L617.39,274.44 L616.68,274.52 L615.97,274.61 L615.25,274.72 L614.54,274.85 L613.83,275.00 L613.12,275.19 L612.40,275.42 L611.69,275.71 L610.98,276.04 L610.26,276.38 L609.55,276.73 L608.84,277.05 L608.12,277.35 L607.41,277.62 L606.70,277.88 L605.99,278.13 L605.27,278.38 L604.56,278.62 L603.85,278.87 L603.13,279.11 L602.42,279.35 L601.71,279.57 L601.00,279.79 L600.28,280.00 L599.57,280.19 L598.86,280.37 L598.14,280.52 L597.43,280.66 L596.72,280.77 L596.00,280.86 L595.29,280.93 L594.58,280.97 L593.87,280.98 L593.15,280.98 L592.44,280.97 L591.73,280.95 L591.01,280.92 L590.30,280.88 L589.59,280.84 L588.88,280.79 L588.16,280.74 L587.45,280.68 L586.74,280.62 L586.02,280.55 L585.31,280.48 L584.60,280.41 L583.88,280.33 L583.17,280.25 L582.46,280.17 L581.75,280.09 L581.03,280.01 L580.32,279.92 L579.61,279.84 L578.89,279.75 L578.18,279.67 L577.47,279.59 L576.76,279.50 L576.04,279.42 L575.33,279.33 L574.62,279.24 L573.90,279.14 L573.19,279.04 L572.48,278.93 L571.76,278.83 L571.05,278.71 L570.34,278.60 L569.63,278.48 L568.91,278.36 L568.20,278.24 L567.49,278.12 L566.77,277.99 L566.06,277.87 L565.35,277.75 L564.64,277.62 L563.92,277.50 L563.21,277.37 L562.50,277.25 L561.78,277.13 L561.07,277.00 L560.36,276.88 L559.64,276.74 L558.93,276.60 L558.22,276.46 L557.51,276.31 L556.79,276.15 L556.08,276.00 L555.37,275.84 L554.65,275.69 L553.94,275.54 L553.23,275.40 L552.52,275.26 L551.80,275.13 L551.09,275.02 L550.38,274.91 L549.66,274.81 L548.95,274.74 L548.24,274.67 L547.52,274.62 L546.81,274.58 L546.10,274.55 L545.39,274.53 L544.67,274.50 L543.96,274.47 L543.25,274.45 L542.53,274.43 L541.82,274.41 L541.11,274.39 L540.40,274.37 L539.68,274.36 L538.97,274.34 L538.26,274.33 L537.54,274.32 L536.83,274.31 L536.12,274.31 L535.40,274.30 L534.69,274.30Z" fill="#de6b6c" stroke="#333" stroke-width="0.85"/>
<line x1="534.69" y1="274.00" x2="619.53" y2="274.00" stroke="#333" stroke-width="0.8"/>
<line x1="572.67" y1="274.00" x2="596.91" y2="274.00" stroke="#333" stroke-width="2.1"/>
<circle cx="585.60" cy="274.00" r="0.65" fill="#fff"/>
<path d="M534.69,287.60 L535.39,286.99 L536.08,286.56 L536.78,286.09 L537.48,285.65 L538.17,285.24 L538.87,284.86 L539.56,284.50 L540.26,284.17 L540.96,283.85 L541.65,283.55 L542.35,283.27 L543.04,283.02 L543.74,282.80 L544.44,282.60 L545.13,282.43 L545.83,282.29 L546.52,282.16 L547.22,282.03 L547.92,281.91 L548.61,281.80 L549.31,281.69 L550.00,281.59 L550.70,281.50 L551.40,281.43 L552.09,281.36 L552.79,281.30 L553.48,281.26 L554.18,281.23 L554.88,281.21 L555.57,281.21 L556.27,281.21 L556.96,281.23 L557.66,281.24 L558.35,281.27 L559.05,281.30 L559.75,281.33 L560.44,281.37 L561.14,281.41 L561.83,281.45 L562.53,281.50 L563.23,281.55 L563.92,281.61 L564.62,281.67 L565.31,281.73 L566.01,281.80 L566.71,281.86 L567.40,281.93 L568.10,282.00 L568.79,282.07 L569.49,282.14 L570.19,282.22 L570.88,282.29 L571.58,282.36 L572.27,282.44 L572.97,282.51 L573.67,282.59 L574.36,282.66 L575.06,282.73 L575.75,282.80 L576.45,282.87 L577.15,282.94 L577.84,283.02 L578.54,283.09 L579.23,283.17 L579.93,283.24 L580.63,283.32 L581.32,283.40 L582.02,283.49 L582.71,283.57 L583.41,283.66 L584.11,283.75 L584.80,283.83 L585.50,283.93 L586.19,284.02 L586.89,284.11 L587.59,284.20 L588.28,284.30 L588.98,284.39 L589.67,284.49 L590.37,284.59 L591.07,284.69 L591.76,284.78 L592.46,284.88 L593.15,284.98 L593.85,285.08 L594.55,285.18 L595.24,285.28 L595.94,285.38 L596.63,285.48 L597.33,285.59 L598.02,285.71 L598.72,285.83 L599.42,285.95 L600.11,286.07 L600.81,286.19 L601.50,286.31 L602.20,286.42 L602.90,286.53 L603.59,286.63 L604.29,286.73 L604.98,286.81 L605.68,286.88 L606.38,286.95 L607.07,287.01 L607.77,287.07 L608.46,287.13 L609.16,287.18 L609.86,287.24 L610.55,287.29 L611.25,287.34 L611.94,287.38 L612.64,287.42 L613.34,287.46 L614.03,287.50 L614.73,287.53 L615.42,287.55 L616.12,287.57 L616.82,287.59 L617.51,287.60 L617.51,288.20 L616.82,288.21 L616.12,288.23 L615.42,288.25 L614.73,288.27 L614.03,288.30 L613.34,288.34 L612.64,288.38 L611.94,288.42 L611.25,288.46 L610.55,288.51 L609.86,288.56 L609.16,288.62 L608.46,288.67 L607.77,288.73 L607.07,288.79 L606.38,288.85 L605.68,288.92 L604.98,288.99 L604.29,289.07 L603.59,289.17 L602.90,289.27 L602.20,289.38 L601.50,289.49 L600.81,289.61 L600.11,289.73 L599.42,289.85 L598.72,289.97 L598.02,290.09 L597.33,290.21 L596.63,290.32 L595.94,290.42 L595.24,290.52 L594.55,290.62 L593.85,290.72 L593.15,290.82 L592.46,290.92 L591.76,291.02 L591.07,291.11 L590.37,291.21 L589.67,291.31 L588.98,291.41 L588.28,291.50 L587.59,291.60 L586.89,291.69 L586.19,291.78 L585.50,291.87 L584.80,291.97 L584.11,292.05 L583.41,292.14 L582.71,292.23 L582.02,292.31 L581.32,292.40 L580.63,292.48 L579.93,292.56 L579.23,292.63 L578.54,292.71 L577.84,292.78 L577.15,292.86 L576.45,292.93 L575.75,293.00 L575.06,293.07 L574.36,293.14 L573.67,293.21 L572.97,293.29 L572.27,293.36 L571.58,293.44 L570.88,293.51 L570.19,293.58 L569.49,293.66 L568.79,293.73 L568.10,293.80 L567.40,293.87 L566.71,293.94 L566.01,294.00 L565.31,294.07 L564.62,294.13 L563.92,294.19 L563.23,294.25 L562.53,294.30 L561.83,294.35 L561.14,294.39 L560.44,294.43 L559.75,294.47 L559.05,294.50 L558.35,294.53 L557.66,294.56 L556.96,294.57 L556.27,294.59 L555.57,294.59 L554.88,294.59 L554.18,294.57 L553.48,294.54 L552.79,294.50 L552.09,294.44 L551.40,294.37 L550.70,294.30 L550.00,294.21 L549.31,294.11 L548.61,294.00 L547.92,293.89 L547.22,293.77 L546.52,293.64 L545.83,293.51 L545.13,293.37 L544.44,293.20 L543.74,293.00 L543.04,292.78 L542.35,292.53 L541.65,292.25 L540.96,291.95 L540.26,291.63 L539.56,291.30 L538.87,290.94 L538.17,290.56 L537.48,290.15 L536.78,289.71 L536.08,289.24 L535.39,288.81 L534.69,288.20Z" fill="#8b3a7f" stroke="#333" stroke-width="0.85"/>
<line x1="534.69" y1="287.90" x2="617.51" y2="287.90" stroke="#333" stroke-width="0.8"/>
<line x1="554.08" y1="287.90" x2="579.94" y2="287.90" stroke="#333" stroke-width="2.1"/>
<circle cx="566.20" cy="287.90" r="0.65" fill="#fff"/>
<path d="M535.50,308.50 L536.19,308.49 L536.88,308.49 L537.57,308.48 L538.26,308.47 L538.95,308.45 L539.64,308.43 L540.32,308.41 L541.01,308.38 L541.70,308.36 L542.39,308.33 L543.08,308.29 L543.77,308.26 L544.46,308.22 L545.15,308.18 L545.84,308.14 L546.53,308.10 L547.22,308.05 L547.91,308.01 L548.59,307.96 L549.28,307.91 L549.97,307.86 L550.66,307.81 L551.35,307.75 L552.04,307.69 L552.73,307.61 L553.42,307.52 L554.11,307.43 L554.80,307.33 L555.49,307.22 L556.18,307.10 L556.86,306.98 L557.55,306.85 L558.24,306.72 L558.93,306.59 L559.62,306.46 L560.31,306.32 L561.00,306.18 L561.69,306.05 L562.38,305.91 L563.07,305.78 L563.76,305.64 L564.45,305.49 L565.13,305.34 L565.82,305.17 L566.51,305.01 L567.20,304.84 L567.89,304.67 L568.58,304.50 L569.27,304.33 L569.96,304.17 L570.65,304.01 L571.34,303.86 L572.03,303.71 L572.72,303.58 L573.40,303.45 L574.09,303.34 L574.78,303.23 L575.47,303.12 L576.16,303.02 L576.85,302.92 L577.54,302.82 L578.23,302.72 L578.92,302.62 L579.61,302.53 L580.30,302.44 L580.99,302.36 L581.67,302.28 L582.36,302.22 L583.05,302.16 L583.74,302.10 L584.43,302.06 L585.12,302.03 L585.81,302.02 L586.50,302.01 L587.19,302.01 L587.88,302.03 L588.57,302.05 L589.26,302.08 L589.94,302.11 L590.63,302.15 L591.32,302.20 L592.01,302.26 L592.70,302.32 L593.39,302.39 L594.08,302.46 L594.77,302.54 L595.46,302.63 L596.15,302.71 L596.84,302.81 L597.53,302.90 L598.22,303.00 L598.90,303.11 L599.59,303.23 L600.28,303.36 L600.97,303.52 L601.66,303.73 L602.35,303.97 L603.04,304.24 L603.73,304.54 L604.42,304.85 L605.11,305.16 L605.80,305.47 L606.49,305.77 L607.17,306.04 L607.86,306.30 L608.55,306.54 L609.24,306.78 L609.93,307.00 L610.62,307.22 L611.31,307.43 L612.00,307.61 L612.69,307.78 L613.38,307.93 L614.07,308.06 L614.76,308.17 L615.44,308.27 L616.13,308.36 L616.82,308.42 L617.51,308.50 L617.51,309.10 L616.82,309.18 L616.13,309.24 L615.44,309.33 L614.76,309.43 L614.07,309.54 L613.38,309.67 L612.69,309.82 L612.00,309.99 L611.31,310.17 L610.62,310.38 L609.93,310.60 L609.24,310.82 L608.55,311.06 L607.86,311.30 L607.17,311.56 L606.49,311.83 L605.80,312.13 L605.11,312.44 L604.42,312.75 L603.73,313.06 L603.04,313.36 L602.35,313.63 L601.66,313.87 L600.97,314.08 L600.28,314.24 L599.59,314.37 L598.90,314.49 L598.22,314.60 L597.53,314.70 L596.84,314.79 L596.15,314.89 L595.46,314.97 L594.77,315.06 L594.08,315.14 L593.39,315.21 L592.70,315.28 L592.01,315.34 L591.32,315.40 L590.63,315.45 L589.94,315.49 L589.26,315.52 L588.57,315.55 L587.88,315.57 L587.19,315.59 L586.50,315.59 L585.81,315.58 L585.12,315.57 L584.43,315.54 L583.74,315.50 L583.05,315.44 L582.36,315.38 L581.67,315.32 L580.99,315.24 L580.30,315.16 L579.61,315.07 L578.92,314.98 L578.23,314.88 L577.54,314.78 L576.85,314.68 L576.16,314.58 L575.47,314.48 L574.78,314.37 L574.09,314.26 L573.40,314.15 L572.72,314.02 L572.03,313.89 L571.34,313.74 L570.65,313.59 L569.96,313.43 L569.27,313.27 L568.58,313.10 L567.89,312.93 L567.20,312.76 L566.51,312.59 L565.82,312.43 L565.13,312.26 L564.45,312.11 L563.76,311.96 L563.07,311.82 L562.38,311.69 L561.69,311.55 L561.00,311.42 L560.31,311.28 L559.62,311.14 L558.93,311.01 L558.24,310.88 L557.55,310.75 L556.86,310.62 L556.18,310.50 L555.49,310.38 L554.80,310.27 L554.11,310.17 L553.42,310.08 L552.73,309.99 L552.04,309.91 L551.35,309.85 L550.66,309.79 L549.97,309.74 L549.28,309.69 L548.59,309.64 L547.91,309.59 L547.22,309.55 L546.53,309.50 L545.84,309.46 L545.15,309.42 L544.46,309.38 L543.77,309.34 L543.08,309.31 L542.39,309.27 L541.70,309.24 L541.01,309.22 L540.32,309.19 L539.64,309.17 L538.95,309.15 L538.26,309.13 L537.57,309.12 L536.88,309.11 L536.19,309.11 L535.50,309.10Z" fill="#de6b6c" stroke="#333" stroke-width="0.85"/>
<line x1="535.50" y1="308.80" x2="617.51" y2="308.80" stroke="#333" stroke-width="0.8"/>
<line x1="571.05" y1="308.80" x2="592.87" y2="308.80" stroke="#333" stroke-width="2.1"/>
<circle cx="583.17" cy="308.80" r="0.65" fill="#fff"/>
<path d="M535.50,322.50 L536.19,322.08 L536.88,321.79 L537.57,321.46 L538.26,321.14 L538.95,320.82 L539.64,320.53 L540.32,320.24 L541.01,319.98 L541.70,319.73 L542.39,319.49 L543.08,319.26 L543.77,319.03 L544.46,318.80 L545.15,318.59 L545.84,318.38 L546.53,318.18 L547.22,318.00 L547.91,317.83 L548.59,317.68 L549.28,317.55 L549.97,317.43 L550.66,317.34 L551.35,317.25 L552.04,317.18 L552.73,317.11 L553.42,317.04 L554.11,316.98 L554.80,316.91 L555.49,316.85 L556.18,316.79 L556.86,316.74 L557.55,316.69 L558.24,316.64 L558.93,316.59 L559.62,316.54 L560.31,316.50 L561.00,316.47 L561.69,316.43 L562.38,316.40 L563.07,316.38 L563.76,316.35 L564.45,316.34 L565.13,316.32 L565.82,316.31 L566.51,316.31 L567.20,316.30 L567.89,316.31 L568.58,316.32 L569.27,316.33 L569.96,316.34 L570.65,316.36 L571.34,316.39 L572.03,316.41 L572.72,316.44 L573.40,316.48 L574.09,316.51 L574.78,316.55 L575.47,316.59 L576.16,316.64 L576.85,316.69 L577.54,316.73 L578.23,316.79 L578.92,316.84 L579.61,316.89 L580.30,316.95 L580.99,317.01 L581.67,317.06 L582.36,317.12 L583.05,317.18 L583.74,317.25 L584.43,317.31 L585.12,317.38 L585.81,317.46 L586.50,317.55 L587.19,317.65 L587.88,317.76 L588.57,317.87 L589.26,318.00 L589.94,318.13 L590.63,318.26 L591.32,318.40 L592.01,318.55 L592.70,318.69 L593.39,318.84 L594.08,319.00 L594.77,319.15 L595.46,319.30 L596.15,319.46 L596.84,319.61 L597.53,319.76 L598.22,319.91 L598.90,320.05 L599.59,320.19 L600.28,320.33 L600.97,320.47 L601.66,320.62 L602.35,320.77 L603.04,320.92 L603.73,321.07 L604.42,321.22 L605.11,321.36 L605.80,321.49 L606.49,321.60 L607.17,321.71 L607.86,321.80 L608.55,321.88 L609.24,321.95 L609.93,322.02 L610.62,322.09 L611.31,322.15 L612.00,322.22 L612.69,322.27 L613.38,322.32 L614.07,322.37 L614.76,322.41 L615.44,322.44 L616.13,322.47 L616.82,322.48 L617.51,322.50 L617.51,323.10 L616.82,323.12 L616.13,323.13 L615.44,323.16 L614.76,323.19 L614.07,323.23 L613.38,323.28 L612.69,323.33 L612.00,323.38 L611.31,323.45 L610.62,323.51 L609.93,323.58 L609.24,323.65 L608.55,323.72 L607.86,323.80 L607.17,323.89 L606.49,324.00 L605.80,324.11 L605.11,324.24 L604.42,324.38 L603.73,324.53 L603.04,324.68 L602.35,324.83 L601.66,324.98 L600.97,325.13 L600.28,325.27 L599.59,325.41 L598.90,325.55 L598.22,325.69 L597.53,325.84 L596.84,325.99 L596.15,326.14 L595.46,326.30 L594.77,326.45 L594.08,326.60 L593.39,326.76 L592.70,326.91 L592.01,327.05 L591.32,327.20 L590.63,327.34 L589.94,327.47 L589.26,327.60 L588.57,327.73 L587.88,327.84 L587.19,327.95 L586.50,328.05 L585.81,328.14 L585.12,328.22 L584.43,328.29 L583.74,328.35 L583.05,328.42 L582.36,328.48 L581.67,328.54 L580.99,328.59 L580.30,328.65 L579.61,328.71 L578.92,328.76 L578.23,328.81 L577.54,328.87 L576.85,328.91 L576.16,328.96 L575.47,329.01 L574.78,329.05 L574.09,329.09 L573.40,329.12 L572.72,329.16 L572.03,329.19 L571.34,329.21 L570.65,329.24 L569.96,329.26 L569.27,329.27 L568.58,329.28 L567.89,329.29 L567.20,329.30 L566.51,329.29 L565.82,329.29 L565.13,329.28 L564.45,329.26 L563.76,329.25 L563.07,329.22 L562.38,329.20 L561.69,329.17 L561.00,329.13 L560.31,329.10 L559.62,329.06 L558.93,329.01 L558.24,328.96 L557.55,328.91 L556.86,328.86 L556.18,328.81 L555.49,328.75 L554.80,328.69 L554.11,328.62 L553.42,328.56 L552.73,328.49 L552.04,328.42 L551.35,328.35 L550.66,328.26 L549.97,328.17 L549.28,328.05 L548.59,327.92 L547.91,327.77 L547.22,327.60 L546.53,327.42 L545.84,327.22 L545.15,327.01 L544.46,326.80 L543.77,326.57 L543.08,326.34 L542.39,326.11 L541.70,325.87 L541.01,325.62 L540.32,325.36 L539.64,325.07 L538.95,324.78 L538.26,324.46 L537.57,324.14 L536.88,323.81 L536.19,323.52 L535.50,323.10Z" fill="#8b3a7f" stroke="#333" stroke-width="0.85"/>
<line x1="535.50" y1="322.80" x2="617.51" y2="322.80" stroke="#333" stroke-width="0.8"/>
<line x1="555.70" y1="322.80" x2="581.56" y2="322.80" stroke="#333" stroke-width="2.1"/>
<circle cx="568.63" cy="322.80" r="0.65" fill="#fff"/>
<line x1="535.50" y1="193.80" x2="535.50" y2="333.40" stroke="#e8e8e8" stroke-width="0.8" stroke-opacity="0.62"/>
<line x1="555.70" y1="193.80" x2="555.70" y2="333.40" stroke="#e8e8e8" stroke-width="0.8" stroke-opacity="0.62"/>
<line x1="575.90" y1="193.80" x2="575.90" y2="333.40" stroke="#e8e8e8" stroke-width="0.8" stroke-opacity="0.62"/>
<line x1="596.10" y1="193.80" x2="596.10" y2="333.40" stroke="#e8e8e8" stroke-width="0.8" stroke-opacity="0.62"/>
<line x1="616.30" y1="193.80" x2="616.30" y2="333.40" stroke="#e8e8e8" stroke-width="0.8" stroke-opacity="0.62"/>
<line x1="524.10" y1="193.80" x2="524.10" y2="333.40" stroke="#444" stroke-width="0.8"/>
<line x1="627.50" y1="193.80" x2="627.50" y2="333.40" stroke="#444" stroke-width="0.8"/>
<line x1="524.10" y1="193.80" x2="627.50" y2="193.80" stroke="#444" stroke-width="0.8"/>
<line x1="524.10" y1="333.40" x2="627.50" y2="333.40" stroke="#444" stroke-width="0.8"/>
<line x1="521.60" y1="211.30" x2="524.10" y2="211.30" stroke="#444" stroke-width="0.8"/>
<text x="517.20" y="213.80" font-size="6.7" text-anchor="end" font-weight="normal" fill="#222" stroke="#222">NG2+PRS; NN</text>
<line x1="521.60" y1="245.30" x2="524.10" y2="245.30" stroke="#444" stroke-width="0.8"/>
<text x="516.50" y="249.40" font-size="6.7" text-anchor="end" font-weight="normal" fill="#222" stroke="#222">NG1+PRS; NN</text>
<line x1="521.60" y1="281.30" x2="524.10" y2="281.30" stroke="#444" stroke-width="0.8"/>
<text x="515.80" y="283.80" font-size="6.7" text-anchor="end" font-weight="normal" fill="#222" stroke="#222">NG2+PRS; LR</text>
<line x1="521.60" y1="315.30" x2="524.10" y2="315.30" stroke="#444" stroke-width="0.8"/>
<text x="515.20" y="318.50" font-size="6.7" text-anchor="end" font-weight="normal" fill="#222" stroke="#222">NG1+PRS; LR</text>
<line x1="535.50" y1="333.40" x2="535.50" y2="335.60" stroke="#444" stroke-width="0.8"/>
<text x="535.50" y="342.30" font-size="6.6" text-anchor="middle" font-weight="normal" fill="#222" stroke="#222">0.00</text>
<line x1="555.70" y1="333.40" x2="555.70" y2="335.60" stroke="#444" stroke-width="0.8"/>
<text x="555.70" y="342.30" font-size="6.6" text-anchor="middle" font-weight="normal" fill="#222" stroke="#222">0.25</text>
<line x1="575.90" y1="333.40" x2="575.90" y2="335.60" stroke="#444" stroke-width="0.8"/>
<text x="575.90" y="342.30" font-size="6.6" text-anchor="middle" font-weight="normal" fill="#222" stroke="#222">0.50</text>
<line x1="596.10" y1="333.40" x2="596.10" y2="335.60" stroke="#444" stroke-width="0.8"/>
<text x="596.10" y="342.30" font-size="6.6" text-anchor="middle" font-weight="normal" fill="#222" stroke="#222">0.75</text>
<line x1="616.30" y1="333.40" x2="616.30" y2="335.60" stroke="#444" stroke-width="0.8"/>
<text x="616.30" y="342.30" font-size="6.6" text-anchor="middle" font-weight="normal" fill="#222" stroke="#222">1.00</text>
<text x="581.60" y="357.00" font-size="10" text-anchor="middle" font-weight="normal" fill="#222" stroke="#222">Score</text>
<text x="441.00" y="265.00" font-size="10.2" text-anchor="middle" font-weight="normal" fill="#222" stroke="#222" transform="rotate(-90 441.0 265.0)">Trained Model</text>
<path d="M468.90,196.30 L466.10,196.30 Q464.60,196.30 464.60,197.80 L464.60,253.20 Q464.60,254.70 466.10,254.70 L468.90,254.70 M464.60,225.10 L461.30,225.10" fill="none" stroke="#666" stroke-width="0.8"/>
<path d="M468.40,272.40 L465.60,272.40 Q464.10,272.40 464.10,273.90 L464.10,331.20 Q464.10,332.70 465.60,332.70 L468.40,332.70 M464.10,301.40 L460.80,301.40" fill="none" stroke="#666" stroke-width="0.8"/>
<text x="456.50" y="230.50" font-size="9.7" text-anchor="end" font-weight="normal" fill="#222" stroke="#222">NN</text>
<text x="456.30" y="307.80" font-size="9.7" text-anchor="end" font-weight="normal" fill="#222" stroke="#222">LR</text>
<rect x="632.40" y="195.40" width="51.50" height="22.00" fill="#fff" stroke="#ddd" stroke-width="0.6" rx="1.5"/>
<rect x="635.30" y="198.30" width="14.30" height="5.30" fill="#de6b6c" stroke="#444" stroke-width="0.5" rx="0"/>
<rect x="635.30" y="207.90" width="14.30" height="5.50" fill="#8b3a7f" stroke="#444" stroke-width="0.5" rx="0"/>
<text x="655.40" y="203.80" font-size="7" text-anchor="start" font-weight="normal" fill="#222" stroke="#222">Cases</text>
<text x="655.40" y="213.40" font-size="7" text-anchor="start" font-weight="normal" fill="#222" stroke="#222">Controls</text>
</svg></body></html>
